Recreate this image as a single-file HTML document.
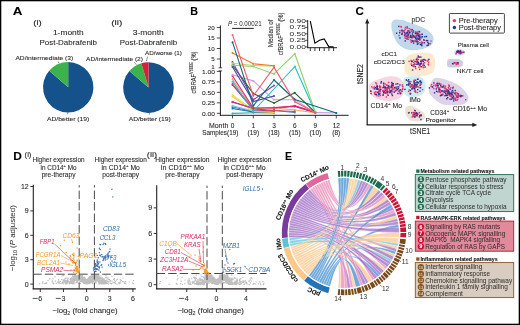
<!DOCTYPE html>
<html><head><meta charset="utf-8"><style>
html,body{margin:0;padding:0;background:#fff;}
body{width:520px;height:325px;overflow:hidden;font-family:"Liberation Sans",sans-serif;}
svg{position:absolute;left:0;top:0;will-change:transform;}
svg text{font-family:"Liberation Sans",sans-serif;}
</style></head><body>
<svg width="520" height="325" viewBox="0 0 520 325">
<rect x="0" y="0" width="520" height="325" fill="#fff"/>
<g fill="#231f20">
<text style="stroke:#000;stroke-width:0.08px" x="12.82" y="14.60" font-size="10.6" font-weight="bold" fill="#000" textLength="9.65" lengthAdjust="spacingAndGlyphs" >A</text>
<text style="stroke:#231f20;stroke-width:0.08px" x="33.26" y="25.00" font-size="7.6" textLength="8.58" lengthAdjust="spacingAndGlyphs" >(i)</text>
<text style="stroke:#231f20;stroke-width:0.08px" x="52.95" y="35.30" font-size="7.8" textLength="30.80" lengthAdjust="spacingAndGlyphs" >1-month</text>
<text style="stroke:#231f20;stroke-width:0.08px" x="39.55" y="44.60" font-size="7.8" textLength="57.50" lengthAdjust="spacingAndGlyphs" >Post-Dabrafenib</text>
<text style="stroke:#231f20;stroke-width:0.08px" x="111.16" y="25.20" font-size="7.6" textLength="11.18" lengthAdjust="spacingAndGlyphs" >(ii)</text>
<text style="stroke:#231f20;stroke-width:0.08px" x="132.75" y="35.20" font-size="7.8" textLength="31.00" lengthAdjust="spacingAndGlyphs" >3-month</text>
<text style="stroke:#231f20;stroke-width:0.08px" x="119.75" y="44.60" font-size="7.8" textLength="57.30" lengthAdjust="spacingAndGlyphs" >Post-Dabrafenib</text>
<path d="M68.2,87.3 L68.20,62.10 A25.2,25.2 0 1 1 49.16,70.80 Z" fill="#15518b" stroke="none" stroke-width="0.8" />
<path d="M68.2,87.3 L49.16,70.80 A25.2,25.2 0 0 1 68.20,62.10 Z" fill="#3bb34a" stroke="none" stroke-width="0.8" />
<path d="M148.5,87.6 L148.50,62.30 A25.3,25.3 0 1 1 129.38,71.03 Z" fill="#15518b" stroke="none" stroke-width="0.8" />
<path d="M148.5,87.6 L129.38,71.03 A25.3,25.3 0 0 1 141.37,63.32 Z" fill="#3bb34a" stroke="none" stroke-width="0.8" />
<path d="M148.5,87.6 L141.37,63.32 A25.3,25.3 0 0 1 148.50,62.30 Z" fill="#d51f3b" stroke="none" stroke-width="0.8" />
<text style="stroke:#231f20;stroke-width:0.08px" x="15.43" y="59.80" font-size="6.0" textLength="57.84" lengthAdjust="spacingAndGlyphs" >AD/intermediate (3)</text>
<text style="stroke:#231f20;stroke-width:0.08px" x="46.93" y="121.40" font-size="6.0" textLength="42.34" lengthAdjust="spacingAndGlyphs" >AD/better (19)</text>
<text style="stroke:#231f20;stroke-width:0.08px" x="86.03" y="61.00" font-size="6.0" textLength="56.94" lengthAdjust="spacingAndGlyphs" >AD/intermediate (2)</text>
<text style="stroke:#231f20;stroke-width:0.08px" x="144.93" y="55.20" font-size="6.0" textLength="37.04" lengthAdjust="spacingAndGlyphs" >AD/worse (1)</text>
<text style="stroke:#231f20;stroke-width:0.08px" x="128.73" y="121.40" font-size="6.0" textLength="42.04" lengthAdjust="spacingAndGlyphs" >AD/better (19)</text>
<line x1="58.20" y1="61.40" x2="58.90" y2="63.50" stroke="#231f20" stroke-width="0.5" />
<line x1="67.70" y1="112.40" x2="67.70" y2="114.30" stroke="#231f20" stroke-width="0.5" />
<line x1="149.40" y1="112.80" x2="149.40" y2="114.60" stroke="#231f20" stroke-width="0.5" />
<line x1="134.40" y1="62.30" x2="136.30" y2="64.70" stroke="#231f20" stroke-width="0.5" />
<line x1="147.50" y1="56.60" x2="146.50" y2="61.00" stroke="#231f20" stroke-width="0.5" />
<text style="stroke:#000;stroke-width:0.08px" x="190.32" y="14.60" font-size="10.6" font-weight="bold" fill="#000" textLength="7.75" lengthAdjust="spacingAndGlyphs" >B</text>
<line x1="220.40" y1="25.40" x2="220.40" y2="67.80" stroke="#231f20" stroke-width="1.0" />
<line x1="220.40" y1="70.90" x2="220.40" y2="115.70" stroke="#231f20" stroke-width="1.0" />
<line x1="218.70" y1="67.80" x2="222.10" y2="67.80" stroke="#231f20" stroke-width="0.8" />
<line x1="218.70" y1="70.90" x2="222.10" y2="70.90" stroke="#231f20" stroke-width="0.8" />
<line x1="216.80" y1="27.50" x2="220.40" y2="27.50" stroke="#231f20" stroke-width="0.8" />
<text style="stroke:#231f20;stroke-width:0.08px" x="214.60" y="29.70" font-size="6.2" text-anchor="end" >20</text>
<line x1="216.80" y1="38.00" x2="220.40" y2="38.00" stroke="#231f20" stroke-width="0.8" />
<text style="stroke:#231f20;stroke-width:0.08px" x="214.60" y="40.20" font-size="6.2" text-anchor="end" >15</text>
<line x1="216.80" y1="48.50" x2="220.40" y2="48.50" stroke="#231f20" stroke-width="0.8" />
<text style="stroke:#231f20;stroke-width:0.08px" x="214.60" y="50.70" font-size="6.2" text-anchor="end" >10</text>
<line x1="216.80" y1="59.00" x2="220.40" y2="59.00" stroke="#231f20" stroke-width="0.8" />
<text style="stroke:#231f20;stroke-width:0.08px" x="214.60" y="61.20" font-size="6.2" text-anchor="end" >5</text>
<text style="stroke:#231f20;stroke-width:0.08px" x="214.60" y="68.70" font-size="6.2" text-anchor="end" >1</text>
<line x1="216.80" y1="71.40" x2="220.40" y2="71.40" stroke="#231f20" stroke-width="0.8" />
<text style="stroke:#231f20;stroke-width:0.08px" x="215.00" y="73.60" font-size="6.2" text-anchor="end" textLength="12.9" lengthAdjust="spacingAndGlyphs">1.00</text>
<line x1="216.80" y1="81.88" x2="220.40" y2="81.88" stroke="#231f20" stroke-width="0.8" />
<text style="stroke:#231f20;stroke-width:0.08px" x="215.00" y="84.08" font-size="6.2" text-anchor="end" textLength="12.9" lengthAdjust="spacingAndGlyphs">0.75</text>
<line x1="216.80" y1="92.35" x2="220.40" y2="92.35" stroke="#231f20" stroke-width="0.8" />
<text style="stroke:#231f20;stroke-width:0.08px" x="215.00" y="94.55" font-size="6.2" text-anchor="end" textLength="12.9" lengthAdjust="spacingAndGlyphs">0.50</text>
<line x1="216.80" y1="102.83" x2="220.40" y2="102.83" stroke="#231f20" stroke-width="0.8" />
<text style="stroke:#231f20;stroke-width:0.08px" x="215.00" y="105.03" font-size="6.2" text-anchor="end" textLength="12.9" lengthAdjust="spacingAndGlyphs">0.25</text>
<line x1="216.80" y1="113.30" x2="220.40" y2="113.30" stroke="#231f20" stroke-width="0.8" />
<text style="stroke:#231f20;stroke-width:0.08px" x="215.00" y="115.50" font-size="6.2" text-anchor="end" textLength="12.9" lengthAdjust="spacingAndGlyphs">0.00</text>
<line x1="219.90" y1="115.30" x2="348.60" y2="115.30" stroke="#231f20" stroke-width="1.0" />
<line x1="232.50" y1="115.30" x2="232.50" y2="118.40" stroke="#231f20" stroke-width="0.8" />
<line x1="253.30" y1="115.30" x2="253.30" y2="118.40" stroke="#231f20" stroke-width="0.8" />
<line x1="274.00" y1="115.30" x2="274.00" y2="118.40" stroke="#231f20" stroke-width="0.8" />
<line x1="294.80" y1="115.30" x2="294.80" y2="118.40" stroke="#231f20" stroke-width="0.8" />
<line x1="315.40" y1="115.30" x2="315.40" y2="118.40" stroke="#231f20" stroke-width="0.8" />
<line x1="336.30" y1="115.30" x2="336.30" y2="118.40" stroke="#231f20" stroke-width="0.8" />
<text style="stroke:#231f20;stroke-width:0.08px" x="232.50" y="127.50" font-size="6.5" text-anchor="middle" >0</text>
<text style="stroke:#231f20;stroke-width:0.08px" x="253.30" y="127.50" font-size="6.5" text-anchor="middle" >1</text>
<text style="stroke:#231f20;stroke-width:0.08px" x="253.30" y="134.60" font-size="6.5" text-anchor="middle" >(19)</text>
<text style="stroke:#231f20;stroke-width:0.08px" x="274.00" y="127.50" font-size="6.5" text-anchor="middle" >3</text>
<text style="stroke:#231f20;stroke-width:0.08px" x="274.00" y="134.60" font-size="6.5" text-anchor="middle" >(18)</text>
<text style="stroke:#231f20;stroke-width:0.08px" x="294.80" y="127.50" font-size="6.5" text-anchor="middle" >6</text>
<text style="stroke:#231f20;stroke-width:0.08px" x="294.80" y="134.60" font-size="6.5" text-anchor="middle" >(15)</text>
<text style="stroke:#231f20;stroke-width:0.08px" x="315.40" y="127.50" font-size="6.5" text-anchor="middle" >9</text>
<text style="stroke:#231f20;stroke-width:0.08px" x="315.40" y="134.60" font-size="6.5" text-anchor="middle" >(10)</text>
<text style="stroke:#231f20;stroke-width:0.08px" x="336.30" y="127.50" font-size="6.5" text-anchor="middle" >12</text>
<text style="stroke:#231f20;stroke-width:0.08px" x="336.30" y="134.60" font-size="6.5" text-anchor="middle" >(8)</text>
<text style="stroke:#231f20;stroke-width:0.08px" x="208.91" y="127.50" font-size="6.5" textLength="19.39" lengthAdjust="spacingAndGlyphs" >Month</text>
<text style="stroke:#231f20;stroke-width:0.08px" x="202.21" y="134.60" font-size="6.5" textLength="36.18" lengthAdjust="spacingAndGlyphs" >Samples(19)</text>
<text style="stroke:#231f20;stroke-width:0.08px" transform="translate(195.7,93.6) rotate(-90)" font-size="6.9" textLength="42" lengthAdjust="spacingAndGlyphs">cfBRAF<tspan font-size="4.8" dy="-2.6">V600E</tspan><tspan dy="2.6"> (%)</tspan></text>
<text x="228.0" y="26.1" font-size="6.5" textLength="33.6" lengthAdjust="spacingAndGlyphs"><tspan font-style="italic">P</tspan> = 0.00021</text>
<line x1="232.10" y1="28.40" x2="253.70" y2="28.40" stroke="#231f20" stroke-width="1.0" />
<path d="M232.5,113.4 L253.3,112.8 L274.0,112.9" fill="none" stroke="#2bb0b0" stroke-width="1.1" stroke-linejoin="round"/>
<circle cx="232.50" cy="113.40" r="1.0" fill="#2bb0b0" />
<circle cx="253.30" cy="112.80" r="1.0" fill="#2bb0b0" />
<circle cx="274.00" cy="112.90" r="1.0" fill="#2bb0b0" />
<path d="M232.5,107.0 L253.3,111.5 L274.0,110.5 L294.8,112.5" fill="none" stroke="#3a8ad0" stroke-width="1.1" stroke-linejoin="round"/>
<circle cx="232.50" cy="107.00" r="1.0" fill="#3a8ad0" />
<circle cx="253.30" cy="111.50" r="1.0" fill="#3a8ad0" />
<circle cx="274.00" cy="110.50" r="1.0" fill="#3a8ad0" />
<circle cx="294.80" cy="112.50" r="1.0" fill="#3a8ad0" />
<path d="M232.5,108.5 L253.3,112.0 L274.0,112.2" fill="none" stroke="#1f5fb0" stroke-width="1.1" stroke-linejoin="round"/>
<circle cx="232.50" cy="108.50" r="1.0" fill="#1f5fb0" />
<circle cx="253.30" cy="112.00" r="1.0" fill="#1f5fb0" />
<circle cx="274.00" cy="112.20" r="1.0" fill="#1f5fb0" />
<path d="M232.5,105.8 L253.3,111.0 L274.0,111.5" fill="none" stroke="#6ac0e0" stroke-width="1.1" stroke-linejoin="round"/>
<circle cx="232.50" cy="105.80" r="1.0" fill="#6ac0e0" />
<circle cx="253.30" cy="111.00" r="1.0" fill="#6ac0e0" />
<circle cx="274.00" cy="111.50" r="1.0" fill="#6ac0e0" />
<path d="M232.5,95.0 L253.3,109.9 L274.0,111.0" fill="none" stroke="#e8e04a" stroke-width="1.1" stroke-linejoin="round"/>
<circle cx="232.50" cy="95.00" r="1.0" fill="#e8e04a" />
<circle cx="253.30" cy="109.90" r="1.0" fill="#e8e04a" />
<circle cx="274.00" cy="111.00" r="1.0" fill="#e8e04a" />
<path d="M232.5,96.5 L253.3,111.5 L274.0,112.5" fill="none" stroke="#f0d040" stroke-width="1.1" stroke-linejoin="round"/>
<circle cx="232.50" cy="96.50" r="1.0" fill="#f0d040" />
<circle cx="253.30" cy="111.50" r="1.0" fill="#f0d040" />
<circle cx="274.00" cy="112.50" r="1.0" fill="#f0d040" />
<path d="M232.5,101.7 L253.3,108.5 L274.0,107.5 L294.8,106.5 L315.4,112.6" fill="none" stroke="#d6287a" stroke-width="1.1" stroke-linejoin="round"/>
<circle cx="232.50" cy="101.70" r="1.0" fill="#d6287a" />
<circle cx="253.30" cy="108.50" r="1.0" fill="#d6287a" />
<circle cx="274.00" cy="107.50" r="1.0" fill="#d6287a" />
<circle cx="294.80" cy="106.50" r="1.0" fill="#d6287a" />
<circle cx="315.40" cy="112.60" r="1.0" fill="#d6287a" />
<path d="M232.5,102.3 L253.3,108.3 L274.0,108.8 L294.8,105.8 L315.4,112.3" fill="none" stroke="#c2388e" stroke-width="1.1" stroke-linejoin="round"/>
<circle cx="232.50" cy="102.30" r="1.0" fill="#c2388e" />
<circle cx="253.30" cy="108.30" r="1.0" fill="#c2388e" />
<circle cx="274.00" cy="108.80" r="1.0" fill="#c2388e" />
<circle cx="294.80" cy="105.80" r="1.0" fill="#c2388e" />
<circle cx="315.40" cy="112.30" r="1.0" fill="#c2388e" />
<path d="M232.5,85.0 L253.3,110.0 L274.0,111.0" fill="none" stroke="#a04090" stroke-width="1.1" stroke-linejoin="round"/>
<circle cx="232.50" cy="85.00" r="1.0" fill="#a04090" />
<circle cx="253.30" cy="110.00" r="1.0" fill="#a04090" />
<circle cx="274.00" cy="111.00" r="1.0" fill="#a04090" />
<path d="M232.5,79.0 L253.3,109.0 L274.0,108.0 L294.8,110.0 L315.4,112.8" fill="none" stroke="#f0a060" stroke-width="1.1" stroke-linejoin="round"/>
<circle cx="232.50" cy="79.00" r="1.0" fill="#f0a060" />
<circle cx="253.30" cy="109.00" r="1.0" fill="#f0a060" />
<circle cx="274.00" cy="108.00" r="1.0" fill="#f0a060" />
<circle cx="294.80" cy="110.00" r="1.0" fill="#f0a060" />
<circle cx="315.40" cy="112.80" r="1.0" fill="#f0a060" />
<path d="M232.5,76.0 L253.3,108.0 L274.0,107.8 L294.8,106.0 L315.4,112.5" fill="none" stroke="#e0237a" stroke-width="1.1" stroke-linejoin="round"/>
<circle cx="232.50" cy="76.00" r="1.0" fill="#e0237a" />
<circle cx="253.30" cy="108.00" r="1.0" fill="#e0237a" />
<circle cx="274.00" cy="107.80" r="1.0" fill="#e0237a" />
<circle cx="294.80" cy="106.00" r="1.0" fill="#e0237a" />
<circle cx="315.40" cy="112.50" r="1.0" fill="#e0237a" />
<path d="M232.5,84.0 L253.3,108.8 L274.0,110.5 L294.8,111.5" fill="none" stroke="#d04060" stroke-width="1.1" stroke-linejoin="round"/>
<circle cx="232.50" cy="84.00" r="1.0" fill="#d04060" />
<circle cx="253.30" cy="108.80" r="1.0" fill="#d04060" />
<circle cx="274.00" cy="110.50" r="1.0" fill="#d04060" />
<circle cx="294.80" cy="111.50" r="1.0" fill="#d04060" />
<path d="M232.5,74.7 L253.3,80.9 L274.0,99.8 L294.8,99.8 L315.4,112.6 L336.3,112.9" fill="none" stroke="#c9a2e0" stroke-width="1.1" stroke-linejoin="round"/>
<circle cx="232.50" cy="74.70" r="1.0" fill="#c9a2e0" />
<circle cx="253.30" cy="80.90" r="1.0" fill="#c9a2e0" />
<circle cx="274.00" cy="99.80" r="1.0" fill="#c9a2e0" />
<circle cx="294.80" cy="99.80" r="1.0" fill="#c9a2e0" />
<circle cx="315.40" cy="112.60" r="1.0" fill="#c9a2e0" />
<circle cx="336.30" cy="112.90" r="1.0" fill="#c9a2e0" />
<path d="M232.5,65.2 L253.3,93.6 L274.0,103.0 L294.8,92.8 L315.4,112.5" fill="none" stroke="#2d5e2e" stroke-width="1.1" stroke-linejoin="round"/>
<circle cx="232.50" cy="65.20" r="1.0" fill="#2d5e2e" />
<circle cx="253.30" cy="93.60" r="1.0" fill="#2d5e2e" />
<circle cx="274.00" cy="103.00" r="1.0" fill="#2d5e2e" />
<circle cx="294.80" cy="92.80" r="1.0" fill="#2d5e2e" />
<circle cx="315.40" cy="112.50" r="1.0" fill="#2d5e2e" />
<path d="M232.5,81.4 L253.3,111.2 L294.8,66.5 L315.4,112.5" fill="none" stroke="#22c2c2" stroke-width="1.1" stroke-linejoin="round"/>
<circle cx="232.50" cy="81.40" r="1.0" fill="#22c2c2" />
<circle cx="253.30" cy="111.20" r="1.0" fill="#22c2c2" />
<circle cx="294.80" cy="66.50" r="1.0" fill="#22c2c2" />
<circle cx="315.40" cy="112.50" r="1.0" fill="#22c2c2" />
<path d="M232.5,67.0 L253.3,101.5 L274.0,96.0" fill="none" stroke="#4a3fa8" stroke-width="1.1" stroke-linejoin="round"/>
<circle cx="232.50" cy="67.00" r="1.0" fill="#4a3fa8" />
<circle cx="253.30" cy="101.50" r="1.0" fill="#4a3fa8" />
<circle cx="274.00" cy="96.00" r="1.0" fill="#4a3fa8" />
<path d="M232.5,62.0 L253.3,99.8 L274.0,85.5" fill="none" stroke="#7a3fb2" stroke-width="1.1" stroke-linejoin="round"/>
<circle cx="232.50" cy="62.00" r="1.0" fill="#7a3fb2" />
<circle cx="253.30" cy="99.80" r="1.0" fill="#7a3fb2" />
<circle cx="274.00" cy="85.50" r="1.0" fill="#7a3fb2" />
<path d="M232.5,63.3 L253.3,65.5 L274.0,66.3" fill="none" stroke="#b5d96a" stroke-width="1.1" stroke-linejoin="round"/>
<circle cx="232.50" cy="63.30" r="1.0" fill="#b5d96a" />
<circle cx="253.30" cy="65.50" r="1.0" fill="#b5d96a" />
<circle cx="274.00" cy="66.30" r="1.0" fill="#b5d96a" />
<path d="M232.5,65.2 L253.3,66.5 L274.0,73.9 L294.8,53.8 L315.4,112.5" fill="none" stroke="#8fd070" stroke-width="1.1" stroke-linejoin="round"/>
<circle cx="232.50" cy="65.20" r="1.0" fill="#8fd070" />
<circle cx="253.30" cy="66.50" r="1.0" fill="#8fd070" />
<circle cx="274.00" cy="73.90" r="1.0" fill="#8fd070" />
<circle cx="294.80" cy="53.80" r="1.0" fill="#8fd070" />
<circle cx="315.40" cy="112.50" r="1.0" fill="#8fd070" />
<path d="M232.5,53.0 L253.3,63.8 L274.0,65.7" fill="none" stroke="#f07a2a" stroke-width="1.1" stroke-linejoin="round"/>
<circle cx="232.50" cy="53.00" r="1.0" fill="#f07a2a" />
<circle cx="253.30" cy="63.80" r="1.0" fill="#f07a2a" />
<circle cx="274.00" cy="65.70" r="1.0" fill="#f07a2a" />
<path d="M232.5,42.2 L253.3,105.8 L274.0,80.0 L294.8,99.5 L336.3,112.9" fill="none" stroke="#0e6878" stroke-width="1.1" stroke-linejoin="round"/>
<circle cx="232.50" cy="42.20" r="1.0" fill="#0e6878" />
<circle cx="253.30" cy="105.80" r="1.0" fill="#0e6878" />
<circle cx="274.00" cy="80.00" r="1.0" fill="#0e6878" />
<circle cx="294.80" cy="99.50" r="1.0" fill="#0e6878" />
<circle cx="336.30" cy="112.90" r="1.0" fill="#0e6878" />
<path d="M232.5,34.9 L253.3,95.8 L274.0,67.4 L294.8,101.7 L315.4,112.8" fill="none" stroke="#f25a6e" stroke-width="1.1" stroke-linejoin="round"/>
<circle cx="232.50" cy="34.90" r="1.0" fill="#f25a6e" />
<circle cx="253.30" cy="95.80" r="1.0" fill="#f25a6e" />
<circle cx="274.00" cy="67.40" r="1.0" fill="#f25a6e" />
<circle cx="294.80" cy="101.70" r="1.0" fill="#f25a6e" />
<circle cx="315.40" cy="112.80" r="1.0" fill="#f25a6e" />
<line x1="307.70" y1="20.00" x2="307.70" y2="48.20" stroke="#231f20" stroke-width="1.0" />
<line x1="307.20" y1="47.70" x2="337.00" y2="47.70" stroke="#231f20" stroke-width="1.0" />
<line x1="305.30" y1="21.10" x2="307.70" y2="21.10" stroke="#231f20" stroke-width="0.8" />
<text x="305.80" y="23.10" font-size="5.6" text-anchor="end" style="stroke:none" textLength="16.3" lengthAdjust="spacingAndGlyphs">0.90</text>
<line x1="305.30" y1="27.40" x2="307.70" y2="27.40" stroke="#231f20" stroke-width="0.8" />
<text x="305.80" y="29.40" font-size="5.6" text-anchor="end" style="stroke:none" textLength="16.3" lengthAdjust="spacingAndGlyphs">0.75</text>
<line x1="305.30" y1="33.80" x2="307.70" y2="33.80" stroke="#231f20" stroke-width="0.8" />
<text x="305.80" y="35.80" font-size="5.6" text-anchor="end" style="stroke:none" textLength="16.3" lengthAdjust="spacingAndGlyphs">0.50</text>
<line x1="305.30" y1="40.30" x2="307.70" y2="40.30" stroke="#231f20" stroke-width="0.8" />
<text x="305.80" y="42.30" font-size="5.6" text-anchor="end" style="stroke:none" textLength="16.3" lengthAdjust="spacingAndGlyphs">0.25</text>
<line x1="305.30" y1="46.90" x2="307.70" y2="46.90" stroke="#231f20" stroke-width="0.8" />
<text x="305.80" y="48.90" font-size="5.6" text-anchor="end" style="stroke:none" textLength="16.3" lengthAdjust="spacingAndGlyphs">0.00</text>
<line x1="310.30" y1="47.70" x2="310.30" y2="51.00" stroke="#231f20" stroke-width="0.9" />
<line x1="314.90" y1="47.70" x2="314.90" y2="51.00" stroke="#231f20" stroke-width="0.9" />
<line x1="319.50" y1="47.70" x2="319.50" y2="51.00" stroke="#231f20" stroke-width="0.9" />
<line x1="324.20" y1="47.70" x2="324.20" y2="51.00" stroke="#231f20" stroke-width="0.9" />
<line x1="328.90" y1="47.70" x2="328.90" y2="51.00" stroke="#231f20" stroke-width="0.9" />
<line x1="333.60" y1="47.70" x2="333.60" y2="51.00" stroke="#231f20" stroke-width="0.9" />
<path d="M310.3,21.1 L314.9,43.1 L319.5,40.3 L324.2,38.9 L328.9,46.9 L333.6,46.9" fill="none" stroke="#000" stroke-width="1.1" />
<text style="stroke:#231f20;stroke-width:0.08px" transform="translate(272.6,47.2) rotate(-90)" font-size="7.0" textLength="27.7" lengthAdjust="spacingAndGlyphs">Median of</text>
<text style="stroke:#231f20;stroke-width:0.08px" transform="translate(282.6,55.0) rotate(-90)" font-size="6.9" textLength="42.4" lengthAdjust="spacingAndGlyphs">cfBRAF<tspan font-size="4.8" dy="-2.6">V600E</tspan><tspan dy="2.6"> (%)</tspan></text>
<text style="stroke:#000;stroke-width:0.08px" x="355.52" y="14.60" font-size="10.6" font-weight="bold" fill="#000" textLength="8.35" lengthAdjust="spacingAndGlyphs" >C</text>
<path d="M393.00,20.50 C394.75,19.17 398.83,19.50 402.00,20.00 C405.17,20.50 408.17,22.08 412.00,23.50 C415.83,24.92 421.67,26.67 425.00,28.50 C428.33,30.33 430.58,32.50 432.00,34.50 C433.42,36.50 433.83,38.58 433.50,40.50 C433.17,42.42 432.25,44.50 430.00,46.00 C427.75,47.50 423.33,48.83 420.00,49.50 C416.67,50.17 413.17,50.50 410.00,50.00 C406.83,49.50 403.50,48.33 401.00,46.50 C398.50,44.67 396.58,42.08 395.00,39.00 C393.42,35.92 391.83,31.08 391.50,28.00 C391.17,24.92 391.25,21.83 393.00,20.50Z" fill="#bfd8ec" stroke="none" stroke-width="0.8" />
<path d="M404.50,68.00 C404.50,65.33 404.75,60.33 406.00,58.00 C407.25,55.67 408.83,54.92 412.00,54.00 C415.17,53.08 421.50,52.33 425.00,52.50 C428.50,52.67 431.30,53.25 433.00,55.00 C434.70,56.75 435.20,60.17 435.20,63.00 C435.20,65.83 434.70,69.92 433.00,72.00 C431.30,74.08 428.50,74.83 425.00,75.50 C421.50,76.17 415.17,76.25 412.00,76.00 C408.83,75.75 407.25,75.33 406.00,74.00 C404.75,72.67 404.50,70.67 404.50,68.00Z" fill="#fcead0" stroke="none" stroke-width="0.8" />
<path d="M368.80,88.00 C368.80,86.00 369.47,84.42 371.00,83.00 C372.53,81.58 375.17,80.58 378.00,79.50 C380.83,78.42 384.83,76.92 388.00,76.50 C391.17,76.08 394.50,76.08 397.00,77.00 C399.50,77.92 401.78,79.83 403.00,82.00 C404.22,84.17 404.63,87.50 404.30,90.00 C403.97,92.50 403.22,95.17 401.00,97.00 C398.78,98.83 394.67,100.58 391.00,101.00 C387.33,101.42 382.33,100.50 379.00,99.50 C375.67,98.50 372.70,96.92 371.00,95.00 C369.30,93.08 368.80,90.00 368.80,88.00Z" fill="#f7d5e3" stroke="none" stroke-width="0.8" />
<path d="M403.50,80.00 C404.33,77.75 405.25,77.08 408.00,76.50 C410.75,75.92 417.17,75.58 420.00,76.50 C422.83,77.42 424.25,79.42 425.00,82.00 C425.75,84.58 425.67,89.58 424.50,92.00 C423.33,94.42 420.75,95.75 418.00,96.50 C415.25,97.25 410.50,97.58 408.00,96.50 C405.50,95.42 403.75,92.75 403.00,90.00 C402.25,87.25 402.67,82.25 403.50,80.00Z" fill="#cdeef1" stroke="none" stroke-width="0.8" />
<path d="M428.90,90.60 C429.08,87.82 430.68,81.53 432.80,79.50 C434.92,77.47 437.35,77.48 441.60,78.40 C445.85,79.32 453.87,82.03 458.30,85.00 C462.73,87.97 467.10,93.13 468.20,96.20 C469.30,99.27 467.48,101.93 464.90,103.40 C462.32,104.87 456.58,104.92 452.70,105.00 C448.82,105.08 445.10,105.37 441.60,103.90 C438.10,102.43 433.82,98.42 431.70,96.20 C429.58,93.98 428.72,93.38 428.90,90.60Z" fill="#ddd2e9" stroke="none" stroke-width="0.8" />
<path d="M406.00,107.00 C407.00,106.13 409.00,105.47 411.00,105.80 C413.00,106.13 415.83,107.80 418.00,109.00 C420.17,110.20 422.83,111.50 424.00,113.00 C425.17,114.50 425.67,116.67 425.00,118.00 C424.33,119.33 422.17,120.50 420.00,121.00 C417.83,121.50 414.17,121.67 412.00,121.00 C409.83,120.33 408.17,118.67 407.00,117.00 C405.83,115.33 405.17,112.67 405.00,111.00 C404.83,109.33 405.00,107.87 406.00,107.00Z" fill="#ebe2d2" stroke="none" stroke-width="0.8" />
<path d="M449.00,59.30 C450.78,58.98 455.75,58.73 458.00,59.10 C460.25,59.47 461.70,60.52 462.50,61.50 C463.30,62.48 463.38,64.03 462.80,65.00 C462.22,65.97 461.30,66.92 459.00,67.30 C456.70,67.68 450.95,67.68 449.00,67.30 C447.05,66.92 447.58,66.05 447.30,65.00 C447.02,63.95 447.02,61.95 447.30,61.00 C447.58,60.05 447.22,59.62 449.00,59.30Z" fill="#cfcbe1" stroke="none" stroke-width="0.8" />
<ellipse cx="459.6" cy="52.4" rx="5.6" ry="3.3" fill="#d5e1f3"/>
<rect x="421.1" y="44.9" width="1.4" height="1.4" fill="#27348f"/>
<rect x="409.8" y="39.2" width="1.4" height="1.4" fill="#e8306c"/>
<rect x="404.8" y="26.7" width="1.4" height="1.4" fill="#e8306c"/>
<rect x="427.8" y="43.1" width="1.4" height="1.4" fill="#e8306c"/>
<rect x="411.9" y="35.1" width="1.4" height="1.4" fill="#e8306c"/>
<rect x="411.7" y="32.4" width="1.4" height="1.4" fill="#27348f"/>
<rect x="413.8" y="35.5" width="1.4" height="1.4" fill="#e8306c"/>
<rect x="406.6" y="35.1" width="1.4" height="1.4" fill="#e8306c"/>
<rect x="417.8" y="38.2" width="1.4" height="1.4" fill="#e8306c"/>
<rect x="405.4" y="32.8" width="1.4" height="1.4" fill="#e8306c"/>
<rect x="412.2" y="39.9" width="1.4" height="1.4" fill="#e8306c"/>
<rect x="428.1" y="42.9" width="1.4" height="1.4" fill="#27348f"/>
<rect x="409.0" y="32.1" width="1.4" height="1.4" fill="#27348f"/>
<rect x="415.2" y="35.1" width="1.4" height="1.4" fill="#e8306c"/>
<rect x="411.5" y="28.9" width="1.4" height="1.4" fill="#27348f"/>
<rect x="395.9" y="32.5" width="1.4" height="1.4" fill="#27348f"/>
<rect x="406.2" y="38.1" width="1.4" height="1.4" fill="#27348f"/>
<rect x="419.1" y="34.3" width="1.4" height="1.4" fill="#27348f"/>
<rect x="418.0" y="38.4" width="1.4" height="1.4" fill="#27348f"/>
<rect x="406.7" y="34.5" width="1.4" height="1.4" fill="#27348f"/>
<rect x="410.0" y="28.8" width="1.4" height="1.4" fill="#e8306c"/>
<rect x="401.4" y="32.9" width="1.4" height="1.4" fill="#27348f"/>
<rect x="403.3" y="31.3" width="1.4" height="1.4" fill="#e8306c"/>
<rect x="414.3" y="36.5" width="1.4" height="1.4" fill="#27348f"/>
<rect x="423.7" y="39.6" width="1.4" height="1.4" fill="#e8306c"/>
<rect x="415.3" y="40.9" width="1.4" height="1.4" fill="#27348f"/>
<rect x="414.9" y="31.6" width="1.4" height="1.4" fill="#27348f"/>
<rect x="411.3" y="39.9" width="1.4" height="1.4" fill="#27348f"/>
<rect x="403.9" y="30.0" width="1.4" height="1.4" fill="#e8306c"/>
<rect x="427.1" y="41.7" width="1.4" height="1.4" fill="#27348f"/>
<rect x="424.2" y="36.0" width="1.4" height="1.4" fill="#27348f"/>
<rect x="400.8" y="30.2" width="1.4" height="1.4" fill="#e8306c"/>
<rect x="427.5" y="44.5" width="1.4" height="1.4" fill="#27348f"/>
<rect x="413.5" y="40.5" width="1.4" height="1.4" fill="#e8306c"/>
<rect x="405.7" y="35.8" width="1.4" height="1.4" fill="#27348f"/>
<rect x="404.5" y="28.4" width="1.4" height="1.4" fill="#e8306c"/>
<rect x="417.9" y="38.3" width="1.4" height="1.4" fill="#e8306c"/>
<rect x="398.1" y="25.7" width="1.4" height="1.4" fill="#27348f"/>
<rect x="419.0" y="31.1" width="1.4" height="1.4" fill="#e8306c"/>
<rect x="420.7" y="33.8" width="1.4" height="1.4" fill="#e8306c"/>
<rect x="413.3" y="36.0" width="1.4" height="1.4" fill="#27348f"/>
<rect x="411.1" y="37.0" width="1.4" height="1.4" fill="#27348f"/>
<rect x="409.5" y="35.6" width="1.4" height="1.4" fill="#e8306c"/>
<rect x="406.7" y="32.8" width="1.4" height="1.4" fill="#e8306c"/>
<rect x="411.0" y="30.6" width="1.4" height="1.4" fill="#e8306c"/>
<rect x="409.8" y="34.7" width="1.4" height="1.4" fill="#e8306c"/>
<rect x="406.4" y="34.4" width="1.4" height="1.4" fill="#e8306c"/>
<rect x="421.3" y="36.3" width="1.4" height="1.4" fill="#e8306c"/>
<rect x="400.6" y="26.2" width="1.4" height="1.4" fill="#e8306c"/>
<rect x="416.6" y="37.5" width="1.4" height="1.4" fill="#27348f"/>
<rect x="417.3" y="42.9" width="1.4" height="1.4" fill="#27348f"/>
<rect x="406.1" y="32.2" width="1.4" height="1.4" fill="#27348f"/>
<rect x="416.6" y="32.6" width="1.4" height="1.4" fill="#e8306c"/>
<rect x="407.7" y="30.4" width="1.4" height="1.4" fill="#27348f"/>
<rect x="404.6" y="37.6" width="1.4" height="1.4" fill="#e8306c"/>
<rect x="418.0" y="35.4" width="1.4" height="1.4" fill="#27348f"/>
<rect x="412.9" y="31.6" width="1.4" height="1.4" fill="#e8306c"/>
<rect x="429.7" y="43.0" width="1.4" height="1.4" fill="#e8306c"/>
<rect x="407.3" y="32.4" width="1.4" height="1.4" fill="#27348f"/>
<rect x="425.7" y="39.9" width="1.4" height="1.4" fill="#27348f"/>
<rect x="405.0" y="35.2" width="1.4" height="1.4" fill="#e8306c"/>
<rect x="408.8" y="30.3" width="1.4" height="1.4" fill="#e8306c"/>
<rect x="420.9" y="42.6" width="1.4" height="1.4" fill="#e8306c"/>
<rect x="404.0" y="32.1" width="1.4" height="1.4" fill="#27348f"/>
<rect x="413.3" y="35.5" width="1.4" height="1.4" fill="#e8306c"/>
<rect x="414.7" y="32.9" width="1.4" height="1.4" fill="#e8306c"/>
<rect x="406.5" y="26.3" width="1.4" height="1.4" fill="#27348f"/>
<rect x="399.2" y="37.2" width="1.4" height="1.4" fill="#27348f"/>
<rect x="410.9" y="41.4" width="1.4" height="1.4" fill="#e8306c"/>
<rect x="412.9" y="42.4" width="1.4" height="1.4" fill="#27348f"/>
<rect x="417.5" y="34.3" width="1.4" height="1.4" fill="#e8306c"/>
<rect x="404.5" y="40.2" width="1.4" height="1.4" fill="#27348f"/>
<rect x="430.3" y="40.4" width="1.4" height="1.4" fill="#e8306c"/>
<rect x="408.1" y="33.2" width="1.4" height="1.4" fill="#e8306c"/>
<rect x="426.4" y="44.8" width="1.4" height="1.4" fill="#27348f"/>
<rect x="416.7" y="34.0" width="1.4" height="1.4" fill="#27348f"/>
<rect x="414.9" y="32.7" width="1.4" height="1.4" fill="#27348f"/>
<rect x="411.8" y="37.0" width="1.4" height="1.4" fill="#e8306c"/>
<rect x="421.7" y="36.0" width="1.4" height="1.4" fill="#27348f"/>
<rect x="404.7" y="33.3" width="1.4" height="1.4" fill="#27348f"/>
<rect x="412.6" y="35.1" width="1.4" height="1.4" fill="#27348f"/>
<rect x="415.1" y="37.7" width="1.4" height="1.4" fill="#27348f"/>
<rect x="417.9" y="38.5" width="1.4" height="1.4" fill="#27348f"/>
<rect x="407.6" y="34.6" width="1.4" height="1.4" fill="#e8306c"/>
<rect x="410.3" y="41.3" width="1.4" height="1.4" fill="#e8306c"/>
<rect x="419.8" y="36.4" width="1.4" height="1.4" fill="#27348f"/>
<rect x="418.6" y="36.2" width="1.4" height="1.4" fill="#e8306c"/>
<rect x="407.7" y="33.9" width="1.4" height="1.4" fill="#27348f"/>
<rect x="413.0" y="35.9" width="1.4" height="1.4" fill="#27348f"/>
<rect x="406.6" y="38.4" width="1.4" height="1.4" fill="#e8306c"/>
<rect x="410.1" y="36.0" width="1.4" height="1.4" fill="#27348f"/>
<rect x="415.9" y="38.8" width="1.4" height="1.4" fill="#27348f"/>
<rect x="423.0" y="39.2" width="1.4" height="1.4" fill="#27348f"/>
<rect x="409.1" y="31.6" width="1.4" height="1.4" fill="#27348f"/>
<rect x="408.5" y="36.8" width="1.4" height="1.4" fill="#e8306c"/>
<rect x="399.0" y="32.0" width="1.4" height="1.4" fill="#27348f"/>
<rect x="420.5" y="37.3" width="1.4" height="1.4" fill="#e8306c"/>
<rect x="407.1" y="36.5" width="1.4" height="1.4" fill="#27348f"/>
<rect x="418.4" y="35.8" width="1.4" height="1.4" fill="#e8306c"/>
<rect x="401.2" y="29.5" width="1.4" height="1.4" fill="#27348f"/>
<rect x="411.6" y="36.0" width="1.4" height="1.4" fill="#e8306c"/>
<rect x="421.0" y="41.3" width="1.4" height="1.4" fill="#e8306c"/>
<rect x="422.0" y="42.0" width="1.4" height="1.4" fill="#e8306c"/>
<rect x="416.1" y="32.5" width="1.4" height="1.4" fill="#27348f"/>
<rect x="416.3" y="41.1" width="1.4" height="1.4" fill="#27348f"/>
<rect x="416.7" y="43.5" width="1.4" height="1.4" fill="#27348f"/>
<rect x="416.3" y="33.9" width="1.4" height="1.4" fill="#e8306c"/>
<rect x="419.1" y="38.9" width="1.4" height="1.4" fill="#27348f"/>
<rect x="421.6" y="33.6" width="1.4" height="1.4" fill="#27348f"/>
<rect x="414.5" y="40.3" width="1.4" height="1.4" fill="#e8306c"/>
<rect x="411.0" y="29.1" width="1.4" height="1.4" fill="#e8306c"/>
<rect x="417.4" y="32.8" width="1.4" height="1.4" fill="#27348f"/>
<rect x="418.8" y="34.6" width="1.4" height="1.4" fill="#e8306c"/>
<rect x="407.3" y="36.1" width="1.4" height="1.4" fill="#e8306c"/>
<rect x="407.4" y="30.2" width="1.4" height="1.4" fill="#27348f"/>
<rect x="418.9" y="39.6" width="1.4" height="1.4" fill="#e8306c"/>
<rect x="415.8" y="39.2" width="1.4" height="1.4" fill="#27348f"/>
<rect x="403.8" y="34.5" width="1.4" height="1.4" fill="#27348f"/>
<rect x="411.7" y="35.8" width="1.4" height="1.4" fill="#27348f"/>
<rect x="399.1" y="30.1" width="1.4" height="1.4" fill="#e8306c"/>
<rect x="408.4" y="27.9" width="1.4" height="1.4" fill="#e8306c"/>
<rect x="401.7" y="31.4" width="1.4" height="1.4" fill="#e8306c"/>
<rect x="401.2" y="33.7" width="1.4" height="1.4" fill="#27348f"/>
<rect x="418.5" y="36.4" width="1.4" height="1.4" fill="#27348f"/>
<rect x="414.9" y="37.0" width="1.4" height="1.4" fill="#27348f"/>
<rect x="416.1" y="35.4" width="1.4" height="1.4" fill="#27348f"/>
<rect x="418.3" y="35.6" width="1.4" height="1.4" fill="#27348f"/>
<rect x="417.8" y="34.6" width="1.4" height="1.4" fill="#27348f"/>
<rect x="412.7" y="30.2" width="1.4" height="1.4" fill="#27348f"/>
<rect x="407.2" y="32.4" width="1.4" height="1.4" fill="#e8306c"/>
<rect x="412.3" y="40.7" width="1.4" height="1.4" fill="#27348f"/>
<rect x="423.7" y="42.1" width="1.4" height="1.4" fill="#27348f"/>
<rect x="404.3" y="36.2" width="1.4" height="1.4" fill="#e8306c"/>
<rect x="411.9" y="34.2" width="1.4" height="1.4" fill="#27348f"/>
<rect x="418.1" y="32.5" width="1.4" height="1.4" fill="#e8306c"/>
<rect x="419.7" y="43.9" width="1.4" height="1.4" fill="#27348f"/>
<rect x="406.3" y="27.8" width="1.4" height="1.4" fill="#e8306c"/>
<rect x="398.4" y="34.8" width="1.4" height="1.4" fill="#e8306c"/>
<rect x="414.7" y="39.6" width="1.4" height="1.4" fill="#e8306c"/>
<rect x="419.2" y="42.0" width="1.4" height="1.4" fill="#e8306c"/>
<rect x="416.4" y="39.5" width="1.4" height="1.4" fill="#e8306c"/>
<rect x="411.9" y="35.0" width="1.4" height="1.4" fill="#e8306c"/>
<rect x="410.0" y="34.9" width="1.4" height="1.4" fill="#27348f"/>
<rect x="400.3" y="25.9" width="1.4" height="1.4" fill="#e8306c"/>
<rect x="407.7" y="38.6" width="1.4" height="1.4" fill="#e8306c"/>
<rect x="406.6" y="31.6" width="1.4" height="1.4" fill="#27348f"/>
<rect x="418.4" y="30.8" width="1.4" height="1.4" fill="#27348f"/>
<rect x="402.4" y="30.2" width="1.4" height="1.4" fill="#27348f"/>
<rect x="415.0" y="31.4" width="1.4" height="1.4" fill="#e8306c"/>
<rect x="410.2" y="36.6" width="1.4" height="1.4" fill="#27348f"/>
<rect x="421.0" y="43.5" width="1.4" height="1.4" fill="#27348f"/>
<rect x="426.9" y="39.9" width="1.4" height="1.4" fill="#27348f"/>
<rect x="417.3" y="41.1" width="1.4" height="1.4" fill="#27348f"/>
<rect x="406.3" y="37.5" width="1.4" height="1.4" fill="#e8306c"/>
<rect x="411.5" y="35.1" width="1.4" height="1.4" fill="#e8306c"/>
<rect x="404.3" y="33.3" width="1.4" height="1.4" fill="#e8306c"/>
<rect x="416.6" y="31.3" width="1.4" height="1.4" fill="#e8306c"/>
<rect x="407.8" y="30.5" width="1.4" height="1.4" fill="#e8306c"/>
<rect x="418.9" y="38.2" width="1.4" height="1.4" fill="#27348f"/>
<rect x="425.8" y="35.8" width="1.4" height="1.4" fill="#27348f"/>
<rect x="420.7" y="62.4" width="1.4" height="1.4" fill="#27348f"/>
<rect x="416.6" y="57.3" width="1.4" height="1.4" fill="#e8306c"/>
<rect x="411.4" y="60.5" width="1.4" height="1.4" fill="#27348f"/>
<rect x="422.3" y="64.8" width="1.4" height="1.4" fill="#e8306c"/>
<rect x="425.1" y="59.7" width="1.4" height="1.4" fill="#e8306c"/>
<rect x="418.3" y="63.3" width="1.4" height="1.4" fill="#e8306c"/>
<rect x="413.4" y="63.9" width="1.4" height="1.4" fill="#e8306c"/>
<rect x="423.4" y="58.7" width="1.4" height="1.4" fill="#27348f"/>
<rect x="418.5" y="63.0" width="1.4" height="1.4" fill="#e8306c"/>
<rect x="423.5" y="64.6" width="1.4" height="1.4" fill="#27348f"/>
<rect x="416.2" y="60.7" width="1.4" height="1.4" fill="#27348f"/>
<rect x="420.1" y="56.4" width="1.4" height="1.4" fill="#27348f"/>
<rect x="418.1" y="56.1" width="1.4" height="1.4" fill="#e8306c"/>
<rect x="424.4" y="66.3" width="1.4" height="1.4" fill="#27348f"/>
<rect x="411.4" y="64.6" width="1.4" height="1.4" fill="#e8306c"/>
<rect x="424.2" y="59.4" width="1.4" height="1.4" fill="#27348f"/>
<rect x="411.9" y="69.3" width="1.4" height="1.4" fill="#27348f"/>
<rect x="411.1" y="64.7" width="1.4" height="1.4" fill="#27348f"/>
<rect x="416.5" y="58.6" width="1.4" height="1.4" fill="#e8306c"/>
<rect x="415.0" y="67.8" width="1.4" height="1.4" fill="#e8306c"/>
<rect x="421.9" y="60.1" width="1.4" height="1.4" fill="#27348f"/>
<rect x="415.7" y="58.7" width="1.4" height="1.4" fill="#27348f"/>
<rect x="413.1" y="59.4" width="1.4" height="1.4" fill="#e8306c"/>
<rect x="420.9" y="66.0" width="1.4" height="1.4" fill="#27348f"/>
<rect x="416.5" y="61.6" width="1.4" height="1.4" fill="#27348f"/>
<rect x="422.8" y="67.0" width="1.4" height="1.4" fill="#e8306c"/>
<rect x="415.2" y="60.5" width="1.4" height="1.4" fill="#e8306c"/>
<rect x="420.1" y="60.8" width="1.4" height="1.4" fill="#27348f"/>
<rect x="420.6" y="59.8" width="1.4" height="1.4" fill="#e8306c"/>
<rect x="422.4" y="59.0" width="1.4" height="1.4" fill="#27348f"/>
<rect x="423.9" y="62.0" width="1.4" height="1.4" fill="#e8306c"/>
<rect x="416.9" y="61.2" width="1.4" height="1.4" fill="#27348f"/>
<rect x="427.9" y="61.5" width="1.4" height="1.4" fill="#e8306c"/>
<rect x="419.0" y="68.7" width="1.4" height="1.4" fill="#e8306c"/>
<rect x="422.8" y="66.5" width="1.4" height="1.4" fill="#e8306c"/>
<rect x="419.4" y="62.9" width="1.4" height="1.4" fill="#e8306c"/>
<rect x="410.3" y="59.8" width="1.4" height="1.4" fill="#e8306c"/>
<rect x="417.7" y="63.2" width="1.4" height="1.4" fill="#e8306c"/>
<rect x="418.3" y="56.5" width="1.4" height="1.4" fill="#27348f"/>
<rect x="417.5" y="55.4" width="1.4" height="1.4" fill="#27348f"/>
<rect x="414.2" y="63.5" width="1.4" height="1.4" fill="#27348f"/>
<rect x="417.4" y="64.0" width="1.4" height="1.4" fill="#e8306c"/>
<rect x="420.3" y="60.6" width="1.4" height="1.4" fill="#27348f"/>
<rect x="413.2" y="65.9" width="1.4" height="1.4" fill="#e8306c"/>
<rect x="422.6" y="60.9" width="1.4" height="1.4" fill="#27348f"/>
<rect x="417.4" y="62.8" width="1.4" height="1.4" fill="#27348f"/>
<rect x="419.7" y="63.0" width="1.4" height="1.4" fill="#e8306c"/>
<rect x="419.9" y="63.4" width="1.4" height="1.4" fill="#27348f"/>
<rect x="419.7" y="65.9" width="1.4" height="1.4" fill="#e8306c"/>
<rect x="410.9" y="60.9" width="1.4" height="1.4" fill="#27348f"/>
<rect x="416.7" y="59.9" width="1.4" height="1.4" fill="#e8306c"/>
<rect x="417.7" y="62.3" width="1.4" height="1.4" fill="#e8306c"/>
<rect x="416.1" y="63.6" width="1.4" height="1.4" fill="#27348f"/>
<rect x="418.7" y="63.9" width="1.4" height="1.4" fill="#e8306c"/>
<rect x="419.2" y="64.6" width="1.4" height="1.4" fill="#27348f"/>
<rect x="413.5" y="63.8" width="1.4" height="1.4" fill="#27348f"/>
<rect x="427.4" y="59.4" width="1.4" height="1.4" fill="#e8306c"/>
<rect x="410.5" y="63.3" width="1.4" height="1.4" fill="#e8306c"/>
<rect x="412.4" y="65.5" width="1.4" height="1.4" fill="#e8306c"/>
<rect x="427.8" y="64.2" width="1.4" height="1.4" fill="#e8306c"/>
<rect x="414.2" y="61.1" width="1.4" height="1.4" fill="#27348f"/>
<rect x="417.6" y="62.9" width="1.4" height="1.4" fill="#27348f"/>
<rect x="422.7" y="63.3" width="1.4" height="1.4" fill="#27348f"/>
<rect x="417.7" y="61.8" width="1.4" height="1.4" fill="#e8306c"/>
<rect x="412.9" y="65.4" width="1.4" height="1.4" fill="#e8306c"/>
<rect x="416.2" y="61.9" width="1.4" height="1.4" fill="#e8306c"/>
<rect x="427.6" y="63.4" width="1.4" height="1.4" fill="#e8306c"/>
<rect x="412.7" y="61.7" width="1.4" height="1.4" fill="#e8306c"/>
<rect x="417.8" y="58.8" width="1.4" height="1.4" fill="#e8306c"/>
<rect x="420.2" y="63.0" width="1.4" height="1.4" fill="#27348f"/>
<rect x="417.7" y="61.7" width="1.4" height="1.4" fill="#27348f"/>
<rect x="419.0" y="56.6" width="1.4" height="1.4" fill="#e8306c"/>
<rect x="414.7" y="66.0" width="1.4" height="1.4" fill="#27348f"/>
<rect x="418.2" y="66.6" width="1.4" height="1.4" fill="#e8306c"/>
<rect x="428.2" y="58.7" width="1.4" height="1.4" fill="#27348f"/>
<rect x="420.4" y="59.4" width="1.4" height="1.4" fill="#e8306c"/>
<rect x="413.8" y="63.3" width="1.4" height="1.4" fill="#e8306c"/>
<rect x="408.4" y="60.7" width="1.4" height="1.4" fill="#e8306c"/>
<rect x="422.5" y="64.5" width="1.4" height="1.4" fill="#e8306c"/>
<rect x="426.8" y="60.4" width="1.4" height="1.4" fill="#e8306c"/>
<rect x="386.9" y="93.3" width="1.4" height="1.4" fill="#e8306c"/>
<rect x="376.2" y="85.4" width="1.4" height="1.4" fill="#e8306c"/>
<rect x="402.0" y="88.1" width="1.4" height="1.4" fill="#e8306c"/>
<rect x="370.0" y="90.5" width="1.4" height="1.4" fill="#e8306c"/>
<rect x="382.6" y="86.7" width="1.4" height="1.4" fill="#27348f"/>
<rect x="392.6" y="84.3" width="1.4" height="1.4" fill="#27348f"/>
<rect x="384.3" y="87.1" width="1.4" height="1.4" fill="#27348f"/>
<rect x="379.7" y="86.8" width="1.4" height="1.4" fill="#e8306c"/>
<rect x="392.0" y="84.6" width="1.4" height="1.4" fill="#27348f"/>
<rect x="395.3" y="83.4" width="1.4" height="1.4" fill="#27348f"/>
<rect x="374.0" y="93.3" width="1.4" height="1.4" fill="#e8306c"/>
<rect x="401.7" y="84.2" width="1.4" height="1.4" fill="#e8306c"/>
<rect x="389.8" y="90.2" width="1.4" height="1.4" fill="#27348f"/>
<rect x="374.9" y="91.1" width="1.4" height="1.4" fill="#e8306c"/>
<rect x="377.4" y="88.6" width="1.4" height="1.4" fill="#e8306c"/>
<rect x="376.0" y="86.1" width="1.4" height="1.4" fill="#27348f"/>
<rect x="383.3" y="86.3" width="1.4" height="1.4" fill="#27348f"/>
<rect x="373.5" y="86.3" width="1.4" height="1.4" fill="#e8306c"/>
<rect x="391.0" y="83.5" width="1.4" height="1.4" fill="#e8306c"/>
<rect x="401.3" y="90.5" width="1.4" height="1.4" fill="#27348f"/>
<rect x="398.9" y="91.4" width="1.4" height="1.4" fill="#e8306c"/>
<rect x="390.1" y="90.8" width="1.4" height="1.4" fill="#27348f"/>
<rect x="387.5" y="87.3" width="1.4" height="1.4" fill="#27348f"/>
<rect x="398.9" y="89.4" width="1.4" height="1.4" fill="#e8306c"/>
<rect x="384.6" y="89.9" width="1.4" height="1.4" fill="#27348f"/>
<rect x="391.3" y="88.5" width="1.4" height="1.4" fill="#e8306c"/>
<rect x="381.9" y="87.0" width="1.4" height="1.4" fill="#e8306c"/>
<rect x="390.6" y="85.5" width="1.4" height="1.4" fill="#27348f"/>
<rect x="392.3" y="85.6" width="1.4" height="1.4" fill="#e8306c"/>
<rect x="373.7" y="88.2" width="1.4" height="1.4" fill="#27348f"/>
<rect x="374.7" y="86.9" width="1.4" height="1.4" fill="#27348f"/>
<rect x="376.8" y="88.6" width="1.4" height="1.4" fill="#27348f"/>
<rect x="386.5" y="91.6" width="1.4" height="1.4" fill="#27348f"/>
<rect x="375.2" y="88.2" width="1.4" height="1.4" fill="#e8306c"/>
<rect x="376.3" y="91.5" width="1.4" height="1.4" fill="#e8306c"/>
<rect x="376.6" y="85.0" width="1.4" height="1.4" fill="#e8306c"/>
<rect x="379.0" y="85.4" width="1.4" height="1.4" fill="#27348f"/>
<rect x="378.1" y="93.7" width="1.4" height="1.4" fill="#27348f"/>
<rect x="388.8" y="88.3" width="1.4" height="1.4" fill="#27348f"/>
<rect x="392.0" y="87.3" width="1.4" height="1.4" fill="#e8306c"/>
<rect x="379.5" y="86.7" width="1.4" height="1.4" fill="#e8306c"/>
<rect x="382.9" y="92.0" width="1.4" height="1.4" fill="#27348f"/>
<rect x="383.4" y="92.1" width="1.4" height="1.4" fill="#27348f"/>
<rect x="396.7" y="88.6" width="1.4" height="1.4" fill="#27348f"/>
<rect x="383.7" y="91.1" width="1.4" height="1.4" fill="#27348f"/>
<rect x="386.3" y="90.8" width="1.4" height="1.4" fill="#e8306c"/>
<rect x="384.4" y="86.6" width="1.4" height="1.4" fill="#e8306c"/>
<rect x="378.1" y="95.3" width="1.4" height="1.4" fill="#e8306c"/>
<rect x="388.9" y="86.2" width="1.4" height="1.4" fill="#e8306c"/>
<rect x="375.1" y="82.1" width="1.4" height="1.4" fill="#e8306c"/>
<rect x="386.6" y="90.3" width="1.4" height="1.4" fill="#27348f"/>
<rect x="391.7" y="94.8" width="1.4" height="1.4" fill="#27348f"/>
<rect x="388.7" y="91.1" width="1.4" height="1.4" fill="#27348f"/>
<rect x="375.8" y="83.2" width="1.4" height="1.4" fill="#e8306c"/>
<rect x="390.8" y="90.5" width="1.4" height="1.4" fill="#27348f"/>
<rect x="385.0" y="92.0" width="1.4" height="1.4" fill="#e8306c"/>
<rect x="378.3" y="90.7" width="1.4" height="1.4" fill="#27348f"/>
<rect x="386.3" y="88.6" width="1.4" height="1.4" fill="#27348f"/>
<rect x="391.1" y="86.8" width="1.4" height="1.4" fill="#27348f"/>
<rect x="392.0" y="82.9" width="1.4" height="1.4" fill="#27348f"/>
<rect x="384.1" y="91.9" width="1.4" height="1.4" fill="#e8306c"/>
<rect x="396.2" y="90.0" width="1.4" height="1.4" fill="#e8306c"/>
<rect x="386.7" y="87.1" width="1.4" height="1.4" fill="#27348f"/>
<rect x="384.6" y="88.1" width="1.4" height="1.4" fill="#27348f"/>
<rect x="389.3" y="91.1" width="1.4" height="1.4" fill="#27348f"/>
<rect x="377.1" y="88.1" width="1.4" height="1.4" fill="#27348f"/>
<rect x="379.8" y="86.2" width="1.4" height="1.4" fill="#e8306c"/>
<rect x="391.9" y="84.5" width="1.4" height="1.4" fill="#27348f"/>
<rect x="382.6" y="90.6" width="1.4" height="1.4" fill="#27348f"/>
<rect x="387.8" y="86.0" width="1.4" height="1.4" fill="#27348f"/>
<rect x="399.2" y="84.2" width="1.4" height="1.4" fill="#27348f"/>
<rect x="397.7" y="87.9" width="1.4" height="1.4" fill="#27348f"/>
<rect x="392.3" y="88.9" width="1.4" height="1.4" fill="#e8306c"/>
<rect x="377.0" y="88.0" width="1.4" height="1.4" fill="#e8306c"/>
<rect x="385.9" y="88.1" width="1.4" height="1.4" fill="#e8306c"/>
<rect x="388.9" y="89.6" width="1.4" height="1.4" fill="#e8306c"/>
<rect x="402.2" y="86.2" width="1.4" height="1.4" fill="#e8306c"/>
<rect x="378.4" y="88.6" width="1.4" height="1.4" fill="#e8306c"/>
<rect x="378.8" y="93.3" width="1.4" height="1.4" fill="#27348f"/>
<rect x="382.4" y="90.5" width="1.4" height="1.4" fill="#e8306c"/>
<rect x="393.7" y="91.5" width="1.4" height="1.4" fill="#27348f"/>
<rect x="383.3" y="89.5" width="1.4" height="1.4" fill="#e8306c"/>
<rect x="377.9" y="92.6" width="1.4" height="1.4" fill="#27348f"/>
<rect x="374.9" y="93.8" width="1.4" height="1.4" fill="#27348f"/>
<rect x="378.4" y="90.3" width="1.4" height="1.4" fill="#e8306c"/>
<rect x="383.0" y="84.4" width="1.4" height="1.4" fill="#27348f"/>
<rect x="379.7" y="89.4" width="1.4" height="1.4" fill="#27348f"/>
<rect x="384.6" y="86.9" width="1.4" height="1.4" fill="#e8306c"/>
<rect x="370.4" y="92.8" width="1.4" height="1.4" fill="#27348f"/>
<rect x="387.3" y="85.2" width="1.4" height="1.4" fill="#e8306c"/>
<rect x="397.2" y="92.8" width="1.4" height="1.4" fill="#27348f"/>
<rect x="397.0" y="83.1" width="1.4" height="1.4" fill="#27348f"/>
<rect x="384.4" y="83.2" width="1.4" height="1.4" fill="#e8306c"/>
<rect x="385.1" y="88.1" width="1.4" height="1.4" fill="#e8306c"/>
<rect x="386.1" y="87.1" width="1.4" height="1.4" fill="#e8306c"/>
<rect x="400.3" y="92.4" width="1.4" height="1.4" fill="#e8306c"/>
<rect x="402.0" y="88.6" width="1.4" height="1.4" fill="#e8306c"/>
<rect x="392.6" y="83.0" width="1.4" height="1.4" fill="#27348f"/>
<rect x="396.4" y="86.2" width="1.4" height="1.4" fill="#27348f"/>
<rect x="400.0" y="89.1" width="1.4" height="1.4" fill="#27348f"/>
<rect x="384.8" y="86.5" width="1.4" height="1.4" fill="#27348f"/>
<rect x="388.5" y="87.6" width="1.4" height="1.4" fill="#e8306c"/>
<rect x="371.0" y="86.1" width="1.4" height="1.4" fill="#e8306c"/>
<rect x="388.7" y="90.9" width="1.4" height="1.4" fill="#27348f"/>
<rect x="385.8" y="84.3" width="1.4" height="1.4" fill="#e8306c"/>
<rect x="379.6" y="90.9" width="1.4" height="1.4" fill="#e8306c"/>
<rect x="394.6" y="90.2" width="1.4" height="1.4" fill="#27348f"/>
<rect x="374.0" y="92.4" width="1.4" height="1.4" fill="#e8306c"/>
<rect x="380.3" y="82.3" width="1.4" height="1.4" fill="#27348f"/>
<rect x="376.1" y="88.3" width="1.4" height="1.4" fill="#27348f"/>
<rect x="389.6" y="86.7" width="1.4" height="1.4" fill="#e8306c"/>
<rect x="376.6" y="88.3" width="1.4" height="1.4" fill="#27348f"/>
<rect x="388.6" y="91.1" width="1.4" height="1.4" fill="#e8306c"/>
<rect x="379.4" y="86.9" width="1.4" height="1.4" fill="#e8306c"/>
<rect x="382.3" y="94.5" width="1.4" height="1.4" fill="#e8306c"/>
<rect x="392.4" y="83.7" width="1.4" height="1.4" fill="#e8306c"/>
<rect x="386.2" y="89.1" width="1.4" height="1.4" fill="#e8306c"/>
<rect x="382.0" y="90.2" width="1.4" height="1.4" fill="#e8306c"/>
<rect x="379.7" y="94.8" width="1.4" height="1.4" fill="#e8306c"/>
<rect x="395.5" y="87.5" width="1.4" height="1.4" fill="#27348f"/>
<rect x="370.1" y="90.6" width="1.4" height="1.4" fill="#27348f"/>
<rect x="376.6" y="87.2" width="1.4" height="1.4" fill="#27348f"/>
<rect x="391.0" y="84.9" width="1.4" height="1.4" fill="#27348f"/>
<rect x="395.0" y="86.7" width="1.4" height="1.4" fill="#e8306c"/>
<rect x="387.4" y="94.6" width="1.4" height="1.4" fill="#27348f"/>
<rect x="401.8" y="85.4" width="1.4" height="1.4" fill="#e8306c"/>
<rect x="388.4" y="91.0" width="1.4" height="1.4" fill="#e8306c"/>
<rect x="380.7" y="81.0" width="1.4" height="1.4" fill="#27348f"/>
<rect x="385.7" y="96.3" width="1.4" height="1.4" fill="#e8306c"/>
<rect x="373.8" y="91.9" width="1.4" height="1.4" fill="#e8306c"/>
<rect x="399.5" y="91.8" width="1.4" height="1.4" fill="#e8306c"/>
<rect x="379.1" y="92.8" width="1.4" height="1.4" fill="#27348f"/>
<rect x="393.5" y="88.1" width="1.4" height="1.4" fill="#e8306c"/>
<rect x="380.0" y="88.8" width="1.4" height="1.4" fill="#27348f"/>
<rect x="393.9" y="86.8" width="1.4" height="1.4" fill="#27348f"/>
<rect x="390.9" y="90.2" width="1.4" height="1.4" fill="#27348f"/>
<rect x="399.6" y="93.0" width="1.4" height="1.4" fill="#27348f"/>
<rect x="375.8" y="93.7" width="1.4" height="1.4" fill="#27348f"/>
<rect x="382.5" y="94.2" width="1.4" height="1.4" fill="#27348f"/>
<rect x="387.9" y="85.2" width="1.4" height="1.4" fill="#27348f"/>
<rect x="398.0" y="86.2" width="1.4" height="1.4" fill="#27348f"/>
<rect x="393.5" y="91.0" width="1.4" height="1.4" fill="#e8306c"/>
<rect x="382.9" y="82.5" width="1.4" height="1.4" fill="#27348f"/>
<rect x="391.1" y="93.3" width="1.4" height="1.4" fill="#27348f"/>
<rect x="383.3" y="86.7" width="1.4" height="1.4" fill="#27348f"/>
<rect x="390.8" y="90.8" width="1.4" height="1.4" fill="#27348f"/>
<rect x="376.8" y="85.8" width="1.4" height="1.4" fill="#27348f"/>
<rect x="378.8" y="89.6" width="1.4" height="1.4" fill="#e8306c"/>
<rect x="398.2" y="90.3" width="1.4" height="1.4" fill="#27348f"/>
<rect x="372.3" y="87.2" width="1.4" height="1.4" fill="#e8306c"/>
<rect x="385.2" y="92.3" width="1.4" height="1.4" fill="#27348f"/>
<rect x="395.6" y="89.0" width="1.4" height="1.4" fill="#e8306c"/>
<rect x="386.5" y="84.5" width="1.4" height="1.4" fill="#e8306c"/>
<rect x="377.2" y="91.6" width="1.4" height="1.4" fill="#27348f"/>
<rect x="376.2" y="95.0" width="1.4" height="1.4" fill="#e8306c"/>
<rect x="385.4" y="90.1" width="1.4" height="1.4" fill="#e8306c"/>
<rect x="387.9" y="81.8" width="1.4" height="1.4" fill="#e8306c"/>
<rect x="389.3" y="92.0" width="1.4" height="1.4" fill="#27348f"/>
<rect x="391.1" y="81.9" width="1.4" height="1.4" fill="#27348f"/>
<rect x="391.2" y="91.2" width="1.4" height="1.4" fill="#e8306c"/>
<rect x="413.0" y="87.3" width="1.4" height="1.4" fill="#e8306c"/>
<rect x="413.8" y="86.6" width="1.4" height="1.4" fill="#e8306c"/>
<rect x="420.2" y="81.5" width="1.4" height="1.4" fill="#27348f"/>
<rect x="413.8" y="90.5" width="1.4" height="1.4" fill="#e8306c"/>
<rect x="413.9" y="87.1" width="1.4" height="1.4" fill="#e8306c"/>
<rect x="420.8" y="81.8" width="1.4" height="1.4" fill="#27348f"/>
<rect x="413.8" y="82.7" width="1.4" height="1.4" fill="#e8306c"/>
<rect x="407.4" y="80.4" width="1.4" height="1.4" fill="#27348f"/>
<rect x="414.3" y="84.1" width="1.4" height="1.4" fill="#27348f"/>
<rect x="410.1" y="80.9" width="1.4" height="1.4" fill="#e8306c"/>
<rect x="410.8" y="85.6" width="1.4" height="1.4" fill="#27348f"/>
<rect x="416.8" y="81.3" width="1.4" height="1.4" fill="#e8306c"/>
<rect x="418.0" y="82.3" width="1.4" height="1.4" fill="#27348f"/>
<rect x="416.1" y="81.2" width="1.4" height="1.4" fill="#e8306c"/>
<rect x="408.7" y="82.7" width="1.4" height="1.4" fill="#e8306c"/>
<rect x="409.8" y="92.6" width="1.4" height="1.4" fill="#e8306c"/>
<rect x="419.2" y="87.0" width="1.4" height="1.4" fill="#e8306c"/>
<rect x="407.6" y="84.3" width="1.4" height="1.4" fill="#e8306c"/>
<rect x="415.9" y="85.3" width="1.4" height="1.4" fill="#e8306c"/>
<rect x="414.8" y="91.1" width="1.4" height="1.4" fill="#e8306c"/>
<rect x="407.9" y="90.8" width="1.4" height="1.4" fill="#e8306c"/>
<rect x="414.2" y="86.2" width="1.4" height="1.4" fill="#e8306c"/>
<rect x="413.4" y="79.5" width="1.4" height="1.4" fill="#e8306c"/>
<rect x="411.4" y="87.6" width="1.4" height="1.4" fill="#27348f"/>
<rect x="419.9" y="87.0" width="1.4" height="1.4" fill="#27348f"/>
<rect x="420.2" y="83.4" width="1.4" height="1.4" fill="#27348f"/>
<rect x="416.7" y="85.7" width="1.4" height="1.4" fill="#27348f"/>
<rect x="413.6" y="81.0" width="1.4" height="1.4" fill="#27348f"/>
<rect x="406.4" y="79.9" width="1.4" height="1.4" fill="#e8306c"/>
<rect x="414.7" y="89.6" width="1.4" height="1.4" fill="#e8306c"/>
<rect x="412.5" y="85.8" width="1.4" height="1.4" fill="#e8306c"/>
<rect x="416.8" y="91.8" width="1.4" height="1.4" fill="#e8306c"/>
<rect x="412.3" y="87.2" width="1.4" height="1.4" fill="#27348f"/>
<rect x="409.9" y="86.6" width="1.4" height="1.4" fill="#e8306c"/>
<rect x="415.5" y="86.2" width="1.4" height="1.4" fill="#27348f"/>
<rect x="413.6" y="86.3" width="1.4" height="1.4" fill="#27348f"/>
<rect x="417.0" y="88.9" width="1.4" height="1.4" fill="#27348f"/>
<rect x="409.3" y="85.7" width="1.4" height="1.4" fill="#e8306c"/>
<rect x="417.6" y="86.3" width="1.4" height="1.4" fill="#e8306c"/>
<rect x="419.7" y="80.2" width="1.4" height="1.4" fill="#27348f"/>
<rect x="416.4" y="85.9" width="1.4" height="1.4" fill="#e8306c"/>
<rect x="413.7" y="88.3" width="1.4" height="1.4" fill="#27348f"/>
<rect x="413.8" y="86.4" width="1.4" height="1.4" fill="#27348f"/>
<rect x="408.0" y="79.1" width="1.4" height="1.4" fill="#27348f"/>
<rect x="410.7" y="85.4" width="1.4" height="1.4" fill="#e8306c"/>
<rect x="416.6" y="83.5" width="1.4" height="1.4" fill="#27348f"/>
<rect x="414.9" y="79.5" width="1.4" height="1.4" fill="#27348f"/>
<rect x="406.0" y="84.2" width="1.4" height="1.4" fill="#27348f"/>
<rect x="414.6" y="84.8" width="1.4" height="1.4" fill="#27348f"/>
<rect x="419.7" y="83.8" width="1.4" height="1.4" fill="#e8306c"/>
<rect x="414.8" y="84.0" width="1.4" height="1.4" fill="#27348f"/>
<rect x="412.0" y="84.0" width="1.4" height="1.4" fill="#e8306c"/>
<rect x="408.7" y="81.2" width="1.4" height="1.4" fill="#27348f"/>
<rect x="415.8" y="84.0" width="1.4" height="1.4" fill="#e8306c"/>
<rect x="413.5" y="85.0" width="1.4" height="1.4" fill="#27348f"/>
<rect x="419.3" y="90.5" width="1.4" height="1.4" fill="#27348f"/>
<rect x="417.1" y="81.6" width="1.4" height="1.4" fill="#27348f"/>
<rect x="414.9" y="91.4" width="1.4" height="1.4" fill="#e8306c"/>
<rect x="419.2" y="80.7" width="1.4" height="1.4" fill="#27348f"/>
<rect x="411.7" y="85.1" width="1.4" height="1.4" fill="#e8306c"/>
<rect x="408.2" y="82.5" width="1.4" height="1.4" fill="#27348f"/>
<rect x="410.8" y="83.8" width="1.4" height="1.4" fill="#e8306c"/>
<rect x="413.4" y="80.2" width="1.4" height="1.4" fill="#e8306c"/>
<rect x="417.5" y="78.5" width="1.4" height="1.4" fill="#e8306c"/>
<rect x="408.3" y="84.2" width="1.4" height="1.4" fill="#27348f"/>
<rect x="411.5" y="88.2" width="1.4" height="1.4" fill="#27348f"/>
<rect x="414.9" y="84.9" width="1.4" height="1.4" fill="#e8306c"/>
<rect x="405.6" y="79.2" width="1.4" height="1.4" fill="#27348f"/>
<rect x="404.2" y="88.7" width="1.4" height="1.4" fill="#27348f"/>
<rect x="421.8" y="88.9" width="1.4" height="1.4" fill="#e8306c"/>
<rect x="409.9" y="93.0" width="1.4" height="1.4" fill="#e8306c"/>
<rect x="413.7" y="82.8" width="1.4" height="1.4" fill="#27348f"/>
<rect x="414.0" y="87.5" width="1.4" height="1.4" fill="#27348f"/>
<rect x="409.7" y="89.8" width="1.4" height="1.4" fill="#27348f"/>
<rect x="412.7" y="84.9" width="1.4" height="1.4" fill="#e8306c"/>
<rect x="407.5" y="83.9" width="1.4" height="1.4" fill="#27348f"/>
<rect x="410.9" y="85.5" width="1.4" height="1.4" fill="#e8306c"/>
<rect x="415.4" y="82.0" width="1.4" height="1.4" fill="#27348f"/>
<rect x="419.4" y="84.8" width="1.4" height="1.4" fill="#27348f"/>
<rect x="409.6" y="83.0" width="1.4" height="1.4" fill="#27348f"/>
<rect x="409.5" y="93.3" width="1.4" height="1.4" fill="#27348f"/>
<rect x="408.9" y="82.3" width="1.4" height="1.4" fill="#e8306c"/>
<rect x="413.4" y="81.3" width="1.4" height="1.4" fill="#27348f"/>
<rect x="414.1" y="86.6" width="1.4" height="1.4" fill="#e8306c"/>
<rect x="413.9" y="82.8" width="1.4" height="1.4" fill="#27348f"/>
<rect x="408.5" y="89.3" width="1.4" height="1.4" fill="#e8306c"/>
<rect x="411.3" y="84.0" width="1.4" height="1.4" fill="#e8306c"/>
<rect x="415.6" y="84.3" width="1.4" height="1.4" fill="#27348f"/>
<rect x="410.9" y="88.5" width="1.4" height="1.4" fill="#e8306c"/>
<rect x="416.9" y="78.6" width="1.4" height="1.4" fill="#27348f"/>
<rect x="436.9" y="83.2" width="1.4" height="1.4" fill="#27348f"/>
<rect x="461.3" y="95.2" width="1.4" height="1.4" fill="#27348f"/>
<rect x="456.2" y="96.1" width="1.4" height="1.4" fill="#27348f"/>
<rect x="453.2" y="96.9" width="1.4" height="1.4" fill="#e8306c"/>
<rect x="435.1" y="85.4" width="1.4" height="1.4" fill="#e8306c"/>
<rect x="446.8" y="94.5" width="1.4" height="1.4" fill="#27348f"/>
<rect x="447.6" y="89.6" width="1.4" height="1.4" fill="#27348f"/>
<rect x="453.2" y="98.1" width="1.4" height="1.4" fill="#e8306c"/>
<rect x="465.0" y="99.0" width="1.4" height="1.4" fill="#e8306c"/>
<rect x="452.4" y="91.5" width="1.4" height="1.4" fill="#27348f"/>
<rect x="433.2" y="84.6" width="1.4" height="1.4" fill="#e8306c"/>
<rect x="460.3" y="94.8" width="1.4" height="1.4" fill="#27348f"/>
<rect x="453.1" y="92.1" width="1.4" height="1.4" fill="#e8306c"/>
<rect x="448.3" y="93.9" width="1.4" height="1.4" fill="#e8306c"/>
<rect x="440.6" y="93.9" width="1.4" height="1.4" fill="#e8306c"/>
<rect x="443.7" y="87.2" width="1.4" height="1.4" fill="#e8306c"/>
<rect x="452.1" y="89.7" width="1.4" height="1.4" fill="#e8306c"/>
<rect x="431.7" y="86.1" width="1.4" height="1.4" fill="#e8306c"/>
<rect x="448.3" y="92.0" width="1.4" height="1.4" fill="#27348f"/>
<rect x="447.5" y="91.2" width="1.4" height="1.4" fill="#27348f"/>
<rect x="436.9" y="91.2" width="1.4" height="1.4" fill="#e8306c"/>
<rect x="451.7" y="94.2" width="1.4" height="1.4" fill="#27348f"/>
<rect x="449.4" y="98.5" width="1.4" height="1.4" fill="#27348f"/>
<rect x="454.7" y="93.5" width="1.4" height="1.4" fill="#e8306c"/>
<rect x="430.8" y="84.0" width="1.4" height="1.4" fill="#e8306c"/>
<rect x="448.5" y="85.4" width="1.4" height="1.4" fill="#27348f"/>
<rect x="452.8" y="95.8" width="1.4" height="1.4" fill="#27348f"/>
<rect x="454.2" y="92.8" width="1.4" height="1.4" fill="#27348f"/>
<rect x="438.9" y="87.4" width="1.4" height="1.4" fill="#e8306c"/>
<rect x="447.5" y="93.1" width="1.4" height="1.4" fill="#e8306c"/>
<rect x="447.5" y="92.8" width="1.4" height="1.4" fill="#27348f"/>
<rect x="437.3" y="86.9" width="1.4" height="1.4" fill="#e8306c"/>
<rect x="433.3" y="82.1" width="1.4" height="1.4" fill="#e8306c"/>
<rect x="443.3" y="90.7" width="1.4" height="1.4" fill="#27348f"/>
<rect x="456.6" y="96.4" width="1.4" height="1.4" fill="#27348f"/>
<rect x="455.0" y="99.3" width="1.4" height="1.4" fill="#27348f"/>
<rect x="436.8" y="82.6" width="1.4" height="1.4" fill="#e8306c"/>
<rect x="441.2" y="90.1" width="1.4" height="1.4" fill="#27348f"/>
<rect x="442.1" y="93.6" width="1.4" height="1.4" fill="#27348f"/>
<rect x="435.6" y="88.2" width="1.4" height="1.4" fill="#27348f"/>
<rect x="438.5" y="88.6" width="1.4" height="1.4" fill="#e8306c"/>
<rect x="450.7" y="96.0" width="1.4" height="1.4" fill="#27348f"/>
<rect x="459.4" y="95.3" width="1.4" height="1.4" fill="#e8306c"/>
<rect x="443.7" y="91.6" width="1.4" height="1.4" fill="#e8306c"/>
<rect x="452.6" y="86.4" width="1.4" height="1.4" fill="#e8306c"/>
<rect x="452.1" y="87.3" width="1.4" height="1.4" fill="#27348f"/>
<rect x="440.1" y="83.3" width="1.4" height="1.4" fill="#e8306c"/>
<rect x="445.2" y="87.9" width="1.4" height="1.4" fill="#e8306c"/>
<rect x="450.1" y="87.1" width="1.4" height="1.4" fill="#e8306c"/>
<rect x="459.6" y="94.8" width="1.4" height="1.4" fill="#27348f"/>
<rect x="457.8" y="96.3" width="1.4" height="1.4" fill="#e8306c"/>
<rect x="442.7" y="86.1" width="1.4" height="1.4" fill="#27348f"/>
<rect x="438.2" y="82.6" width="1.4" height="1.4" fill="#e8306c"/>
<rect x="438.6" y="83.3" width="1.4" height="1.4" fill="#27348f"/>
<rect x="433.8" y="92.1" width="1.4" height="1.4" fill="#27348f"/>
<rect x="457.5" y="94.6" width="1.4" height="1.4" fill="#27348f"/>
<rect x="453.0" y="100.2" width="1.4" height="1.4" fill="#27348f"/>
<rect x="431.9" y="86.3" width="1.4" height="1.4" fill="#27348f"/>
<rect x="446.4" y="89.0" width="1.4" height="1.4" fill="#27348f"/>
<rect x="435.3" y="84.1" width="1.4" height="1.4" fill="#e8306c"/>
<rect x="436.5" y="82.8" width="1.4" height="1.4" fill="#27348f"/>
<rect x="446.2" y="90.4" width="1.4" height="1.4" fill="#e8306c"/>
<rect x="433.1" y="87.9" width="1.4" height="1.4" fill="#e8306c"/>
<rect x="442.9" y="85.0" width="1.4" height="1.4" fill="#e8306c"/>
<rect x="439.6" y="89.1" width="1.4" height="1.4" fill="#e8306c"/>
<rect x="450.9" y="95.6" width="1.4" height="1.4" fill="#e8306c"/>
<rect x="446.8" y="92.5" width="1.4" height="1.4" fill="#e8306c"/>
<rect x="435.8" y="90.6" width="1.4" height="1.4" fill="#27348f"/>
<rect x="455.7" y="95.1" width="1.4" height="1.4" fill="#e8306c"/>
<rect x="442.1" y="90.6" width="1.4" height="1.4" fill="#27348f"/>
<rect x="444.3" y="91.2" width="1.4" height="1.4" fill="#27348f"/>
<rect x="455.0" y="97.5" width="1.4" height="1.4" fill="#e8306c"/>
<rect x="451.6" y="89.9" width="1.4" height="1.4" fill="#27348f"/>
<rect x="441.7" y="86.6" width="1.4" height="1.4" fill="#e8306c"/>
<rect x="437.4" y="85.0" width="1.4" height="1.4" fill="#27348f"/>
<rect x="459.1" y="95.4" width="1.4" height="1.4" fill="#e8306c"/>
<rect x="446.7" y="91.3" width="1.4" height="1.4" fill="#e8306c"/>
<rect x="435.3" y="84.8" width="1.4" height="1.4" fill="#e8306c"/>
<rect x="438.3" y="90.9" width="1.4" height="1.4" fill="#e8306c"/>
<rect x="457.9" y="93.4" width="1.4" height="1.4" fill="#e8306c"/>
<rect x="457.3" y="95.2" width="1.4" height="1.4" fill="#e8306c"/>
<rect x="438.6" y="88.4" width="1.4" height="1.4" fill="#e8306c"/>
<rect x="454.4" y="98.2" width="1.4" height="1.4" fill="#e8306c"/>
<rect x="439.8" y="95.0" width="1.4" height="1.4" fill="#27348f"/>
<rect x="457.6" y="96.2" width="1.4" height="1.4" fill="#e8306c"/>
<rect x="462.1" y="95.1" width="1.4" height="1.4" fill="#e8306c"/>
<rect x="444.9" y="92.9" width="1.4" height="1.4" fill="#27348f"/>
<rect x="441.2" y="94.2" width="1.4" height="1.4" fill="#e8306c"/>
<rect x="440.0" y="84.7" width="1.4" height="1.4" fill="#27348f"/>
<rect x="456.3" y="99.7" width="1.4" height="1.4" fill="#e8306c"/>
<rect x="438.3" y="87.4" width="1.4" height="1.4" fill="#e8306c"/>
<rect x="436.4" y="86.5" width="1.4" height="1.4" fill="#e8306c"/>
<rect x="447.7" y="86.8" width="1.4" height="1.4" fill="#e8306c"/>
<rect x="444.7" y="94.8" width="1.4" height="1.4" fill="#27348f"/>
<rect x="456.2" y="92.2" width="1.4" height="1.4" fill="#e8306c"/>
<rect x="449.4" y="88.6" width="1.4" height="1.4" fill="#27348f"/>
<rect x="444.7" y="85.5" width="1.4" height="1.4" fill="#e8306c"/>
<rect x="454.8" y="92.8" width="1.4" height="1.4" fill="#e8306c"/>
<rect x="450.7" y="91.1" width="1.4" height="1.4" fill="#e8306c"/>
<rect x="448.4" y="90.9" width="1.4" height="1.4" fill="#27348f"/>
<rect x="444.2" y="86.7" width="1.4" height="1.4" fill="#e8306c"/>
<rect x="451.7" y="96.9" width="1.4" height="1.4" fill="#27348f"/>
<rect x="438.0" y="88.0" width="1.4" height="1.4" fill="#e8306c"/>
<rect x="433.0" y="82.4" width="1.4" height="1.4" fill="#e8306c"/>
<rect x="446.0" y="98.1" width="1.4" height="1.4" fill="#27348f"/>
<rect x="445.5" y="90.2" width="1.4" height="1.4" fill="#27348f"/>
<rect x="445.8" y="90.0" width="1.4" height="1.4" fill="#27348f"/>
<rect x="447.0" y="96.9" width="1.4" height="1.4" fill="#27348f"/>
<rect x="445.8" y="89.1" width="1.4" height="1.4" fill="#e8306c"/>
<rect x="451.3" y="92.2" width="1.4" height="1.4" fill="#27348f"/>
<rect x="441.2" y="90.4" width="1.4" height="1.4" fill="#27348f"/>
<rect x="450.4" y="93.4" width="1.4" height="1.4" fill="#e8306c"/>
<rect x="449.0" y="92.9" width="1.4" height="1.4" fill="#27348f"/>
<rect x="448.1" y="84.3" width="1.4" height="1.4" fill="#e8306c"/>
<rect x="438.5" y="89.5" width="1.4" height="1.4" fill="#27348f"/>
<rect x="443.8" y="91.2" width="1.4" height="1.4" fill="#27348f"/>
<rect x="452.4" y="98.1" width="1.4" height="1.4" fill="#27348f"/>
<rect x="457.2" y="93.1" width="1.4" height="1.4" fill="#27348f"/>
<rect x="443.7" y="95.0" width="1.4" height="1.4" fill="#e8306c"/>
<rect x="447.9" y="87.4" width="1.4" height="1.4" fill="#e8306c"/>
<rect x="445.9" y="94.8" width="1.4" height="1.4" fill="#27348f"/>
<rect x="450.7" y="98.5" width="1.4" height="1.4" fill="#27348f"/>
<rect x="457.1" y="98.5" width="1.4" height="1.4" fill="#e8306c"/>
<rect x="453.9" y="97.9" width="1.4" height="1.4" fill="#e8306c"/>
<rect x="454.9" y="91.8" width="1.4" height="1.4" fill="#e8306c"/>
<rect x="447.3" y="90.8" width="1.4" height="1.4" fill="#27348f"/>
<rect x="451.1" y="93.9" width="1.4" height="1.4" fill="#27348f"/>
<rect x="444.4" y="88.1" width="1.4" height="1.4" fill="#e8306c"/>
<rect x="460.1" y="95.9" width="1.4" height="1.4" fill="#27348f"/>
<rect x="453.2" y="98.1" width="1.4" height="1.4" fill="#e8306c"/>
<rect x="445.9" y="94.5" width="1.4" height="1.4" fill="#27348f"/>
<rect x="439.9" y="91.8" width="1.4" height="1.4" fill="#e8306c"/>
<rect x="454.5" y="89.8" width="1.4" height="1.4" fill="#27348f"/>
<rect x="428.7" y="87.2" width="1.4" height="1.4" fill="#27348f"/>
<rect x="437.1" y="84.9" width="1.4" height="1.4" fill="#27348f"/>
<rect x="442.6" y="90.9" width="1.4" height="1.4" fill="#e8306c"/>
<rect x="446.7" y="92.5" width="1.4" height="1.4" fill="#27348f"/>
<rect x="430.5" y="85.7" width="1.4" height="1.4" fill="#e8306c"/>
<rect x="440.1" y="86.1" width="1.4" height="1.4" fill="#e8306c"/>
<rect x="450.2" y="94.2" width="1.4" height="1.4" fill="#e8306c"/>
<rect x="438.9" y="91.0" width="1.4" height="1.4" fill="#27348f"/>
<rect x="449.6" y="95.0" width="1.4" height="1.4" fill="#e8306c"/>
<rect x="449.4" y="95.2" width="1.4" height="1.4" fill="#e8306c"/>
<rect x="443.9" y="90.4" width="1.4" height="1.4" fill="#27348f"/>
<rect x="442.8" y="84.7" width="1.4" height="1.4" fill="#e8306c"/>
<rect x="450.9" y="92.5" width="1.4" height="1.4" fill="#27348f"/>
<rect x="440.9" y="94.6" width="1.4" height="1.4" fill="#27348f"/>
<rect x="448.8" y="94.5" width="1.4" height="1.4" fill="#e8306c"/>
<rect x="446.2" y="92.8" width="1.4" height="1.4" fill="#e8306c"/>
<rect x="455.2" y="94.3" width="1.4" height="1.4" fill="#e8306c"/>
<rect x="438.7" y="88.8" width="1.4" height="1.4" fill="#27348f"/>
<rect x="446.0" y="89.0" width="1.4" height="1.4" fill="#e8306c"/>
<rect x="441.4" y="86.1" width="1.4" height="1.4" fill="#27348f"/>
<rect x="449.6" y="92.7" width="1.4" height="1.4" fill="#27348f"/>
<rect x="443.7" y="90.9" width="1.4" height="1.4" fill="#27348f"/>
<rect x="457.6" y="95.6" width="1.4" height="1.4" fill="#e8306c"/>
<rect x="449.0" y="93.2" width="1.4" height="1.4" fill="#27348f"/>
<rect x="452.5" y="94.7" width="1.4" height="1.4" fill="#e8306c"/>
<rect x="443.4" y="90.9" width="1.4" height="1.4" fill="#e8306c"/>
<rect x="439.1" y="90.1" width="1.4" height="1.4" fill="#e8306c"/>
<rect x="418.7" y="112.0" width="1.4" height="1.4" fill="#e8306c"/>
<rect x="415.3" y="114.4" width="1.4" height="1.4" fill="#27348f"/>
<rect x="408.6" y="111.9" width="1.4" height="1.4" fill="#e8306c"/>
<rect x="416.4" y="113.0" width="1.4" height="1.4" fill="#27348f"/>
<rect x="415.7" y="112.2" width="1.4" height="1.4" fill="#27348f"/>
<rect x="414.8" y="112.7" width="1.4" height="1.4" fill="#27348f"/>
<rect x="417.0" y="113.4" width="1.4" height="1.4" fill="#27348f"/>
<rect x="413.9" y="109.7" width="1.4" height="1.4" fill="#e8306c"/>
<rect x="420.2" y="118.8" width="1.4" height="1.4" fill="#27348f"/>
<rect x="413.6" y="113.8" width="1.4" height="1.4" fill="#e8306c"/>
<rect x="413.7" y="112.2" width="1.4" height="1.4" fill="#27348f"/>
<rect x="413.4" y="112.6" width="1.4" height="1.4" fill="#27348f"/>
<rect x="419.8" y="114.9" width="1.4" height="1.4" fill="#27348f"/>
<rect x="414.5" y="110.1" width="1.4" height="1.4" fill="#27348f"/>
<rect x="418.7" y="116.3" width="1.4" height="1.4" fill="#27348f"/>
<rect x="412.5" y="115.8" width="1.4" height="1.4" fill="#e8306c"/>
<rect x="419.4" y="114.4" width="1.4" height="1.4" fill="#e8306c"/>
<rect x="414.2" y="112.2" width="1.4" height="1.4" fill="#e8306c"/>
<rect x="413.2" y="113.4" width="1.4" height="1.4" fill="#e8306c"/>
<rect x="420.2" y="114.0" width="1.4" height="1.4" fill="#e8306c"/>
<rect x="415.6" y="114.0" width="1.4" height="1.4" fill="#e8306c"/>
<rect x="420.4" y="114.9" width="1.4" height="1.4" fill="#e8306c"/>
<rect x="412.0" y="114.3" width="1.4" height="1.4" fill="#e8306c"/>
<rect x="416.6" y="114.9" width="1.4" height="1.4" fill="#e8306c"/>
<rect x="416.1" y="112.4" width="1.4" height="1.4" fill="#27348f"/>
<rect x="420.6" y="114.7" width="1.4" height="1.4" fill="#27348f"/>
<rect x="407.9" y="112.2" width="1.4" height="1.4" fill="#27348f"/>
<rect x="411.1" y="112.1" width="1.4" height="1.4" fill="#27348f"/>
<rect x="413.7" y="114.1" width="1.4" height="1.4" fill="#27348f"/>
<rect x="413.9" y="116.2" width="1.4" height="1.4" fill="#27348f"/>
<rect x="415.5" y="114.8" width="1.4" height="1.4" fill="#e8306c"/>
<rect x="412.6" y="111.9" width="1.4" height="1.4" fill="#e8306c"/>
<rect x="414.3" y="116.1" width="1.4" height="1.4" fill="#27348f"/>
<rect x="413.4" y="112.3" width="1.4" height="1.4" fill="#e8306c"/>
<rect x="413.1" y="113.4" width="1.4" height="1.4" fill="#e8306c"/>
<rect x="411.5" y="116.3" width="1.4" height="1.4" fill="#e8306c"/>
<rect x="419.0" y="115.0" width="1.4" height="1.4" fill="#27348f"/>
<rect x="412.9" y="115.2" width="1.4" height="1.4" fill="#e8306c"/>
<rect x="415.1" y="114.4" width="1.4" height="1.4" fill="#e8306c"/>
<rect x="416.1" y="114.9" width="1.4" height="1.4" fill="#27348f"/>
<rect x="458.3" y="52.3" width="1.4" height="1.4" fill="#27348f"/>
<rect x="461.4" y="51.8" width="1.4" height="1.4" fill="#27348f"/>
<rect x="461.3" y="51.6" width="1.4" height="1.4" fill="#e8306c"/>
<rect x="458.1" y="51.9" width="1.4" height="1.4" fill="#e8306c"/>
<rect x="455.3" y="53.2" width="1.4" height="1.4" fill="#e8306c"/>
<rect x="459.6" y="53.0" width="1.4" height="1.4" fill="#27348f"/>
<rect x="456.7" y="51.4" width="1.4" height="1.4" fill="#27348f"/>
<rect x="463.1" y="51.5" width="1.4" height="1.4" fill="#27348f"/>
<rect x="459.6" y="51.9" width="1.4" height="1.4" fill="#27348f"/>
<rect x="459.3" y="50.9" width="1.4" height="1.4" fill="#27348f"/>
<rect x="457.3" y="51.0" width="1.4" height="1.4" fill="#27348f"/>
<rect x="459.5" y="51.6" width="1.4" height="1.4" fill="#e8306c"/>
<rect x="457.6" y="50.7" width="1.4" height="1.4" fill="#27348f"/>
<rect x="456.6" y="51.4" width="1.4" height="1.4" fill="#27348f"/>
<rect x="459.5" y="49.8" width="1.4" height="1.4" fill="#e8306c"/>
<rect x="456.3" y="51.4" width="1.4" height="1.4" fill="#27348f"/>
<rect x="458.4" y="50.8" width="1.4" height="1.4" fill="#27348f"/>
<rect x="460.6" y="52.1" width="1.4" height="1.4" fill="#27348f"/>
<rect x="460.5" y="52.4" width="1.4" height="1.4" fill="#e8306c"/>
<rect x="456.7" y="50.3" width="1.4" height="1.4" fill="#27348f"/>
<rect x="460.0" y="50.7" width="1.4" height="1.4" fill="#27348f"/>
<rect x="456.2" y="51.2" width="1.4" height="1.4" fill="#27348f"/>
<rect x="455.6" y="52.4" width="1.4" height="1.4" fill="#e8306c"/>
<rect x="457.6" y="50.3" width="1.4" height="1.4" fill="#27348f"/>
<rect x="459.5" y="50.7" width="1.4" height="1.4" fill="#27348f"/>
<rect x="457.1" y="63.4" width="1.4" height="1.4" fill="#e8306c"/>
<rect x="455.6" y="63.8" width="1.4" height="1.4" fill="#e8306c"/>
<rect x="452.6" y="63.1" width="1.4" height="1.4" fill="#e8306c"/>
<rect x="455.2" y="62.2" width="1.4" height="1.4" fill="#e8306c"/>
<rect x="456.4" y="62.6" width="1.4" height="1.4" fill="#e8306c"/>
<rect x="456.3" y="62.0" width="1.4" height="1.4" fill="#e8306c"/>
<rect x="457.4" y="62.9" width="1.4" height="1.4" fill="#e8306c"/>
<rect x="453.8" y="62.0" width="1.4" height="1.4" fill="#27348f"/>
<rect x="451.9" y="62.9" width="1.4" height="1.4" fill="#27348f"/>
<rect x="453.8" y="62.4" width="1.4" height="1.4" fill="#e8306c"/>
<rect x="456.9" y="62.1" width="1.4" height="1.4" fill="#e8306c"/>
<rect x="457.2" y="62.0" width="1.4" height="1.4" fill="#27348f"/>
<line x1="367.20" y1="124.90" x2="367.20" y2="22.50" stroke="#231f20" stroke-width="1.2" />
<path d="M367.2,18.6 L365.1,23.6 L369.3,23.6 Z" fill="#231f20" stroke="none" stroke-width="0.8" />
<line x1="366.60" y1="124.90" x2="473.50" y2="124.90" stroke="#231f20" stroke-width="1.2" />
<path d="M477.3,124.9 L472.3,122.8 L472.3,127.0 Z" fill="#231f20" stroke="none" stroke-width="0.8" />
<text style="stroke:#231f20;stroke-width:0.08px" transform="translate(362.9,84.0) rotate(-90)" font-size="8.4" textLength="19.9" lengthAdjust="spacingAndGlyphs">tSNE2</text>
<text style="stroke:#231f20;stroke-width:0.08px" x="410.01" y="134.40" font-size="8.6" textLength="20.17" lengthAdjust="spacingAndGlyphs" >tSNE1</text>
<text style="stroke:#231f20;stroke-width:0.08px" x="411.61" y="21.90" font-size="6.4" textLength="13.48" lengthAdjust="spacingAndGlyphs" >pDC</text>
<text style="stroke:#231f20;stroke-width:0.08px" x="381.52" y="56.30" font-size="6.2" textLength="15.46" lengthAdjust="spacingAndGlyphs" >cDC1</text>
<text style="stroke:#231f20;stroke-width:0.08px" x="373.82" y="63.80" font-size="6.2" textLength="31.06" lengthAdjust="spacingAndGlyphs" >cDC2/DC3</text>
<text style="stroke:#231f20;stroke-width:0.08px" x="370.5" y="107.6" font-size="6.4" textLength="31.6" lengthAdjust="spacingAndGlyphs">CD14<tspan font-size="4.4" dy="-2.6">+</tspan><tspan dy="2.6"> Mo</tspan></text>
<text style="stroke:#231f20;stroke-width:0.08px" x="409.51" y="101.80" font-size="6.4" textLength="11.28" lengthAdjust="spacingAndGlyphs" >iMo</text>
<text style="stroke:#231f20;stroke-width:0.08px" x="452.7" y="111.2" font-size="6.4" textLength="34.4" lengthAdjust="spacingAndGlyphs">CD16<tspan font-size="4.4" dy="-2.6">++</tspan><tspan dy="2.6"> Mo</tspan></text>
<text style="stroke:#231f20;stroke-width:0.08px" x="430.3" y="114.5" font-size="6.4">CD34<tspan font-size="4.4" dy="-2.6">+</tspan></text>
<text style="stroke:#231f20;stroke-width:0.08px" x="425.42" y="121.60" font-size="6.2" textLength="30.56" lengthAdjust="spacingAndGlyphs" >Progenitor</text>
<text style="stroke:#231f20;stroke-width:0.08px" x="457.82" y="47.40" font-size="6.2" textLength="31.06" lengthAdjust="spacingAndGlyphs" >Plasma cell</text>
<text style="stroke:#231f20;stroke-width:0.08px" x="456.72" y="72.90" font-size="6.2" textLength="26.86" lengthAdjust="spacingAndGlyphs" >NK/T cell</text>
<rect x="449.4" y="13.5" width="55" height="19.6" rx="0.8" fill="#fff" stroke="#333" stroke-width="0.9"/>
<circle cx="454.40" cy="20.60" r="1.7" fill="#e8306c" />
<circle cx="454.40" cy="27.50" r="1.7" fill="#27348f" />
<text style="stroke:#231f20;stroke-width:0.08px" x="458.70" y="22.90" font-size="6.7" textLength="39.10" lengthAdjust="spacingAndGlyphs" >Pre-therapy</text>
<text style="stroke:#231f20;stroke-width:0.08px" x="458.70" y="29.80" font-size="6.7" textLength="42.20" lengthAdjust="spacingAndGlyphs" >Post-therapy</text>
<text style="stroke:#000;stroke-width:0.08px" x="13.34" y="160.30" font-size="10.2" font-weight="bold" fill="#000" textLength="8.62" lengthAdjust="spacingAndGlyphs" >D</text>
<text style="stroke:#231f20;stroke-width:0.08px" x="24.58" y="157.20" font-size="7.2" textLength="6.85" lengthAdjust="spacingAndGlyphs" >(i)</text>
<text style="stroke:#231f20;stroke-width:0.08px" x="146.88" y="157.20" font-size="7.2" textLength="10.35" lengthAdjust="spacingAndGlyphs" >(ii)</text>
<text style="stroke:#231f20;stroke-width:0.08px" x="32.50" y="161.90" font-size="6.6" textLength="52.19" lengthAdjust="spacingAndGlyphs" >Higher expression</text>
<text style="stroke:#231f20;stroke-width:0.08px" x="40.60" y="169.60" font-size="6.6" textLength="35.99" lengthAdjust="spacingAndGlyphs" >in CD14<tspan font-size="4.2" dy="-2.2">+</tspan><tspan dy="2.2"> Mo</tspan></text>
<text style="stroke:#231f20;stroke-width:0.08px" x="41.70" y="177.30" font-size="6.6" textLength="33.79" lengthAdjust="spacingAndGlyphs" >pre-therapy</text>
<text style="stroke:#231f20;stroke-width:0.08px" x="94.60" y="161.90" font-size="6.6" textLength="52.19" lengthAdjust="spacingAndGlyphs" >Higher expression</text>
<text style="stroke:#231f20;stroke-width:0.08px" x="101.55" y="169.60" font-size="6.6" textLength="38.29" lengthAdjust="spacingAndGlyphs" >in CD14<tspan font-size="4.2" dy="-2.2">+</tspan><tspan dy="2.2"> Mo</tspan></text>
<text style="stroke:#231f20;stroke-width:0.08px" x="102.30" y="177.30" font-size="6.6" textLength="36.79" lengthAdjust="spacingAndGlyphs" >post-therapy</text>
<text style="stroke:#231f20;stroke-width:0.08px" x="155.35" y="161.90" font-size="6.6" textLength="54.09" lengthAdjust="spacingAndGlyphs" >Higher expression</text>
<text style="stroke:#231f20;stroke-width:0.08px" x="160.85" y="169.60" font-size="6.6" textLength="43.09" lengthAdjust="spacingAndGlyphs" >in CD16<tspan font-size="4.2" dy="-2.2">++</tspan><tspan dy="2.2"> Mo</tspan></text>
<text style="stroke:#231f20;stroke-width:0.08px" x="165.20" y="177.30" font-size="6.6" textLength="34.39" lengthAdjust="spacingAndGlyphs" >pre-therapy</text>
<text style="stroke:#231f20;stroke-width:0.08px" x="217.65" y="161.90" font-size="6.6" textLength="53.89" lengthAdjust="spacingAndGlyphs" >Higher expression</text>
<text style="stroke:#231f20;stroke-width:0.08px" x="223.45" y="169.60" font-size="6.6" textLength="42.29" lengthAdjust="spacingAndGlyphs" >in CD16<tspan font-size="4.2" dy="-2.2">++</tspan><tspan dy="2.2"> Mo</tspan></text>
<text style="stroke:#231f20;stroke-width:0.08px" x="226.20" y="177.30" font-size="6.6" textLength="36.79" lengthAdjust="spacingAndGlyphs" >post-therapy</text>
<path d="M75.1 276.4h1.2v1.2h-1.2zM84.4 279.9h1.2v1.2h-1.2zM82.5 278.6h1.2v1.2h-1.2zM85.1 281.8h1.2v1.2h-1.2zM57.9 279.5h1.2v1.2h-1.2zM92.7 281.2h1.2v1.2h-1.2zM76.7 276.2h1.2v1.2h-1.2zM79.4 276.4h1.2v1.2h-1.2zM84.0 280.7h1.2v1.2h-1.2zM99.7 281.1h1.2v1.2h-1.2zM91.0 276.1h1.2v1.2h-1.2zM92.1 278.4h1.2v1.2h-1.2zM82.9 280.2h1.2v1.2h-1.2zM54.4 276.2h1.2v1.2h-1.2zM86.2 282.5h1.2v1.2h-1.2zM102.2 280.2h1.2v1.2h-1.2zM84.5 281.1h1.2v1.2h-1.2zM92.9 278.1h1.2v1.2h-1.2zM101.7 282.4h1.2v1.2h-1.2zM90.6 277.2h1.2v1.2h-1.2zM83.4 281.5h1.2v1.2h-1.2zM85.2 279.9h1.2v1.2h-1.2zM89.5 281.2h1.2v1.2h-1.2zM74.5 279.6h1.2v1.2h-1.2zM97.0 275.9h1.2v1.2h-1.2zM91.4 278.1h1.2v1.2h-1.2zM103.5 281.4h1.2v1.2h-1.2zM91.5 276.2h1.2v1.2h-1.2zM99.8 281.5h1.2v1.2h-1.2zM75.3 279.8h1.2v1.2h-1.2zM82.7 279.0h1.2v1.2h-1.2zM87.6 281.2h1.2v1.2h-1.2zM88.0 280.4h1.2v1.2h-1.2zM74.7 280.0h1.2v1.2h-1.2zM86.4 282.7h1.2v1.2h-1.2zM85.6 282.9h1.2v1.2h-1.2zM78.3 278.5h1.2v1.2h-1.2zM81.9 278.0h1.2v1.2h-1.2zM70.9 280.5h1.2v1.2h-1.2zM93.8 275.0h1.2v1.2h-1.2zM79.8 275.2h1.2v1.2h-1.2zM92.1 275.8h1.2v1.2h-1.2zM86.0 283.1h1.2v1.2h-1.2zM79.6 277.8h1.2v1.2h-1.2zM71.0 278.7h1.2v1.2h-1.2zM93.5 279.6h1.2v1.2h-1.2zM92.1 279.4h1.2v1.2h-1.2zM71.4 281.0h1.2v1.2h-1.2zM92.4 278.1h1.2v1.2h-1.2zM80.8 276.9h1.2v1.2h-1.2zM79.2 277.8h1.2v1.2h-1.2zM82.9 282.6h1.2v1.2h-1.2zM84.1 280.6h1.2v1.2h-1.2zM103.9 280.8h1.2v1.2h-1.2zM102.5 282.6h1.2v1.2h-1.2zM87.7 281.7h1.2v1.2h-1.2zM83.6 281.3h1.2v1.2h-1.2zM96.0 279.7h1.2v1.2h-1.2zM84.9 280.8h1.2v1.2h-1.2zM89.2 279.7h1.2v1.2h-1.2zM95.3 278.9h1.2v1.2h-1.2zM83.1 277.1h1.2v1.2h-1.2zM70.7 282.2h1.2v1.2h-1.2zM100.8 280.1h1.2v1.2h-1.2zM83.9 282.9h1.2v1.2h-1.2zM87.7 280.5h1.2v1.2h-1.2zM89.2 279.2h1.2v1.2h-1.2zM93.3 274.9h1.2v1.2h-1.2zM89.6 280.1h1.2v1.2h-1.2zM82.4 277.5h1.2v1.2h-1.2zM92.3 276.9h1.2v1.2h-1.2zM96.6 279.2h1.2v1.2h-1.2zM75.8 281.8h1.2v1.2h-1.2zM76.5 280.7h1.2v1.2h-1.2zM113.8 278.0h1.2v1.2h-1.2zM92.6 277.4h1.2v1.2h-1.2zM92.1 275.9h1.2v1.2h-1.2zM82.4 280.8h1.2v1.2h-1.2zM85.5 282.3h1.2v1.2h-1.2zM89.5 278.8h1.2v1.2h-1.2zM101.7 282.2h1.2v1.2h-1.2zM98.0 275.1h1.2v1.2h-1.2zM76.2 279.1h1.2v1.2h-1.2zM69.8 282.4h1.2v1.2h-1.2zM93.1 276.0h1.2v1.2h-1.2zM88.7 279.1h1.2v1.2h-1.2zM99.8 280.0h1.2v1.2h-1.2zM87.1 281.4h1.2v1.2h-1.2zM91.9 276.0h1.2v1.2h-1.2zM90.3 278.5h1.2v1.2h-1.2zM85.3 282.9h1.2v1.2h-1.2zM87.5 281.2h1.2v1.2h-1.2zM99.5 277.5h1.2v1.2h-1.2zM82.6 280.7h1.2v1.2h-1.2zM83.0 279.4h1.2v1.2h-1.2zM88.2 278.6h1.2v1.2h-1.2zM87.1 280.1h1.2v1.2h-1.2zM90.2 280.4h1.2v1.2h-1.2zM120.8 279.9h1.2v1.2h-1.2zM81.0 276.3h1.2v1.2h-1.2zM85.0 278.4h1.2v1.2h-1.2zM89.6 277.5h1.2v1.2h-1.2zM80.8 276.7h1.2v1.2h-1.2zM85.4 282.3h1.2v1.2h-1.2zM94.3 275.7h1.2v1.2h-1.2zM88.4 277.6h1.2v1.2h-1.2zM79.8 276.9h1.2v1.2h-1.2zM98.7 283.5h1.2v1.2h-1.2zM76.4 276.5h1.2v1.2h-1.2zM87.8 282.9h1.2v1.2h-1.2zM105.3 275.0h1.2v1.2h-1.2zM84.9 279.9h1.2v1.2h-1.2zM51.9 280.3h1.2v1.2h-1.2zM101.9 281.6h1.2v1.2h-1.2zM87.0 278.5h1.2v1.2h-1.2zM93.7 275.2h1.2v1.2h-1.2zM81.1 277.2h1.2v1.2h-1.2zM83.3 280.5h1.2v1.2h-1.2zM108.9 279.0h1.2v1.2h-1.2zM71.4 279.1h1.2v1.2h-1.2zM111.3 280.5h1.2v1.2h-1.2zM103.3 280.4h1.2v1.2h-1.2zM62.4 282.3h1.2v1.2h-1.2zM65.3 282.4h1.2v1.2h-1.2zM61.8 281.7h1.2v1.2h-1.2zM82.5 280.1h1.2v1.2h-1.2zM86.8 282.6h1.2v1.2h-1.2zM73.7 278.0h1.2v1.2h-1.2zM77.9 275.6h1.2v1.2h-1.2zM107.9 283.4h1.2v1.2h-1.2zM86.3 282.3h1.2v1.2h-1.2zM80.1 276.1h1.2v1.2h-1.2zM88.5 279.1h1.2v1.2h-1.2zM81.2 278.4h1.2v1.2h-1.2zM76.7 281.0h1.2v1.2h-1.2zM81.0 277.8h1.2v1.2h-1.2zM79.9 276.7h1.2v1.2h-1.2zM75.3 277.3h1.2v1.2h-1.2zM102.2 277.9h1.2v1.2h-1.2zM64.0 278.4h1.2v1.2h-1.2zM81.6 279.5h1.2v1.2h-1.2zM88.9 280.7h1.2v1.2h-1.2zM91.7 276.6h1.2v1.2h-1.2zM94.3 278.7h1.2v1.2h-1.2zM81.3 277.9h1.2v1.2h-1.2zM91.2 278.4h1.2v1.2h-1.2zM104.3 280.8h1.2v1.2h-1.2zM88.5 280.2h1.2v1.2h-1.2zM103.3 280.7h1.2v1.2h-1.2zM80.5 278.1h1.2v1.2h-1.2zM81.6 277.6h1.2v1.2h-1.2zM69.7 281.9h1.2v1.2h-1.2zM92.7 276.7h1.2v1.2h-1.2zM96.6 276.0h1.2v1.2h-1.2zM98.6 282.5h1.2v1.2h-1.2zM96.3 280.3h1.2v1.2h-1.2zM98.6 280.9h1.2v1.2h-1.2zM103.8 283.4h1.2v1.2h-1.2zM73.2 282.5h1.2v1.2h-1.2zM100.9 283.2h1.2v1.2h-1.2zM67.0 281.3h1.2v1.2h-1.2zM69.9 281.0h1.2v1.2h-1.2zM81.8 275.0h1.2v1.2h-1.2zM89.0 280.6h1.2v1.2h-1.2zM89.0 282.3h1.2v1.2h-1.2zM51.8 280.2h1.2v1.2h-1.2zM89.8 278.0h1.2v1.2h-1.2zM89.7 278.2h1.2v1.2h-1.2zM76.1 277.3h1.2v1.2h-1.2zM99.2 277.8h1.2v1.2h-1.2zM81.1 277.6h1.2v1.2h-1.2zM73.2 275.7h1.2v1.2h-1.2zM79.5 275.9h1.2v1.2h-1.2zM92.6 276.5h1.2v1.2h-1.2zM84.2 280.4h1.2v1.2h-1.2zM62.5 283.0h1.2v1.2h-1.2zM90.1 279.0h1.2v1.2h-1.2zM90.3 277.0h1.2v1.2h-1.2zM73.4 283.0h1.2v1.2h-1.2zM116.4 283.5h1.2v1.2h-1.2zM85.5 282.6h1.2v1.2h-1.2zM82.7 278.3h1.2v1.2h-1.2zM93.8 275.4h1.2v1.2h-1.2zM80.9 280.0h1.2v1.2h-1.2zM84.7 281.7h1.2v1.2h-1.2zM84.2 281.2h1.2v1.2h-1.2zM85.2 282.4h1.2v1.2h-1.2zM86.9 281.1h1.2v1.2h-1.2zM101.9 283.2h1.2v1.2h-1.2zM80.5 277.5h1.2v1.2h-1.2zM83.6 279.5h1.2v1.2h-1.2zM85.8 282.1h1.2v1.2h-1.2zM96.7 277.5h1.2v1.2h-1.2zM76.4 279.8h1.2v1.2h-1.2zM47.5 279.9h1.2v1.2h-1.2zM82.8 281.7h1.2v1.2h-1.2zM103.8 280.5h1.2v1.2h-1.2zM81.5 278.6h1.2v1.2h-1.2zM69.6 281.9h1.2v1.2h-1.2zM54.9 280.6h1.2v1.2h-1.2zM101.6 282.8h1.2v1.2h-1.2zM84.7 282.4h1.2v1.2h-1.2zM83.5 280.7h1.2v1.2h-1.2zM90.0 278.5h1.2v1.2h-1.2zM88.0 278.3h1.2v1.2h-1.2zM81.1 277.1h1.2v1.2h-1.2zM72.0 283.0h1.2v1.2h-1.2zM93.0 276.0h1.2v1.2h-1.2zM91.8 276.7h1.2v1.2h-1.2zM132.8 280.1h1.2v1.2h-1.2zM79.7 277.3h1.2v1.2h-1.2zM105.4 281.7h1.2v1.2h-1.2zM86.7 280.8h1.2v1.2h-1.2zM83.1 277.9h1.2v1.2h-1.2zM84.3 281.0h1.2v1.2h-1.2zM73.2 278.6h1.2v1.2h-1.2zM94.7 278.4h1.2v1.2h-1.2zM107.0 281.0h1.2v1.2h-1.2zM85.1 282.6h1.2v1.2h-1.2zM84.1 280.4h1.2v1.2h-1.2zM83.0 279.2h1.2v1.2h-1.2zM88.6 278.8h1.2v1.2h-1.2zM91.1 275.0h1.2v1.2h-1.2zM84.2 281.1h1.2v1.2h-1.2zM88.7 279.9h1.2v1.2h-1.2zM74.1 277.9h1.2v1.2h-1.2zM58.4 282.2h1.2v1.2h-1.2zM83.7 281.1h1.2v1.2h-1.2zM86.5 281.7h1.2v1.2h-1.2zM103.8 280.5h1.2v1.2h-1.2zM88.6 277.4h1.2v1.2h-1.2zM111.4 275.7h1.2v1.2h-1.2zM86.8 281.5h1.2v1.2h-1.2zM103.4 280.9h1.2v1.2h-1.2zM79.3 281.1h1.2v1.2h-1.2zM104.6 282.1h1.2v1.2h-1.2zM65.3 283.4h1.2v1.2h-1.2zM80.1 275.8h1.2v1.2h-1.2zM90.7 279.5h1.2v1.2h-1.2zM80.6 276.3h1.2v1.2h-1.2zM119.4 282.7h1.2v1.2h-1.2zM82.8 278.0h1.2v1.2h-1.2zM57.5 280.9h1.2v1.2h-1.2zM66.3 281.5h1.2v1.2h-1.2zM89.0 279.9h1.2v1.2h-1.2zM91.3 277.6h1.2v1.2h-1.2zM82.6 278.5h1.2v1.2h-1.2zM79.8 279.7h1.2v1.2h-1.2zM85.0 280.3h1.2v1.2h-1.2zM89.4 281.3h1.2v1.2h-1.2zM82.4 279.5h1.2v1.2h-1.2zM93.2 275.8h1.2v1.2h-1.2zM46.0 282.2h1.2v1.2h-1.2zM70.7 278.5h1.2v1.2h-1.2zM90.8 278.0h1.2v1.2h-1.2zM124.2 281.6h1.2v1.2h-1.2zM81.9 278.2h1.2v1.2h-1.2zM70.7 281.2h1.2v1.2h-1.2zM86.4 280.8h1.2v1.2h-1.2zM88.6 280.2h1.2v1.2h-1.2zM114.7 283.1h1.2v1.2h-1.2zM103.4 280.4h1.2v1.2h-1.2zM70.9 282.0h1.2v1.2h-1.2zM102.9 281.7h1.2v1.2h-1.2zM97.4 278.3h1.2v1.2h-1.2zM84.0 282.5h1.2v1.2h-1.2zM91.2 277.2h1.2v1.2h-1.2zM82.9 280.3h1.2v1.2h-1.2zM44.3 283.1h1.2v1.2h-1.2zM90.9 278.0h1.2v1.2h-1.2zM92.4 280.6h1.2v1.2h-1.2zM80.2 280.9h1.2v1.2h-1.2zM114.9 281.2h1.2v1.2h-1.2zM85.4 281.6h1.2v1.2h-1.2zM86.5 281.1h1.2v1.2h-1.2zM73.0 275.7h1.2v1.2h-1.2zM94.7 281.2h1.2v1.2h-1.2zM74.6 276.0h1.2v1.2h-1.2zM114.5 282.9h1.2v1.2h-1.2zM77.6 277.2h1.2v1.2h-1.2zM91.6 279.2h1.2v1.2h-1.2zM98.5 281.1h1.2v1.2h-1.2zM82.7 280.4h1.2v1.2h-1.2zM87.4 280.5h1.2v1.2h-1.2zM107.9 281.4h1.2v1.2h-1.2zM80.7 277.1h1.2v1.2h-1.2zM89.0 281.5h1.2v1.2h-1.2zM83.5 281.1h1.2v1.2h-1.2zM83.9 279.2h1.2v1.2h-1.2zM87.1 281.4h1.2v1.2h-1.2zM87.9 281.6h1.2v1.2h-1.2zM91.4 277.3h1.2v1.2h-1.2zM103.2 281.7h1.2v1.2h-1.2zM83.4 281.0h1.2v1.2h-1.2zM94.1 276.2h1.2v1.2h-1.2zM85.0 281.6h1.2v1.2h-1.2zM92.6 279.1h1.2v1.2h-1.2zM107.7 279.1h1.2v1.2h-1.2zM87.3 282.7h1.2v1.2h-1.2zM87.7 280.3h1.2v1.2h-1.2zM87.5 281.1h1.2v1.2h-1.2zM101.3 283.1h1.2v1.2h-1.2zM52.5 282.6h1.2v1.2h-1.2zM87.7 279.7h1.2v1.2h-1.2zM79.8 275.3h1.2v1.2h-1.2zM122.6 281.0h1.2v1.2h-1.2zM94.0 277.0h1.2v1.2h-1.2zM91.0 278.1h1.2v1.2h-1.2zM97.1 279.2h1.2v1.2h-1.2zM73.1 283.3h1.2v1.2h-1.2zM81.9 279.4h1.2v1.2h-1.2zM83.1 277.1h1.2v1.2h-1.2zM88.4 280.5h1.2v1.2h-1.2zM79.6 278.9h1.2v1.2h-1.2zM112.7 282.4h1.2v1.2h-1.2zM82.6 279.9h1.2v1.2h-1.2zM58.0 279.1h1.2v1.2h-1.2zM85.3 280.5h1.2v1.2h-1.2zM82.3 277.7h1.2v1.2h-1.2zM91.4 275.6h1.2v1.2h-1.2zM74.0 278.2h1.2v1.2h-1.2zM76.5 278.0h1.2v1.2h-1.2zM69.5 278.9h1.2v1.2h-1.2zM97.8 281.3h1.2v1.2h-1.2zM100.0 281.4h1.2v1.2h-1.2zM58.6 282.5h1.2v1.2h-1.2zM80.7 276.1h1.2v1.2h-1.2zM84.1 279.7h1.2v1.2h-1.2zM94.8 276.2h1.2v1.2h-1.2zM72.8 277.6h1.2v1.2h-1.2zM98.9 281.9h1.2v1.2h-1.2zM86.3 282.5h1.2v1.2h-1.2zM84.0 282.0h1.2v1.2h-1.2zM96.1 278.4h1.2v1.2h-1.2zM87.0 281.8h1.2v1.2h-1.2zM88.7 278.9h1.2v1.2h-1.2zM103.0 278.4h1.2v1.2h-1.2zM94.2 279.2h1.2v1.2h-1.2zM81.9 277.7h1.2v1.2h-1.2zM79.3 276.7h1.2v1.2h-1.2zM100.8 283.2h1.2v1.2h-1.2zM88.6 280.2h1.2v1.2h-1.2zM113.6 281.5h1.2v1.2h-1.2zM41.6 282.5h1.2v1.2h-1.2zM89.8 276.3h1.2v1.2h-1.2zM93.1 278.4h1.2v1.2h-1.2zM94.6 278.5h1.2v1.2h-1.2zM87.6 282.4h1.2v1.2h-1.2zM77.6 276.9h1.2v1.2h-1.2zM73.8 278.2h1.2v1.2h-1.2zM79.9 277.4h1.2v1.2h-1.2zM100.3 281.1h1.2v1.2h-1.2zM84.9 282.5h1.2v1.2h-1.2zM81.2 279.1h1.2v1.2h-1.2zM91.7 280.4h1.2v1.2h-1.2zM95.4 279.3h1.2v1.2h-1.2zM107.1 282.8h1.2v1.2h-1.2zM99.2 282.6h1.2v1.2h-1.2zM91.1 275.3h1.2v1.2h-1.2zM96.1 275.1h1.2v1.2h-1.2zM78.4 279.3h1.2v1.2h-1.2zM90.2 277.5h1.2v1.2h-1.2zM67.3 281.0h1.2v1.2h-1.2zM76.1 278.9h1.2v1.2h-1.2zM58.6 281.5h1.2v1.2h-1.2zM80.4 276.5h1.2v1.2h-1.2zM89.1 280.1h1.2v1.2h-1.2zM87.7 277.9h1.2v1.2h-1.2zM102.5 280.9h1.2v1.2h-1.2zM85.9 280.2h1.2v1.2h-1.2zM89.9 278.7h1.2v1.2h-1.2zM96.1 275.9h1.2v1.2h-1.2zM86.8 279.4h1.2v1.2h-1.2zM67.6 281.3h1.2v1.2h-1.2zM105.2 280.6h1.2v1.2h-1.2zM87.9 280.4h1.2v1.2h-1.2zM89.8 276.1h1.2v1.2h-1.2zM102.8 283.3h1.2v1.2h-1.2zM73.5 278.7h1.2v1.2h-1.2zM90.3 280.5h1.2v1.2h-1.2zM81.9 279.7h1.2v1.2h-1.2zM63.0 280.0h1.2v1.2h-1.2zM95.8 277.3h1.2v1.2h-1.2zM100.1 282.2h1.2v1.2h-1.2zM90.6 278.5h1.2v1.2h-1.2zM77.6 276.0h1.2v1.2h-1.2zM91.3 275.2h1.2v1.2h-1.2zM97.4 275.4h1.2v1.2h-1.2zM103.6 280.5h1.2v1.2h-1.2zM95.5 275.5h1.2v1.2h-1.2zM89.6 279.1h1.2v1.2h-1.2zM83.9 281.3h1.2v1.2h-1.2zM100.9 282.0h1.2v1.2h-1.2zM69.3 282.4h1.2v1.2h-1.2zM83.7 281.4h1.2v1.2h-1.2zM73.0 277.1h1.2v1.2h-1.2zM67.4 280.8h1.2v1.2h-1.2zM79.6 275.3h1.2v1.2h-1.2zM67.4 278.2h1.2v1.2h-1.2zM94.9 275.6h1.2v1.2h-1.2zM88.1 281.2h1.2v1.2h-1.2zM85.6 281.0h1.2v1.2h-1.2zM103.8 279.4h1.2v1.2h-1.2zM43.6 282.9h1.2v1.2h-1.2zM86.3 282.8h1.2v1.2h-1.2zM84.8 281.6h1.2v1.2h-1.2zM85.1 282.0h1.2v1.2h-1.2zM85.8 281.6h1.2v1.2h-1.2zM91.6 277.1h1.2v1.2h-1.2zM91.5 276.5h1.2v1.2h-1.2zM105.5 279.8h1.2v1.2h-1.2zM102.8 278.7h1.2v1.2h-1.2zM84.8 282.3h1.2v1.2h-1.2zM91.8 276.7h1.2v1.2h-1.2zM87.6 282.6h1.2v1.2h-1.2zM85.7 282.4h1.2v1.2h-1.2zM73.1 283.2h1.2v1.2h-1.2zM80.1 279.1h1.2v1.2h-1.2zM79.7 277.6h1.2v1.2h-1.2zM90.1 280.2h1.2v1.2h-1.2zM90.0 279.6h1.2v1.2h-1.2zM86.6 281.1h1.2v1.2h-1.2zM86.5 279.7h1.2v1.2h-1.2zM73.5 281.0h1.2v1.2h-1.2zM81.1 277.4h1.2v1.2h-1.2zM81.9 279.8h1.2v1.2h-1.2zM85.8 281.8h1.2v1.2h-1.2zM70.3 280.6h1.2v1.2h-1.2zM122.3 277.4h1.2v1.2h-1.2zM84.3 281.1h1.2v1.2h-1.2zM71.8 278.3h1.2v1.2h-1.2zM63.8 280.6h1.2v1.2h-1.2zM70.5 278.5h1.2v1.2h-1.2zM80.0 283.0h1.2v1.2h-1.2zM84.2 282.1h1.2v1.2h-1.2zM77.4 276.2h1.2v1.2h-1.2zM91.3 279.5h1.2v1.2h-1.2zM97.2 275.7h1.2v1.2h-1.2zM88.9 276.0h1.2v1.2h-1.2zM105.6 280.9h1.2v1.2h-1.2zM95.3 275.1h1.2v1.2h-1.2zM95.3 276.8h1.2v1.2h-1.2zM86.7 282.3h1.2v1.2h-1.2zM80.9 280.6h1.2v1.2h-1.2zM79.0 276.4h1.2v1.2h-1.2zM70.8 280.7h1.2v1.2h-1.2zM77.2 277.3h1.2v1.2h-1.2zM83.9 280.0h1.2v1.2h-1.2zM77.2 275.9h1.2v1.2h-1.2zM86.5 282.1h1.2v1.2h-1.2zM83.5 279.8h1.2v1.2h-1.2zM87.4 282.0h1.2v1.2h-1.2zM89.4 280.1h1.2v1.2h-1.2zM87.1 279.8h1.2v1.2h-1.2zM82.9 278.5h1.2v1.2h-1.2zM81.5 277.4h1.2v1.2h-1.2zM86.0 283.1h1.2v1.2h-1.2zM104.2 280.9h1.2v1.2h-1.2zM86.7 279.5h1.2v1.2h-1.2zM116.8 278.6h1.2v1.2h-1.2zM77.4 275.1h1.2v1.2h-1.2zM75.3 275.6h1.2v1.2h-1.2zM105.7 280.9h1.2v1.2h-1.2zM87.5 281.1h1.2v1.2h-1.2zM83.2 276.7h1.2v1.2h-1.2zM82.2 281.1h1.2v1.2h-1.2zM72.8 282.3h1.2v1.2h-1.2zM83.6 281.1h1.2v1.2h-1.2zM85.5 283.0h1.2v1.2h-1.2zM100.1 280.5h1.2v1.2h-1.2zM84.6 282.3h1.2v1.2h-1.2zM77.1 279.0h1.2v1.2h-1.2zM86.9 281.6h1.2v1.2h-1.2zM53.1 283.2h1.2v1.2h-1.2zM81.2 275.2h1.2v1.2h-1.2zM95.2 281.1h1.2v1.2h-1.2zM99.7 279.3h1.2v1.2h-1.2zM88.2 281.1h1.2v1.2h-1.2zM89.3 279.2h1.2v1.2h-1.2zM90.5 278.7h1.2v1.2h-1.2zM101.2 283.0h1.2v1.2h-1.2zM79.8 280.2h1.2v1.2h-1.2zM90.0 277.9h1.2v1.2h-1.2zM82.7 280.4h1.2v1.2h-1.2zM79.3 280.1h1.2v1.2h-1.2zM86.8 281.1h1.2v1.2h-1.2zM78.8 278.6h1.2v1.2h-1.2zM86.6 281.7h1.2v1.2h-1.2zM84.5 281.5h1.2v1.2h-1.2zM78.1 277.3h1.2v1.2h-1.2zM97.6 276.9h1.2v1.2h-1.2zM84.7 278.9h1.2v1.2h-1.2zM100.0 277.1h1.2v1.2h-1.2zM105.9 281.6h1.2v1.2h-1.2zM90.5 277.4h1.2v1.2h-1.2zM87.7 280.5h1.2v1.2h-1.2zM82.8 276.9h1.2v1.2h-1.2zM91.2 281.1h1.2v1.2h-1.2zM106.9 282.8h1.2v1.2h-1.2zM55.6 282.8h1.2v1.2h-1.2zM72.3 281.2h1.2v1.2h-1.2zM89.5 282.3h1.2v1.2h-1.2zM80.5 275.9h1.2v1.2h-1.2zM90.2 279.5h1.2v1.2h-1.2zM63.2 275.1h1.2v1.2h-1.2zM88.0 281.3h1.2v1.2h-1.2zM88.8 281.1h1.2v1.2h-1.2zM92.2 278.0h1.2v1.2h-1.2zM63.4 280.7h1.2v1.2h-1.2zM83.7 279.4h1.2v1.2h-1.2zM73.8 277.6h1.2v1.2h-1.2zM94.7 274.9h1.2v1.2h-1.2zM78.3 278.9h1.2v1.2h-1.2zM102.0 281.0h1.2v1.2h-1.2zM91.5 278.2h1.2v1.2h-1.2zM97.8 277.4h1.2v1.2h-1.2zM82.9 279.2h1.2v1.2h-1.2zM95.4 282.3h1.2v1.2h-1.2zM79.0 276.4h1.2v1.2h-1.2zM82.3 280.1h1.2v1.2h-1.2zM71.2 276.8h1.2v1.2h-1.2zM82.5 281.3h1.2v1.2h-1.2zM85.6 281.6h1.2v1.2h-1.2zM72.2 279.2h1.2v1.2h-1.2zM79.3 275.1h1.2v1.2h-1.2zM94.3 277.7h1.2v1.2h-1.2zM87.7 282.2h1.2v1.2h-1.2zM89.2 277.1h1.2v1.2h-1.2zM84.0 282.3h1.2v1.2h-1.2zM103.9 282.8h1.2v1.2h-1.2zM82.7 282.1h1.2v1.2h-1.2zM66.7 280.2h1.2v1.2h-1.2zM77.3 282.4h1.2v1.2h-1.2zM88.2 279.4h1.2v1.2h-1.2zM85.2 281.5h1.2v1.2h-1.2zM87.2 280.8h1.2v1.2h-1.2zM83.6 281.3h1.2v1.2h-1.2zM71.5 282.6h1.2v1.2h-1.2zM89.7 278.8h1.2v1.2h-1.2zM88.6 280.9h1.2v1.2h-1.2zM98.0 276.8h1.2v1.2h-1.2zM86.9 281.1h1.2v1.2h-1.2zM73.7 275.2h1.2v1.2h-1.2zM72.8 277.5h1.2v1.2h-1.2zM85.9 281.2h1.2v1.2h-1.2zM125.1 281.1h1.2v1.2h-1.2zM95.1 274.9h1.2v1.2h-1.2zM78.3 275.1h1.2v1.2h-1.2zM76.6 276.5h1.2v1.2h-1.2zM89.5 281.4h1.2v1.2h-1.2zM89.0 279.8h1.2v1.2h-1.2zM112.3 282.3h1.2v1.2h-1.2zM89.4 280.6h1.2v1.2h-1.2zM103.3 278.5h1.2v1.2h-1.2zM91.5 275.8h1.2v1.2h-1.2zM85.3 279.7h1.2v1.2h-1.2zM79.7 277.9h1.2v1.2h-1.2zM76.3 276.6h1.2v1.2h-1.2zM72.5 278.6h1.2v1.2h-1.2zM88.0 279.5h1.2v1.2h-1.2zM81.9 276.6h1.2v1.2h-1.2zM81.4 279.3h1.2v1.2h-1.2zM87.4 280.3h1.2v1.2h-1.2zM85.6 282.7h1.2v1.2h-1.2zM85.3 280.5h1.2v1.2h-1.2zM91.9 282.0h1.2v1.2h-1.2zM71.7 280.5h1.2v1.2h-1.2zM85.8 280.9h1.2v1.2h-1.2zM75.7 279.6h1.2v1.2h-1.2zM87.5 280.0h1.2v1.2h-1.2zM84.2 279.7h1.2v1.2h-1.2zM92.2 274.9h1.2v1.2h-1.2zM82.1 278.7h1.2v1.2h-1.2zM66.1 280.1h1.2v1.2h-1.2zM86.2 282.6h1.2v1.2h-1.2zM79.9 276.7h1.2v1.2h-1.2zM109.8 280.1h1.2v1.2h-1.2zM67.2 277.4h1.2v1.2h-1.2zM78.4 278.0h1.2v1.2h-1.2zM94.1 276.2h1.2v1.2h-1.2zM106.5 277.6h1.2v1.2h-1.2zM89.3 278.5h1.2v1.2h-1.2zM90.5 279.7h1.2v1.2h-1.2zM70.8 281.4h1.2v1.2h-1.2zM65.8 277.4h1.2v1.2h-1.2zM119.8 280.6h1.2v1.2h-1.2zM84.2 280.2h1.2v1.2h-1.2zM68.6 282.1h1.2v1.2h-1.2zM93.3 277.0h1.2v1.2h-1.2zM73.9 277.6h1.2v1.2h-1.2zM83.0 279.4h1.2v1.2h-1.2zM77.2 278.8h1.2v1.2h-1.2zM106.5 282.7h1.2v1.2h-1.2zM123.8 282.8h1.2v1.2h-1.2zM89.2 278.9h1.2v1.2h-1.2zM81.6 277.6h1.2v1.2h-1.2zM80.8 278.9h1.2v1.2h-1.2zM85.9 283.1h1.2v1.2h-1.2zM85.5 282.2h1.2v1.2h-1.2zM76.7 275.0h1.2v1.2h-1.2zM78.5 276.3h1.2v1.2h-1.2zM86.3 283.1h1.2v1.2h-1.2zM89.5 279.4h1.2v1.2h-1.2zM85.7 281.2h1.2v1.2h-1.2zM106.0 276.7h1.2v1.2h-1.2zM87.8 280.6h1.2v1.2h-1.2zM86.4 281.3h1.2v1.2h-1.2zM93.3 277.5h1.2v1.2h-1.2zM74.1 276.2h1.2v1.2h-1.2zM90.3 279.1h1.2v1.2h-1.2zM89.6 279.8h1.2v1.2h-1.2zM84.8 282.1h1.2v1.2h-1.2zM89.4 279.0h1.2v1.2h-1.2zM73.4 281.6h1.2v1.2h-1.2zM91.6 279.5h1.2v1.2h-1.2zM95.4 278.6h1.2v1.2h-1.2zM87.0 281.6h1.2v1.2h-1.2zM92.2 278.9h1.2v1.2h-1.2zM76.8 280.3h1.2v1.2h-1.2zM82.6 281.3h1.2v1.2h-1.2zM80.5 276.2h1.2v1.2h-1.2zM93.2 275.0h1.2v1.2h-1.2zM88.3 280.5h1.2v1.2h-1.2zM79.7 276.1h1.2v1.2h-1.2zM89.7 279.7h1.2v1.2h-1.2zM86.6 282.5h1.2v1.2h-1.2zM90.4 277.1h1.2v1.2h-1.2zM84.4 280.9h1.2v1.2h-1.2zM91.6 276.6h1.2v1.2h-1.2zM100.7 283.0h1.2v1.2h-1.2zM103.3 281.3h1.2v1.2h-1.2zM88.3 280.9h1.2v1.2h-1.2zM82.6 281.1h1.2v1.2h-1.2zM90.0 278.9h1.2v1.2h-1.2zM90.7 278.7h1.2v1.2h-1.2zM95.3 277.2h1.2v1.2h-1.2zM86.4 283.2h1.2v1.2h-1.2zM87.0 280.8h1.2v1.2h-1.2zM93.0 278.7h1.2v1.2h-1.2zM84.6 282.6h1.2v1.2h-1.2zM70.5 281.6h1.2v1.2h-1.2zM83.4 280.3h1.2v1.2h-1.2zM81.7 277.6h1.2v1.2h-1.2zM75.0 278.4h1.2v1.2h-1.2zM87.7 281.2h1.2v1.2h-1.2zM84.5 281.2h1.2v1.2h-1.2zM69.4 281.4h1.2v1.2h-1.2zM85.3 281.5h1.2v1.2h-1.2zM89.4 280.2h1.2v1.2h-1.2zM86.0 282.6h1.2v1.2h-1.2zM113.0 278.8h1.2v1.2h-1.2zM91.6 278.1h1.2v1.2h-1.2zM68.8 281.0h1.2v1.2h-1.2zM89.7 281.0h1.2v1.2h-1.2zM76.1 279.3h1.2v1.2h-1.2zM63.3 282.1h1.2v1.2h-1.2zM72.5 282.4h1.2v1.2h-1.2zM84.6 279.4h1.2v1.2h-1.2zM90.0 279.0h1.2v1.2h-1.2zM89.1 283.0h1.2v1.2h-1.2zM114.0 281.9h1.2v1.2h-1.2zM94.4 276.4h1.2v1.2h-1.2zM93.2 276.1h1.2v1.2h-1.2zM84.7 282.7h1.2v1.2h-1.2zM77.5 280.4h1.2v1.2h-1.2zM87.9 280.4h1.2v1.2h-1.2zM89.0 279.3h1.2v1.2h-1.2zM93.2 275.4h1.2v1.2h-1.2zM90.1 279.4h1.2v1.2h-1.2zM76.4 277.0h1.2v1.2h-1.2zM107.4 281.0h1.2v1.2h-1.2zM89.2 279.2h1.2v1.2h-1.2zM98.2 276.2h1.2v1.2h-1.2zM83.7 281.6h1.2v1.2h-1.2zM119.8 278.9h1.2v1.2h-1.2zM89.0 279.5h1.2v1.2h-1.2zM63.8 281.3h1.2v1.2h-1.2zM104.0 280.2h1.2v1.2h-1.2zM80.2 275.3h1.2v1.2h-1.2zM86.7 282.7h1.2v1.2h-1.2zM65.2 281.2h1.2v1.2h-1.2zM86.1 281.2h1.2v1.2h-1.2zM85.4 280.0h1.2v1.2h-1.2zM81.3 279.0h1.2v1.2h-1.2zM90.5 279.0h1.2v1.2h-1.2zM80.8 279.7h1.2v1.2h-1.2zM80.6 275.8h1.2v1.2h-1.2zM69.6 281.6h1.2v1.2h-1.2zM79.1 277.5h1.2v1.2h-1.2zM73.3 280.0h1.2v1.2h-1.2zM94.4 275.8h1.2v1.2h-1.2zM95.4 277.9h1.2v1.2h-1.2zM52.3 278.3h1.2v1.2h-1.2zM91.9 279.6h1.2v1.2h-1.2zM92.0 279.3h1.2v1.2h-1.2zM83.6 279.1h1.2v1.2h-1.2zM98.4 282.6h1.2v1.2h-1.2zM100.3 278.4h1.2v1.2h-1.2zM93.4 280.4h1.2v1.2h-1.2zM89.5 281.4h1.2v1.2h-1.2zM89.9 277.5h1.2v1.2h-1.2zM77.6 280.3h1.2v1.2h-1.2zM82.4 280.8h1.2v1.2h-1.2zM118.4 283.3h1.2v1.2h-1.2zM103.7 278.6h1.2v1.2h-1.2zM79.9 275.6h1.2v1.2h-1.2zM92.0 276.4h1.2v1.2h-1.2zM82.9 277.3h1.2v1.2h-1.2zM76.3 279.5h1.2v1.2h-1.2zM105.0 280.1h1.2v1.2h-1.2zM89.7 280.9h1.2v1.2h-1.2zM93.0 278.9h1.2v1.2h-1.2zM87.4 280.0h1.2v1.2h-1.2zM80.1 279.9h1.2v1.2h-1.2zM75.5 277.3h1.2v1.2h-1.2zM132.8 283.0h1.2v1.2h-1.2zM82.2 277.8h1.2v1.2h-1.2zM98.1 276.1h1.2v1.2h-1.2zM74.6 279.7h1.2v1.2h-1.2zM91.3 277.5h1.2v1.2h-1.2zM76.6 275.7h1.2v1.2h-1.2zM109.5 282.6h1.2v1.2h-1.2zM90.9 276.4h1.2v1.2h-1.2zM76.4 276.9h1.2v1.2h-1.2zM93.7 276.0h1.2v1.2h-1.2zM100.1 281.7h1.2v1.2h-1.2zM88.9 280.1h1.2v1.2h-1.2zM78.5 275.1h1.2v1.2h-1.2zM88.8 278.1h1.2v1.2h-1.2zM110.1 282.9h1.2v1.2h-1.2zM81.7 278.6h1.2v1.2h-1.2zM81.4 278.5h1.2v1.2h-1.2zM97.2 280.6h1.2v1.2h-1.2zM86.4 280.4h1.2v1.2h-1.2zM88.6 280.9h1.2v1.2h-1.2zM76.7 281.3h1.2v1.2h-1.2zM82.3 279.4h1.2v1.2h-1.2zM85.6 282.7h1.2v1.2h-1.2zM87.6 283.0h1.2v1.2h-1.2zM92.1 276.9h1.2v1.2h-1.2zM90.1 279.6h1.2v1.2h-1.2zM77.9 276.7h1.2v1.2h-1.2zM90.4 275.4h1.2v1.2h-1.2zM81.5 277.4h1.2v1.2h-1.2zM69.8 282.5h1.2v1.2h-1.2zM100.0 281.8h1.2v1.2h-1.2zM54.7 280.4h1.2v1.2h-1.2zM87.3 282.0h1.2v1.2h-1.2zM84.1 281.7h1.2v1.2h-1.2zM78.4 282.5h1.2v1.2h-1.2zM100.3 283.1h1.2v1.2h-1.2zM75.9 278.8h1.2v1.2h-1.2zM73.9 276.5h1.2v1.2h-1.2zM89.5 277.6h1.2v1.2h-1.2zM92.8 275.2h1.2v1.2h-1.2zM91.1 277.0h1.2v1.2h-1.2zM76.8 276.6h1.2v1.2h-1.2zM89.2 279.7h1.2v1.2h-1.2zM100.3 282.3h1.2v1.2h-1.2zM39.0 283.3h1.2v1.2h-1.2zM92.6 275.3h1.2v1.2h-1.2zM90.1 277.8h1.2v1.2h-1.2zM85.6 281.9h1.2v1.2h-1.2zM102.7 283.1h1.2v1.2h-1.2zM98.9 281.1h1.2v1.2h-1.2zM87.4 281.1h1.2v1.2h-1.2zM74.3 277.5h1.2v1.2h-1.2zM83.4 280.1h1.2v1.2h-1.2zM76.6 276.2h1.2v1.2h-1.2zM110.9 283.4h1.2v1.2h-1.2zM86.2 282.1h1.2v1.2h-1.2zM79.4 278.9h1.2v1.2h-1.2zM103.8 282.9h1.2v1.2h-1.2zM83.5 279.1h1.2v1.2h-1.2zM61.1 279.0h1.2v1.2h-1.2zM87.1 280.8h1.2v1.2h-1.2zM102.8 279.5h1.2v1.2h-1.2zM95.9 277.5h1.2v1.2h-1.2zM80.4 280.8h1.2v1.2h-1.2zM109.3 280.7h1.2v1.2h-1.2zM80.6 278.6h1.2v1.2h-1.2zM85.2 281.5h1.2v1.2h-1.2zM86.7 280.9h1.2v1.2h-1.2zM86.8 281.3h1.2v1.2h-1.2zM89.3 279.3h1.2v1.2h-1.2zM72.3 279.9h1.2v1.2h-1.2zM114.0 279.6h1.2v1.2h-1.2zM100.3 275.2h1.2v1.2h-1.2zM92.3 275.4h1.2v1.2h-1.2zM101.5 277.1h1.2v1.2h-1.2zM83.1 277.7h1.2v1.2h-1.2zM82.7 280.1h1.2v1.2h-1.2zM79.9 275.0h1.2v1.2h-1.2zM104.6 283.1h1.2v1.2h-1.2zM132.0 282.4h1.2v1.2h-1.2zM85.6 283.4h1.2v1.2h-1.2zM98.4 279.6h1.2v1.2h-1.2zM84.0 283.0h1.2v1.2h-1.2zM66.0 282.3h1.2v1.2h-1.2zM96.6 276.4h1.2v1.2h-1.2zM87.6 279.8h1.2v1.2h-1.2zM84.8 281.2h1.2v1.2h-1.2zM62.6 275.1h1.2v1.2h-1.2zM86.2 282.7h1.2v1.2h-1.2zM118.4 282.1h1.2v1.2h-1.2zM70.0 277.9h1.2v1.2h-1.2zM103.4 279.8h1.2v1.2h-1.2zM87.8 280.7h1.2v1.2h-1.2zM83.7 281.1h1.2v1.2h-1.2zM87.3 279.3h1.2v1.2h-1.2zM90.3 277.5h1.2v1.2h-1.2zM73.6 278.8h1.2v1.2h-1.2zM105.3 279.9h1.2v1.2h-1.2zM49.2 278.3h1.2v1.2h-1.2zM88.9 279.8h1.2v1.2h-1.2zM91.0 281.3h1.2v1.2h-1.2zM85.4 282.5h1.2v1.2h-1.2zM102.5 279.0h1.2v1.2h-1.2zM57.1 282.2h1.2v1.2h-1.2zM81.3 276.7h1.2v1.2h-1.2zM89.2 278.6h1.2v1.2h-1.2zM97.6 280.3h1.2v1.2h-1.2zM101.1 278.3h1.2v1.2h-1.2zM92.5 279.3h1.2v1.2h-1.2zM82.8 279.1h1.2v1.2h-1.2zM88.6 280.4h1.2v1.2h-1.2zM81.7 281.6h1.2v1.2h-1.2zM88.2 281.7h1.2v1.2h-1.2zM83.9 281.3h1.2v1.2h-1.2zM89.7 277.2h1.2v1.2h-1.2zM93.7 275.3h1.2v1.2h-1.2zM100.2 281.6h1.2v1.2h-1.2zM100.6 282.4h1.2v1.2h-1.2zM92.3 281.3h1.2v1.2h-1.2zM76.3 276.3h1.2v1.2h-1.2zM83.0 282.4h1.2v1.2h-1.2zM71.8 280.5h1.2v1.2h-1.2zM91.9 280.6h1.2v1.2h-1.2zM88.8 280.1h1.2v1.2h-1.2zM88.3 282.0h1.2v1.2h-1.2zM88.2 279.8h1.2v1.2h-1.2zM58.2 282.4h1.2v1.2h-1.2zM62.4 282.3h1.2v1.2h-1.2zM91.5 282.4h1.2v1.2h-1.2zM101.9 282.4h1.2v1.2h-1.2zM86.9 282.7h1.2v1.2h-1.2zM71.3 278.8h1.2v1.2h-1.2zM83.7 278.6h1.2v1.2h-1.2zM85.1 278.8h1.2v1.2h-1.2zM73.5 276.8h1.2v1.2h-1.2zM85.4 280.7h1.2v1.2h-1.2zM97.8 280.3h1.2v1.2h-1.2zM86.8 282.0h1.2v1.2h-1.2zM72.5 277.8h1.2v1.2h-1.2zM98.6 275.6h1.2v1.2h-1.2zM97.4 277.3h1.2v1.2h-1.2zM95.3 280.2h1.2v1.2h-1.2zM79.6 276.3h1.2v1.2h-1.2zM74.0 275.2h1.2v1.2h-1.2zM75.5 279.8h1.2v1.2h-1.2zM68.8 281.0h1.2v1.2h-1.2zM82.9 278.7h1.2v1.2h-1.2zM125.2 283.1h1.2v1.2h-1.2zM93.1 278.1h1.2v1.2h-1.2zM65.1 280.1h1.2v1.2h-1.2zM78.8 277.5h1.2v1.2h-1.2zM72.8 282.4h1.2v1.2h-1.2zM84.8 279.9h1.2v1.2h-1.2zM71.5 281.8h1.2v1.2h-1.2zM79.4 275.0h1.2v1.2h-1.2zM98.4 283.4h1.2v1.2h-1.2zM87.4 281.8h1.2v1.2h-1.2zM82.4 279.4h1.2v1.2h-1.2zM64.9 279.7h1.2v1.2h-1.2zM91.3 279.3h1.2v1.2h-1.2zM90.2 280.9h1.2v1.2h-1.2zM86.9 281.5h1.2v1.2h-1.2zM69.6 280.7h1.2v1.2h-1.2zM89.0 280.4h1.2v1.2h-1.2zM71.1 281.6h1.2v1.2h-1.2zM71.4 281.2h1.2v1.2h-1.2zM77.8 279.9h1.2v1.2h-1.2zM95.5 275.7h1.2v1.2h-1.2zM79.8 277.2h1.2v1.2h-1.2zM91.9 278.3h1.2v1.2h-1.2zM79.8 278.5h1.2v1.2h-1.2zM84.4 281.4h1.2v1.2h-1.2zM82.1 280.0h1.2v1.2h-1.2zM91.3 281.7h1.2v1.2h-1.2zM95.3 282.4h1.2v1.2h-1.2zM83.0 279.7h1.2v1.2h-1.2zM101.5 278.8h1.2v1.2h-1.2zM89.2 279.6h1.2v1.2h-1.2zM82.7 281.5h1.2v1.2h-1.2zM72.5 283.3h1.2v1.2h-1.2zM81.6 275.5h1.2v1.2h-1.2zM85.1 282.2h1.2v1.2h-1.2zM70.3 282.9h1.2v1.2h-1.2zM84.7 279.9h1.2v1.2h-1.2zM72.6 282.3h1.2v1.2h-1.2zM87.5 281.7h1.2v1.2h-1.2zM107.2 281.0h1.2v1.2h-1.2zM83.3 279.6h1.2v1.2h-1.2zM66.4 283.1h1.2v1.2h-1.2zM75.7 278.4h1.2v1.2h-1.2zM69.2 281.9h1.2v1.2h-1.2zM95.9 277.7h1.2v1.2h-1.2zM85.0 280.9h1.2v1.2h-1.2zM97.5 277.6h1.2v1.2h-1.2zM93.0 279.7h1.2v1.2h-1.2zM86.3 280.2h1.2v1.2h-1.2zM77.5 278.7h1.2v1.2h-1.2zM87.4 281.4h1.2v1.2h-1.2zM85.0 282.3h1.2v1.2h-1.2zM97.9 278.7h1.2v1.2h-1.2zM71.1 277.7h1.2v1.2h-1.2zM85.2 282.5h1.2v1.2h-1.2zM53.1 282.8h1.2v1.2h-1.2zM73.8 275.1h1.2v1.2h-1.2zM71.5 280.2h1.2v1.2h-1.2zM104.9 277.0h1.2v1.2h-1.2zM87.9 279.7h1.2v1.2h-1.2zM74.4 278.4h1.2v1.2h-1.2zM81.5 277.9h1.2v1.2h-1.2zM82.2 277.9h1.2v1.2h-1.2zM86.6 279.8h1.2v1.2h-1.2zM95.5 275.3h1.2v1.2h-1.2zM83.1 277.4h1.2v1.2h-1.2zM66.7 282.6h1.2v1.2h-1.2zM83.7 279.1h1.2v1.2h-1.2zM71.3 281.8h1.2v1.2h-1.2zM65.1 280.9h1.2v1.2h-1.2zM89.0 280.9h1.2v1.2h-1.2zM85.9 282.8h1.2v1.2h-1.2zM83.9 279.4h1.2v1.2h-1.2zM65.1 282.4h1.2v1.2h-1.2zM83.5 280.6h1.2v1.2h-1.2zM100.5 281.0h1.2v1.2h-1.2zM77.1 275.4h1.2v1.2h-1.2zM87.7 282.7h1.2v1.2h-1.2zM46.1 282.7h1.2v1.2h-1.2zM70.3 279.5h1.2v1.2h-1.2zM82.0 279.5h1.2v1.2h-1.2zM89.7 278.5h1.2v1.2h-1.2zM122.1 281.1h1.2v1.2h-1.2zM91.7 278.5h1.2v1.2h-1.2zM64.4 279.6h1.2v1.2h-1.2zM103.2 281.6h1.2v1.2h-1.2zM92.0 283.1h1.2v1.2h-1.2zM82.5 279.1h1.2v1.2h-1.2zM67.0 279.3h1.2v1.2h-1.2zM85.0 281.2h1.2v1.2h-1.2zM86.5 280.7h1.2v1.2h-1.2zM93.0 276.7h1.2v1.2h-1.2zM51.5 281.6h1.2v1.2h-1.2zM87.7 282.5h1.2v1.2h-1.2zM44.9 282.7h1.2v1.2h-1.2zM88.1 282.2h1.2v1.2h-1.2zM75.2 282.2h1.2v1.2h-1.2zM89.8 280.6h1.2v1.2h-1.2zM98.7 276.7h1.2v1.2h-1.2zM82.0 278.9h1.2v1.2h-1.2zM88.3 280.0h1.2v1.2h-1.2zM88.1 279.8h1.2v1.2h-1.2zM86.1 281.7h1.2v1.2h-1.2zM78.3 276.1h1.2v1.2h-1.2zM82.2 277.6h1.2v1.2h-1.2zM93.0 275.8h1.2v1.2h-1.2zM95.9 275.3h1.2v1.2h-1.2zM88.2 276.8h1.2v1.2h-1.2zM90.2 278.3h1.2v1.2h-1.2zM62.9 279.2h1.2v1.2h-1.2zM66.7 283.0h1.2v1.2h-1.2zM72.5 281.7h1.2v1.2h-1.2zM84.4 279.6h1.2v1.2h-1.2zM80.8 277.9h1.2v1.2h-1.2zM94.2 280.0h1.2v1.2h-1.2zM73.5 279.4h1.2v1.2h-1.2zM84.3 281.6h1.2v1.2h-1.2zM98.4 282.3h1.2v1.2h-1.2zM85.8 278.9h1.2v1.2h-1.2zM64.8 282.9h1.2v1.2h-1.2zM71.4 279.5h1.2v1.2h-1.2zM93.5 280.1h1.2v1.2h-1.2zM94.9 275.4h1.2v1.2h-1.2zM86.5 282.2h1.2v1.2h-1.2zM84.2 282.2h1.2v1.2h-1.2zM89.7 281.5h1.2v1.2h-1.2zM93.7 276.4h1.2v1.2h-1.2zM101.5 280.6h1.2v1.2h-1.2zM68.7 283.2h1.2v1.2h-1.2zM73.2 283.3h1.2v1.2h-1.2zM90.2 278.1h1.2v1.2h-1.2zM83.4 280.1h1.2v1.2h-1.2zM87.8 279.5h1.2v1.2h-1.2zM83.2 279.0h1.2v1.2h-1.2zM97.5 279.2h1.2v1.2h-1.2zM94.3 276.1h1.2v1.2h-1.2zM88.7 278.9h1.2v1.2h-1.2zM80.6 278.1h1.2v1.2h-1.2zM71.1 282.5h1.2v1.2h-1.2zM59.6 280.8h1.2v1.2h-1.2zM82.7 280.4h1.2v1.2h-1.2zM102.5 280.4h1.2v1.2h-1.2zM86.9 282.2h1.2v1.2h-1.2zM82.2 278.3h1.2v1.2h-1.2zM91.4 281.1h1.2v1.2h-1.2zM89.5 278.0h1.2v1.2h-1.2zM78.4 278.0h1.2v1.2h-1.2zM100.4 281.5h1.2v1.2h-1.2zM110.8 283.0h1.2v1.2h-1.2zM87.5 281.1h1.2v1.2h-1.2zM104.5 280.9h1.2v1.2h-1.2zM98.9 280.4h1.2v1.2h-1.2zM88.6 279.9h1.2v1.2h-1.2zM88.3 281.5h1.2v1.2h-1.2zM88.7 282.3h1.2v1.2h-1.2zM102.0 279.1h1.2v1.2h-1.2zM76.3 276.8h1.2v1.2h-1.2zM87.5 281.8h1.2v1.2h-1.2zM71.8 283.0h1.2v1.2h-1.2zM86.4 282.0h1.2v1.2h-1.2zM94.1 278.1h1.2v1.2h-1.2zM82.2 281.6h1.2v1.2h-1.2zM77.2 278.6h1.2v1.2h-1.2zM91.3 281.4h1.2v1.2h-1.2zM103.1 281.7h1.2v1.2h-1.2zM96.1 279.9h1.2v1.2h-1.2zM97.9 281.1h1.2v1.2h-1.2zM69.2 282.1h1.2v1.2h-1.2zM81.2 276.9h1.2v1.2h-1.2zM77.7 279.2h1.2v1.2h-1.2zM90.8 278.5h1.2v1.2h-1.2zM94.7 278.4h1.2v1.2h-1.2zM93.6 276.1h1.2v1.2h-1.2zM86.7 279.4h1.2v1.2h-1.2zM86.0 283.2h1.2v1.2h-1.2zM77.9 277.2h1.2v1.2h-1.2zM82.3 278.9h1.2v1.2h-1.2zM90.3 276.5h1.2v1.2h-1.2zM75.2 275.0h1.2v1.2h-1.2zM78.5 275.9h1.2v1.2h-1.2zM99.0 281.3h1.2v1.2h-1.2zM86.1 282.6h1.2v1.2h-1.2zM61.3 275.4h1.2v1.2h-1.2zM71.1 281.1h1.2v1.2h-1.2zM92.3 275.3h1.2v1.2h-1.2zM76.2 279.6h1.2v1.2h-1.2zM84.4 281.3h1.2v1.2h-1.2zM85.4 280.1h1.2v1.2h-1.2zM82.1 281.6h1.2v1.2h-1.2zM92.1 279.0h1.2v1.2h-1.2zM89.0 278.4h1.2v1.2h-1.2zM93.5 275.0h1.2v1.2h-1.2zM115.8 279.5h1.2v1.2h-1.2zM85.3 281.0h1.2v1.2h-1.2zM89.4 278.9h1.2v1.2h-1.2zM89.4 278.7h1.2v1.2h-1.2zM71.8 282.1h1.2v1.2h-1.2zM97.2 279.8h1.2v1.2h-1.2zM90.2 280.3h1.2v1.2h-1.2zM89.1 276.9h1.2v1.2h-1.2zM68.4 281.4h1.2v1.2h-1.2zM90.6 281.8h1.2v1.2h-1.2zM80.1 278.9h1.2v1.2h-1.2zM88.5 281.4h1.2v1.2h-1.2zM85.6 281.2h1.2v1.2h-1.2zM75.3 278.6h1.2v1.2h-1.2zM81.8 277.5h1.2v1.2h-1.2zM98.6 278.1h1.2v1.2h-1.2zM88.1 281.8h1.2v1.2h-1.2zM82.3 281.0h1.2v1.2h-1.2zM79.7 279.8h1.2v1.2h-1.2zM85.5 281.9h1.2v1.2h-1.2zM77.4 275.0h1.2v1.2h-1.2zM85.1 282.0h1.2v1.2h-1.2zM86.2 281.7h1.2v1.2h-1.2zM97.9 277.5h1.2v1.2h-1.2zM128.7 281.4h1.2v1.2h-1.2zM88.3 279.8h1.2v1.2h-1.2zM71.9 275.2h1.2v1.2h-1.2zM82.8 279.6h1.2v1.2h-1.2zM89.4 276.2h1.2v1.2h-1.2zM85.8 282.9h1.2v1.2h-1.2zM84.4 280.6h1.2v1.2h-1.2zM72.0 275.9h1.2v1.2h-1.2zM89.0 278.1h1.2v1.2h-1.2zM83.5 279.4h1.2v1.2h-1.2zM78.3 279.0h1.2v1.2h-1.2zM84.7 281.7h1.2v1.2h-1.2zM60.3 283.0h1.2v1.2h-1.2zM101.2 280.7h1.2v1.2h-1.2zM91.2 279.9h1.2v1.2h-1.2zM93.9 276.2h1.2v1.2h-1.2zM85.6 281.5h1.2v1.2h-1.2zM106.3 277.3h1.2v1.2h-1.2zM98.6 278.6h1.2v1.2h-1.2zM80.2 275.8h1.2v1.2h-1.2zM89.1 279.9h1.2v1.2h-1.2zM86.4 282.7h1.2v1.2h-1.2zM84.2 279.8h1.2v1.2h-1.2zM97.8 275.5h1.2v1.2h-1.2zM98.0 279.0h1.2v1.2h-1.2zM79.8 275.8h1.2v1.2h-1.2zM105.5 283.1h1.2v1.2h-1.2zM100.3 282.7h1.2v1.2h-1.2zM93.6 279.9h1.2v1.2h-1.2zM93.0 280.4h1.2v1.2h-1.2zM78.2 275.4h1.2v1.2h-1.2zM92.2 275.4h1.2v1.2h-1.2zM79.3 277.8h1.2v1.2h-1.2zM84.3 281.0h1.2v1.2h-1.2zM93.3 278.8h1.2v1.2h-1.2zM82.0 277.6h1.2v1.2h-1.2zM90.7 278.5h1.2v1.2h-1.2zM86.6 282.7h1.2v1.2h-1.2zM92.0 279.6h1.2v1.2h-1.2zM88.1 280.6h1.2v1.2h-1.2zM76.3 280.5h1.2v1.2h-1.2zM91.6 275.0h1.2v1.2h-1.2zM89.1 280.5h1.2v1.2h-1.2zM94.5 278.8h1.2v1.2h-1.2zM64.9 277.5h1.2v1.2h-1.2zM105.7 281.3h1.2v1.2h-1.2zM119.5 282.3h1.2v1.2h-1.2zM76.4 277.5h1.2v1.2h-1.2zM93.3 275.0h1.2v1.2h-1.2zM88.3 279.9h1.2v1.2h-1.2zM73.1 282.4h1.2v1.2h-1.2zM79.7 281.2h1.2v1.2h-1.2zM91.9 279.2h1.2v1.2h-1.2zM90.0 277.9h1.2v1.2h-1.2zM90.1 278.0h1.2v1.2h-1.2zM91.0 276.9h1.2v1.2h-1.2zM101.3 280.7h1.2v1.2h-1.2zM83.9 276.5h1.2v1.2h-1.2zM87.2 279.4h1.2v1.2h-1.2zM67.7 280.2h1.2v1.2h-1.2zM95.5 274.9h1.2v1.2h-1.2zM65.4 282.7h1.2v1.2h-1.2zM88.2 280.6h1.2v1.2h-1.2zM94.7 282.0h1.2v1.2h-1.2zM82.8 278.8h1.2v1.2h-1.2zM89.7 279.7h1.2v1.2h-1.2zM83.9 279.5h1.2v1.2h-1.2zM104.0 283.1h1.2v1.2h-1.2zM84.9 279.1h1.2v1.2h-1.2zM48.9 278.5h1.2v1.2h-1.2zM88.6 280.5h1.2v1.2h-1.2zM106.3 279.6h1.2v1.2h-1.2zM82.2 280.8h1.2v1.2h-1.2zM75.3 276.1h1.2v1.2h-1.2zM89.4 280.8h1.2v1.2h-1.2zM84.8 282.6h1.2v1.2h-1.2zM64.6 280.7h1.2v1.2h-1.2zM101.3 280.3h1.2v1.2h-1.2zM79.7 279.9h1.2v1.2h-1.2zM68.4 281.3h1.2v1.2h-1.2zM76.5 279.1h1.2v1.2h-1.2zM76.9 276.0h1.2v1.2h-1.2zM82.7 278.0h1.2v1.2h-1.2zM71.3 282.4h1.2v1.2h-1.2zM107.6 277.4h1.2v1.2h-1.2zM70.2 279.8h1.2v1.2h-1.2zM85.9 282.4h1.2v1.2h-1.2zM96.4 275.2h1.2v1.2h-1.2zM80.0 278.0h1.2v1.2h-1.2zM83.5 279.6h1.2v1.2h-1.2zM68.8 281.3h1.2v1.2h-1.2zM64.1 281.4h1.2v1.2h-1.2zM61.6 282.3h1.2v1.2h-1.2zM88.8 280.0h1.2v1.2h-1.2zM83.7 281.8h1.2v1.2h-1.2zM85.4 280.8h1.2v1.2h-1.2zM85.3 281.6h1.2v1.2h-1.2zM84.4 277.8h1.2v1.2h-1.2zM95.8 275.9h1.2v1.2h-1.2zM78.9 275.9h1.2v1.2h-1.2zM75.9 276.7h1.2v1.2h-1.2zM42.2 281.3h1.2v1.2h-1.2zM62.4 280.4h1.2v1.2h-1.2zM88.8 279.6h1.2v1.2h-1.2zM73.5 283.4h1.2v1.2h-1.2zM84.0 281.6h1.2v1.2h-1.2zM82.8 280.8h1.2v1.2h-1.2zM83.8 279.0h1.2v1.2h-1.2zM76.9 275.0h1.2v1.2h-1.2zM82.5 278.1h1.2v1.2h-1.2zM88.4 281.8h1.2v1.2h-1.2zM94.4 278.1h1.2v1.2h-1.2zM77.4 275.3h1.2v1.2h-1.2zM90.7 280.1h1.2v1.2h-1.2zM94.5 278.3h1.2v1.2h-1.2zM93.1 277.2h1.2v1.2h-1.2zM91.0 278.3h1.2v1.2h-1.2zM103.3 280.5h1.2v1.2h-1.2zM81.2 280.0h1.2v1.2h-1.2zM84.4 281.5h1.2v1.2h-1.2zM84.5 282.0h1.2v1.2h-1.2zM84.2 280.8h1.2v1.2h-1.2zM87.8 280.5h1.2v1.2h-1.2zM84.5 281.1h1.2v1.2h-1.2zM87.1 279.8h1.2v1.2h-1.2zM79.5 279.3h1.2v1.2h-1.2zM84.4 281.2h1.2v1.2h-1.2zM89.2 279.1h1.2v1.2h-1.2zM74.0 276.1h1.2v1.2h-1.2z" fill="#bfbfbf"/>
<line x1="33.30" y1="184.70" x2="33.30" y2="289.30" stroke="#231f20" stroke-width="1.1" />
<line x1="32.75" y1="288.85" x2="135.80" y2="288.85" stroke="#231f20" stroke-width="1.1" />
<line x1="30.30" y1="284.10" x2="33.30" y2="284.10" stroke="#231f20" stroke-width="0.9" />
<text style="stroke:#231f20;stroke-width:0.08px" x="28.70" y="286.60" font-size="7.0" text-anchor="end" >0</text>
<line x1="30.30" y1="259.70" x2="33.30" y2="259.70" stroke="#231f20" stroke-width="0.9" />
<text style="stroke:#231f20;stroke-width:0.08px" x="28.70" y="262.20" font-size="7.0" text-anchor="end" >3</text>
<line x1="30.30" y1="235.30" x2="33.30" y2="235.30" stroke="#231f20" stroke-width="0.9" />
<text style="stroke:#231f20;stroke-width:0.08px" x="28.70" y="237.80" font-size="7.0" text-anchor="end" >6</text>
<line x1="30.30" y1="210.90" x2="33.30" y2="210.90" stroke="#231f20" stroke-width="0.9" />
<text style="stroke:#231f20;stroke-width:0.08px" x="28.70" y="213.40" font-size="7.0" text-anchor="end" >9</text>
<line x1="30.30" y1="186.50" x2="33.30" y2="186.50" stroke="#231f20" stroke-width="0.9" />
<text style="stroke:#231f20;stroke-width:0.08px" x="28.70" y="189.00" font-size="7.0" text-anchor="end" >12</text>
<line x1="40.28" y1="288.85" x2="40.28" y2="292.00" stroke="#231f20" stroke-width="0.9" />
<text style="stroke:#231f20;stroke-width:0.08px" x="42.23" y="300.90" font-size="7.0" text-anchor="end" >6</text>
<line x1="32.68" y1="298.40" x2="37.68" y2="298.40" stroke="#231f20" stroke-width="0.75" />
<line x1="63.44" y1="288.85" x2="63.44" y2="292.00" stroke="#231f20" stroke-width="0.9" />
<text style="stroke:#231f20;stroke-width:0.08px" x="65.39" y="300.90" font-size="7.0" text-anchor="end" >3</text>
<line x1="55.84" y1="298.40" x2="60.84" y2="298.40" stroke="#231f20" stroke-width="0.75" />
<line x1="86.60" y1="288.85" x2="86.60" y2="292.00" stroke="#231f20" stroke-width="0.9" />
<text style="stroke:#231f20;stroke-width:0.08px" x="88.55" y="300.90" font-size="7.0" text-anchor="end" >0</text>
<line x1="109.76" y1="288.85" x2="109.76" y2="292.00" stroke="#231f20" stroke-width="0.9" />
<text style="stroke:#231f20;stroke-width:0.08px" x="111.71" y="300.90" font-size="7.0" text-anchor="end" >3</text>
<line x1="132.92" y1="288.85" x2="132.92" y2="292.00" stroke="#231f20" stroke-width="0.9" />
<text style="stroke:#231f20;stroke-width:0.08px" x="134.87" y="300.90" font-size="7.0" text-anchor="end" >6</text>
<line x1="79.20" y1="185.20" x2="79.20" y2="288.80" stroke="#4a4a4a" stroke-width="1.0" stroke-dasharray="2.3 3.1 8.4 3.1 8.4 3.1 8.4 3.1 8.4 3.1 8.4 3.1 8.4 3.1 8.4 3.1 8.4 3.1 8.4 3.1 8.4 3.1"/>
<line x1="94.40" y1="185.20" x2="94.40" y2="288.80" stroke="#4a4a4a" stroke-width="1.0" stroke-dasharray="2.3 3.1 8.4 3.1 8.4 3.1 8.4 3.1 8.4 3.1 8.4 3.1 8.4 3.1 8.4 3.1 8.4 3.1 8.4 3.1 8.4 3.1"/>
<line x1="33.30" y1="274.20" x2="135.80" y2="274.20" stroke="#4a4a4a" stroke-width="1.0" stroke-dasharray="8.4 3.1"/>
<path d="M203.5 283.3h1.2v1.2h-1.2zM216.6 283.4h1.2v1.2h-1.2zM220.6 276.5h1.2v1.2h-1.2zM213.3 282.0h1.2v1.2h-1.2zM218.3 283.0h1.2v1.2h-1.2zM212.8 278.7h1.2v1.2h-1.2zM218.8 281.1h1.2v1.2h-1.2zM236.9 278.6h1.2v1.2h-1.2zM232.0 282.3h1.2v1.2h-1.2zM213.3 282.3h1.2v1.2h-1.2zM219.3 278.7h1.2v1.2h-1.2zM219.2 275.0h1.2v1.2h-1.2zM211.1 278.6h1.2v1.2h-1.2zM225.7 281.0h1.2v1.2h-1.2zM223.9 274.2h1.2v1.2h-1.2zM215.8 282.8h1.2v1.2h-1.2zM215.1 283.4h1.2v1.2h-1.2zM211.9 281.9h1.2v1.2h-1.2zM213.6 282.0h1.2v1.2h-1.2zM213.7 282.5h1.2v1.2h-1.2zM225.3 276.1h1.2v1.2h-1.2zM214.4 281.8h1.2v1.2h-1.2zM228.9 281.4h1.2v1.2h-1.2zM216.1 283.9h1.2v1.2h-1.2zM165.9 277.4h1.2v1.2h-1.2zM215.5 283.1h1.2v1.2h-1.2zM200.1 283.6h1.2v1.2h-1.2zM226.1 275.7h1.2v1.2h-1.2zM236.4 282.6h1.2v1.2h-1.2zM221.8 278.0h1.2v1.2h-1.2zM212.3 279.6h1.2v1.2h-1.2zM222.6 276.0h1.2v1.2h-1.2zM211.5 280.3h1.2v1.2h-1.2zM202.3 283.9h1.2v1.2h-1.2zM204.9 278.0h1.2v1.2h-1.2zM203.1 276.9h1.2v1.2h-1.2zM221.2 275.0h1.2v1.2h-1.2zM193.3 282.3h1.2v1.2h-1.2zM221.7 274.8h1.2v1.2h-1.2zM179.8 283.0h1.2v1.2h-1.2zM210.8 279.5h1.2v1.2h-1.2zM203.8 282.1h1.2v1.2h-1.2zM227.9 279.8h1.2v1.2h-1.2zM199.0 280.2h1.2v1.2h-1.2zM217.6 282.3h1.2v1.2h-1.2zM209.0 278.9h1.2v1.2h-1.2zM215.4 283.3h1.2v1.2h-1.2zM184.2 283.1h1.2v1.2h-1.2zM219.4 278.2h1.2v1.2h-1.2zM218.8 279.2h1.2v1.2h-1.2zM203.7 282.4h1.2v1.2h-1.2zM215.0 281.8h1.2v1.2h-1.2zM214.2 281.5h1.2v1.2h-1.2zM215.8 283.5h1.2v1.2h-1.2zM203.2 279.9h1.2v1.2h-1.2zM203.1 283.3h1.2v1.2h-1.2zM207.2 277.8h1.2v1.2h-1.2zM220.4 279.9h1.2v1.2h-1.2zM210.9 278.8h1.2v1.2h-1.2zM240.4 278.1h1.2v1.2h-1.2zM219.3 280.0h1.2v1.2h-1.2zM226.9 277.0h1.2v1.2h-1.2zM217.2 283.7h1.2v1.2h-1.2zM218.2 281.4h1.2v1.2h-1.2zM217.8 280.4h1.2v1.2h-1.2zM212.7 280.5h1.2v1.2h-1.2zM203.7 283.9h1.2v1.2h-1.2zM210.2 277.3h1.2v1.2h-1.2zM214.3 281.2h1.2v1.2h-1.2zM208.0 274.2h1.2v1.2h-1.2zM205.2 280.7h1.2v1.2h-1.2zM215.8 283.1h1.2v1.2h-1.2zM199.3 278.2h1.2v1.2h-1.2zM235.1 282.6h1.2v1.2h-1.2zM229.6 281.2h1.2v1.2h-1.2zM213.8 279.8h1.2v1.2h-1.2zM202.7 283.3h1.2v1.2h-1.2zM196.1 281.8h1.2v1.2h-1.2zM234.2 283.8h1.2v1.2h-1.2zM214.6 282.6h1.2v1.2h-1.2zM200.0 282.3h1.2v1.2h-1.2zM216.3 282.7h1.2v1.2h-1.2zM220.5 277.4h1.2v1.2h-1.2zM223.4 275.1h1.2v1.2h-1.2zM213.1 280.1h1.2v1.2h-1.2zM204.8 277.4h1.2v1.2h-1.2zM212.9 280.3h1.2v1.2h-1.2zM215.4 283.3h1.2v1.2h-1.2zM223.0 277.1h1.2v1.2h-1.2zM213.1 279.2h1.2v1.2h-1.2zM222.0 281.8h1.2v1.2h-1.2zM212.3 276.9h1.2v1.2h-1.2zM197.9 283.0h1.2v1.2h-1.2zM201.3 281.0h1.2v1.2h-1.2zM206.5 275.2h1.2v1.2h-1.2zM213.4 280.4h1.2v1.2h-1.2zM217.5 281.8h1.2v1.2h-1.2zM226.2 275.7h1.2v1.2h-1.2zM205.7 278.2h1.2v1.2h-1.2zM217.6 278.1h1.2v1.2h-1.2zM230.0 280.3h1.2v1.2h-1.2zM229.0 283.1h1.2v1.2h-1.2zM221.9 281.7h1.2v1.2h-1.2zM217.1 280.9h1.2v1.2h-1.2zM225.3 279.2h1.2v1.2h-1.2zM228.1 281.0h1.2v1.2h-1.2zM217.5 280.4h1.2v1.2h-1.2zM236.5 280.7h1.2v1.2h-1.2zM201.9 283.4h1.2v1.2h-1.2zM216.5 282.9h1.2v1.2h-1.2zM217.8 278.8h1.2v1.2h-1.2zM209.6 274.4h1.2v1.2h-1.2zM211.3 274.7h1.2v1.2h-1.2zM218.1 280.3h1.2v1.2h-1.2zM215.4 283.6h1.2v1.2h-1.2zM206.8 278.2h1.2v1.2h-1.2zM228.7 283.8h1.2v1.2h-1.2zM212.1 279.9h1.2v1.2h-1.2zM217.2 281.2h1.2v1.2h-1.2zM203.8 281.9h1.2v1.2h-1.2zM221.6 277.2h1.2v1.2h-1.2zM218.7 280.5h1.2v1.2h-1.2zM214.3 280.4h1.2v1.2h-1.2zM193.0 276.9h1.2v1.2h-1.2zM208.8 278.7h1.2v1.2h-1.2zM213.6 281.0h1.2v1.2h-1.2zM223.0 278.6h1.2v1.2h-1.2zM211.4 279.6h1.2v1.2h-1.2zM238.3 281.9h1.2v1.2h-1.2zM231.5 279.3h1.2v1.2h-1.2zM211.4 277.1h1.2v1.2h-1.2zM232.2 283.5h1.2v1.2h-1.2zM211.4 279.6h1.2v1.2h-1.2zM219.0 281.4h1.2v1.2h-1.2zM210.4 276.7h1.2v1.2h-1.2zM206.8 279.8h1.2v1.2h-1.2zM234.1 282.4h1.2v1.2h-1.2zM213.0 281.9h1.2v1.2h-1.2zM244.0 283.5h1.2v1.2h-1.2zM229.5 282.6h1.2v1.2h-1.2zM245.9 282.3h1.2v1.2h-1.2zM187.5 280.1h1.2v1.2h-1.2zM214.4 283.1h1.2v1.2h-1.2zM226.4 274.3h1.2v1.2h-1.2zM193.9 283.2h1.2v1.2h-1.2zM211.9 280.0h1.2v1.2h-1.2zM218.4 280.9h1.2v1.2h-1.2zM220.4 278.9h1.2v1.2h-1.2zM230.2 281.0h1.2v1.2h-1.2zM220.3 277.8h1.2v1.2h-1.2zM217.5 281.5h1.2v1.2h-1.2zM217.8 280.8h1.2v1.2h-1.2zM253.6 283.0h1.2v1.2h-1.2zM211.5 277.4h1.2v1.2h-1.2zM209.5 274.9h1.2v1.2h-1.2zM209.9 281.5h1.2v1.2h-1.2zM228.8 283.9h1.2v1.2h-1.2zM230.4 282.7h1.2v1.2h-1.2zM228.2 278.3h1.2v1.2h-1.2zM211.7 280.1h1.2v1.2h-1.2zM219.6 279.0h1.2v1.2h-1.2zM215.3 280.2h1.2v1.2h-1.2zM215.4 283.3h1.2v1.2h-1.2zM210.0 280.2h1.2v1.2h-1.2zM222.4 276.7h1.2v1.2h-1.2zM215.7 283.4h1.2v1.2h-1.2zM199.2 282.9h1.2v1.2h-1.2zM220.1 278.7h1.2v1.2h-1.2zM231.3 283.4h1.2v1.2h-1.2zM216.4 282.5h1.2v1.2h-1.2zM215.0 282.3h1.2v1.2h-1.2zM220.8 278.0h1.2v1.2h-1.2zM218.7 281.4h1.2v1.2h-1.2zM217.6 281.3h1.2v1.2h-1.2zM204.9 281.8h1.2v1.2h-1.2zM213.1 280.6h1.2v1.2h-1.2zM159.8 281.0h1.2v1.2h-1.2zM220.1 277.5h1.2v1.2h-1.2zM202.2 279.8h1.2v1.2h-1.2zM209.9 274.2h1.2v1.2h-1.2zM210.7 274.8h1.2v1.2h-1.2zM205.3 278.4h1.2v1.2h-1.2zM209.7 278.0h1.2v1.2h-1.2zM229.3 279.8h1.2v1.2h-1.2zM221.0 277.5h1.2v1.2h-1.2zM217.7 279.9h1.2v1.2h-1.2zM202.9 284.0h1.2v1.2h-1.2zM217.6 283.4h1.2v1.2h-1.2zM230.1 282.2h1.2v1.2h-1.2zM213.4 279.2h1.2v1.2h-1.2zM203.8 282.8h1.2v1.2h-1.2zM228.0 283.9h1.2v1.2h-1.2zM222.9 279.2h1.2v1.2h-1.2zM263.3 282.7h1.2v1.2h-1.2zM213.2 279.3h1.2v1.2h-1.2zM217.5 282.4h1.2v1.2h-1.2zM218.5 281.8h1.2v1.2h-1.2zM205.2 276.1h1.2v1.2h-1.2zM210.4 276.2h1.2v1.2h-1.2zM204.5 274.7h1.2v1.2h-1.2zM221.9 276.0h1.2v1.2h-1.2zM218.9 277.4h1.2v1.2h-1.2zM219.1 279.5h1.2v1.2h-1.2zM230.9 278.5h1.2v1.2h-1.2zM222.1 277.3h1.2v1.2h-1.2zM217.2 281.5h1.2v1.2h-1.2zM203.6 283.7h1.2v1.2h-1.2zM216.5 282.9h1.2v1.2h-1.2zM204.9 274.7h1.2v1.2h-1.2zM239.0 280.1h1.2v1.2h-1.2zM209.4 275.7h1.2v1.2h-1.2zM229.9 278.4h1.2v1.2h-1.2zM209.9 280.3h1.2v1.2h-1.2zM217.9 279.6h1.2v1.2h-1.2zM207.7 274.6h1.2v1.2h-1.2zM212.0 281.5h1.2v1.2h-1.2zM208.4 274.3h1.2v1.2h-1.2zM215.4 283.1h1.2v1.2h-1.2zM202.2 282.6h1.2v1.2h-1.2zM213.6 279.1h1.2v1.2h-1.2zM205.4 276.0h1.2v1.2h-1.2zM204.8 275.4h1.2v1.2h-1.2zM196.0 278.1h1.2v1.2h-1.2zM201.3 279.8h1.2v1.2h-1.2zM211.6 278.7h1.2v1.2h-1.2zM226.3 276.9h1.2v1.2h-1.2zM215.5 282.8h1.2v1.2h-1.2zM203.2 281.5h1.2v1.2h-1.2zM212.8 279.7h1.2v1.2h-1.2zM215.3 281.9h1.2v1.2h-1.2zM203.6 281.7h1.2v1.2h-1.2zM209.1 278.6h1.2v1.2h-1.2zM225.1 275.3h1.2v1.2h-1.2zM210.7 279.3h1.2v1.2h-1.2zM239.4 280.5h1.2v1.2h-1.2zM203.8 279.4h1.2v1.2h-1.2zM234.8 283.5h1.2v1.2h-1.2zM219.2 279.8h1.2v1.2h-1.2zM207.7 276.7h1.2v1.2h-1.2zM218.9 275.6h1.2v1.2h-1.2zM225.5 280.4h1.2v1.2h-1.2zM208.8 276.9h1.2v1.2h-1.2zM187.4 281.2h1.2v1.2h-1.2zM211.1 279.6h1.2v1.2h-1.2zM202.9 280.5h1.2v1.2h-1.2zM216.0 283.9h1.2v1.2h-1.2zM221.9 276.4h1.2v1.2h-1.2zM208.2 276.8h1.2v1.2h-1.2zM225.8 277.6h1.2v1.2h-1.2zM217.6 282.3h1.2v1.2h-1.2zM216.0 281.6h1.2v1.2h-1.2zM259.3 281.2h1.2v1.2h-1.2zM216.0 283.7h1.2v1.2h-1.2zM205.9 277.4h1.2v1.2h-1.2zM208.4 282.7h1.2v1.2h-1.2zM208.9 280.9h1.2v1.2h-1.2zM196.9 282.1h1.2v1.2h-1.2zM214.8 281.3h1.2v1.2h-1.2zM220.2 278.0h1.2v1.2h-1.2zM238.6 279.7h1.2v1.2h-1.2zM221.0 281.3h1.2v1.2h-1.2zM213.0 282.2h1.2v1.2h-1.2zM211.9 278.6h1.2v1.2h-1.2zM211.8 283.0h1.2v1.2h-1.2zM204.3 274.3h1.2v1.2h-1.2zM218.9 281.6h1.2v1.2h-1.2zM206.9 280.4h1.2v1.2h-1.2zM206.9 275.7h1.2v1.2h-1.2zM226.7 278.2h1.2v1.2h-1.2zM222.5 276.7h1.2v1.2h-1.2zM210.0 278.0h1.2v1.2h-1.2zM229.6 280.7h1.2v1.2h-1.2zM212.1 279.4h1.2v1.2h-1.2zM218.1 280.5h1.2v1.2h-1.2zM216.6 282.2h1.2v1.2h-1.2zM223.2 278.4h1.2v1.2h-1.2zM235.8 280.4h1.2v1.2h-1.2zM215.3 281.2h1.2v1.2h-1.2zM230.1 283.8h1.2v1.2h-1.2zM208.7 276.8h1.2v1.2h-1.2zM218.2 282.3h1.2v1.2h-1.2zM209.4 278.4h1.2v1.2h-1.2zM213.6 281.0h1.2v1.2h-1.2zM213.8 280.8h1.2v1.2h-1.2zM233.8 277.1h1.2v1.2h-1.2zM233.2 282.7h1.2v1.2h-1.2zM223.4 276.4h1.2v1.2h-1.2zM209.3 277.9h1.2v1.2h-1.2zM217.2 280.8h1.2v1.2h-1.2zM215.4 282.7h1.2v1.2h-1.2zM218.1 280.2h1.2v1.2h-1.2zM217.6 278.4h1.2v1.2h-1.2zM216.2 283.1h1.2v1.2h-1.2zM218.7 279.8h1.2v1.2h-1.2zM226.1 274.4h1.2v1.2h-1.2zM249.2 280.2h1.2v1.2h-1.2zM212.6 279.1h1.2v1.2h-1.2zM221.1 275.8h1.2v1.2h-1.2zM227.4 276.2h1.2v1.2h-1.2zM224.3 277.7h1.2v1.2h-1.2zM208.0 279.4h1.2v1.2h-1.2zM211.5 279.8h1.2v1.2h-1.2zM204.1 278.7h1.2v1.2h-1.2zM210.3 275.6h1.2v1.2h-1.2zM215.3 281.6h1.2v1.2h-1.2zM207.2 281.4h1.2v1.2h-1.2zM231.2 274.6h1.2v1.2h-1.2zM211.6 278.6h1.2v1.2h-1.2zM233.3 282.7h1.2v1.2h-1.2zM225.4 282.4h1.2v1.2h-1.2zM219.4 277.6h1.2v1.2h-1.2zM203.5 280.2h1.2v1.2h-1.2zM211.8 278.1h1.2v1.2h-1.2zM213.2 280.7h1.2v1.2h-1.2zM213.2 282.1h1.2v1.2h-1.2zM217.7 281.2h1.2v1.2h-1.2zM220.2 277.8h1.2v1.2h-1.2zM227.5 276.3h1.2v1.2h-1.2zM238.2 283.1h1.2v1.2h-1.2zM210.3 276.5h1.2v1.2h-1.2zM210.3 274.6h1.2v1.2h-1.2zM219.9 276.1h1.2v1.2h-1.2zM209.5 275.9h1.2v1.2h-1.2zM207.8 279.3h1.2v1.2h-1.2zM221.4 279.3h1.2v1.2h-1.2zM221.2 277.2h1.2v1.2h-1.2zM215.7 282.9h1.2v1.2h-1.2zM202.0 283.2h1.2v1.2h-1.2zM213.9 281.2h1.2v1.2h-1.2zM214.5 281.3h1.2v1.2h-1.2zM214.2 281.2h1.2v1.2h-1.2zM211.1 281.6h1.2v1.2h-1.2zM234.3 282.2h1.2v1.2h-1.2zM216.3 282.4h1.2v1.2h-1.2zM218.9 277.7h1.2v1.2h-1.2zM211.0 279.0h1.2v1.2h-1.2zM220.4 277.5h1.2v1.2h-1.2zM255.5 281.4h1.2v1.2h-1.2zM218.4 280.1h1.2v1.2h-1.2zM214.2 280.5h1.2v1.2h-1.2zM216.2 282.8h1.2v1.2h-1.2zM220.5 277.7h1.2v1.2h-1.2zM213.3 280.9h1.2v1.2h-1.2zM221.0 279.2h1.2v1.2h-1.2zM210.2 275.9h1.2v1.2h-1.2zM212.3 281.5h1.2v1.2h-1.2zM220.9 277.1h1.2v1.2h-1.2zM204.5 278.0h1.2v1.2h-1.2zM214.0 280.0h1.2v1.2h-1.2zM189.8 282.4h1.2v1.2h-1.2zM201.9 281.1h1.2v1.2h-1.2zM234.1 281.9h1.2v1.2h-1.2zM213.9 281.1h1.2v1.2h-1.2zM213.3 281.4h1.2v1.2h-1.2zM227.9 281.6h1.2v1.2h-1.2zM217.2 279.0h1.2v1.2h-1.2zM221.2 280.1h1.2v1.2h-1.2zM246.3 282.4h1.2v1.2h-1.2zM231.1 282.6h1.2v1.2h-1.2zM217.1 281.1h1.2v1.2h-1.2zM197.5 282.9h1.2v1.2h-1.2zM258.8 281.3h1.2v1.2h-1.2zM221.2 275.6h1.2v1.2h-1.2zM216.9 282.0h1.2v1.2h-1.2zM212.4 278.3h1.2v1.2h-1.2zM229.6 282.6h1.2v1.2h-1.2zM250.5 276.9h1.2v1.2h-1.2zM205.4 274.3h1.2v1.2h-1.2zM223.3 274.5h1.2v1.2h-1.2zM226.4 275.5h1.2v1.2h-1.2zM219.7 279.9h1.2v1.2h-1.2zM218.2 282.3h1.2v1.2h-1.2zM220.1 281.5h1.2v1.2h-1.2zM201.7 283.1h1.2v1.2h-1.2zM204.3 276.2h1.2v1.2h-1.2zM214.3 280.9h1.2v1.2h-1.2zM196.5 283.5h1.2v1.2h-1.2zM218.7 277.7h1.2v1.2h-1.2zM222.6 276.1h1.2v1.2h-1.2zM218.2 278.9h1.2v1.2h-1.2zM224.7 279.9h1.2v1.2h-1.2zM199.6 283.1h1.2v1.2h-1.2zM209.4 275.0h1.2v1.2h-1.2zM220.5 277.1h1.2v1.2h-1.2zM212.4 281.5h1.2v1.2h-1.2zM197.8 284.0h1.2v1.2h-1.2zM222.3 278.8h1.2v1.2h-1.2zM209.8 280.5h1.2v1.2h-1.2zM222.3 275.2h1.2v1.2h-1.2zM227.6 277.2h1.2v1.2h-1.2zM217.9 279.6h1.2v1.2h-1.2zM215.6 282.7h1.2v1.2h-1.2zM228.8 279.5h1.2v1.2h-1.2zM198.5 278.5h1.2v1.2h-1.2zM212.9 281.7h1.2v1.2h-1.2zM213.2 279.0h1.2v1.2h-1.2zM210.7 274.5h1.2v1.2h-1.2zM214.7 283.3h1.2v1.2h-1.2zM206.4 278.7h1.2v1.2h-1.2zM208.1 277.4h1.2v1.2h-1.2zM220.4 275.3h1.2v1.2h-1.2zM214.4 279.7h1.2v1.2h-1.2zM251.0 280.4h1.2v1.2h-1.2zM202.5 276.0h1.2v1.2h-1.2zM205.4 280.2h1.2v1.2h-1.2zM224.8 275.3h1.2v1.2h-1.2zM217.7 282.6h1.2v1.2h-1.2zM219.4 277.6h1.2v1.2h-1.2zM199.4 282.3h1.2v1.2h-1.2zM225.8 282.5h1.2v1.2h-1.2zM244.5 280.1h1.2v1.2h-1.2zM199.5 279.5h1.2v1.2h-1.2zM218.6 282.1h1.2v1.2h-1.2zM208.0 279.2h1.2v1.2h-1.2zM188.8 283.5h1.2v1.2h-1.2zM224.0 277.7h1.2v1.2h-1.2zM209.8 277.2h1.2v1.2h-1.2zM218.4 281.8h1.2v1.2h-1.2zM217.2 279.7h1.2v1.2h-1.2zM209.2 276.1h1.2v1.2h-1.2zM251.3 278.1h1.2v1.2h-1.2zM213.6 282.2h1.2v1.2h-1.2zM240.6 280.9h1.2v1.2h-1.2zM216.7 280.4h1.2v1.2h-1.2zM224.9 276.5h1.2v1.2h-1.2zM217.3 281.8h1.2v1.2h-1.2zM215.5 283.2h1.2v1.2h-1.2zM226.6 278.5h1.2v1.2h-1.2zM262.7 284.0h1.2v1.2h-1.2zM218.9 278.1h1.2v1.2h-1.2zM213.1 280.6h1.2v1.2h-1.2zM202.4 281.5h1.2v1.2h-1.2zM218.9 280.0h1.2v1.2h-1.2zM213.2 280.2h1.2v1.2h-1.2zM217.9 281.0h1.2v1.2h-1.2zM200.0 279.5h1.2v1.2h-1.2zM206.2 282.1h1.2v1.2h-1.2zM222.7 282.6h1.2v1.2h-1.2zM202.3 282.2h1.2v1.2h-1.2zM212.7 278.8h1.2v1.2h-1.2zM240.3 282.6h1.2v1.2h-1.2zM219.5 279.0h1.2v1.2h-1.2zM208.5 275.3h1.2v1.2h-1.2zM222.1 277.0h1.2v1.2h-1.2zM189.2 281.6h1.2v1.2h-1.2zM205.6 275.7h1.2v1.2h-1.2zM220.3 282.3h1.2v1.2h-1.2zM218.1 279.6h1.2v1.2h-1.2zM187.6 281.7h1.2v1.2h-1.2zM210.9 275.1h1.2v1.2h-1.2zM204.7 274.8h1.2v1.2h-1.2zM205.5 279.8h1.2v1.2h-1.2zM219.2 277.8h1.2v1.2h-1.2zM212.9 279.6h1.2v1.2h-1.2zM207.5 275.4h1.2v1.2h-1.2zM233.8 282.2h1.2v1.2h-1.2zM176.5 283.7h1.2v1.2h-1.2zM210.2 280.0h1.2v1.2h-1.2zM219.8 277.4h1.2v1.2h-1.2zM208.1 275.8h1.2v1.2h-1.2zM199.0 283.0h1.2v1.2h-1.2zM215.7 281.8h1.2v1.2h-1.2zM197.6 281.6h1.2v1.2h-1.2zM215.2 282.5h1.2v1.2h-1.2zM215.6 281.1h1.2v1.2h-1.2zM225.3 278.3h1.2v1.2h-1.2zM221.5 280.3h1.2v1.2h-1.2zM218.5 282.1h1.2v1.2h-1.2zM231.6 281.2h1.2v1.2h-1.2zM208.3 278.2h1.2v1.2h-1.2zM218.6 282.2h1.2v1.2h-1.2zM206.5 277.9h1.2v1.2h-1.2zM201.1 276.1h1.2v1.2h-1.2zM208.2 278.5h1.2v1.2h-1.2zM220.7 276.5h1.2v1.2h-1.2zM234.3 277.9h1.2v1.2h-1.2zM218.7 281.0h1.2v1.2h-1.2zM229.5 281.8h1.2v1.2h-1.2zM203.1 283.5h1.2v1.2h-1.2zM211.9 278.8h1.2v1.2h-1.2zM209.7 274.8h1.2v1.2h-1.2zM224.6 279.2h1.2v1.2h-1.2zM197.3 283.8h1.2v1.2h-1.2zM221.6 277.7h1.2v1.2h-1.2zM220.7 279.5h1.2v1.2h-1.2zM219.3 281.9h1.2v1.2h-1.2zM212.8 281.3h1.2v1.2h-1.2zM211.9 280.8h1.2v1.2h-1.2zM225.4 274.6h1.2v1.2h-1.2zM229.0 278.7h1.2v1.2h-1.2zM235.9 281.4h1.2v1.2h-1.2zM208.5 275.7h1.2v1.2h-1.2zM220.2 278.4h1.2v1.2h-1.2zM208.6 275.1h1.2v1.2h-1.2zM216.7 281.0h1.2v1.2h-1.2zM248.5 284.0h1.2v1.2h-1.2zM218.0 281.1h1.2v1.2h-1.2zM219.4 279.7h1.2v1.2h-1.2zM216.9 278.8h1.2v1.2h-1.2zM207.0 277.5h1.2v1.2h-1.2zM231.1 278.6h1.2v1.2h-1.2zM209.7 278.1h1.2v1.2h-1.2zM213.5 280.6h1.2v1.2h-1.2zM228.0 283.7h1.2v1.2h-1.2zM217.4 281.7h1.2v1.2h-1.2zM206.0 274.9h1.2v1.2h-1.2zM224.7 279.0h1.2v1.2h-1.2zM220.7 274.4h1.2v1.2h-1.2zM203.9 281.2h1.2v1.2h-1.2zM212.6 280.3h1.2v1.2h-1.2zM211.9 281.5h1.2v1.2h-1.2zM196.2 281.7h1.2v1.2h-1.2zM201.0 282.2h1.2v1.2h-1.2zM242.0 282.0h1.2v1.2h-1.2zM222.7 277.3h1.2v1.2h-1.2zM216.2 282.4h1.2v1.2h-1.2zM240.7 282.7h1.2v1.2h-1.2zM211.2 281.5h1.2v1.2h-1.2zM210.2 274.3h1.2v1.2h-1.2zM221.5 276.6h1.2v1.2h-1.2zM191.7 282.4h1.2v1.2h-1.2zM236.8 280.0h1.2v1.2h-1.2zM211.1 280.1h1.2v1.2h-1.2zM218.7 281.5h1.2v1.2h-1.2zM223.6 279.8h1.2v1.2h-1.2zM194.6 277.7h1.2v1.2h-1.2zM200.3 274.4h1.2v1.2h-1.2zM214.0 278.5h1.2v1.2h-1.2zM198.4 283.7h1.2v1.2h-1.2zM225.5 281.2h1.2v1.2h-1.2zM213.9 280.4h1.2v1.2h-1.2zM197.8 282.3h1.2v1.2h-1.2zM213.8 279.3h1.2v1.2h-1.2zM216.1 279.1h1.2v1.2h-1.2zM202.0 282.6h1.2v1.2h-1.2zM217.0 283.6h1.2v1.2h-1.2zM219.7 277.9h1.2v1.2h-1.2zM199.5 280.4h1.2v1.2h-1.2zM216.0 282.9h1.2v1.2h-1.2zM215.1 281.3h1.2v1.2h-1.2zM188.7 279.6h1.2v1.2h-1.2zM222.5 277.1h1.2v1.2h-1.2zM223.9 276.1h1.2v1.2h-1.2zM213.8 280.8h1.2v1.2h-1.2zM180.1 282.9h1.2v1.2h-1.2zM213.6 277.1h1.2v1.2h-1.2zM211.8 277.4h1.2v1.2h-1.2zM262.4 281.1h1.2v1.2h-1.2zM210.3 277.4h1.2v1.2h-1.2zM221.0 275.9h1.2v1.2h-1.2zM219.3 278.1h1.2v1.2h-1.2zM223.5 278.8h1.2v1.2h-1.2zM205.8 275.5h1.2v1.2h-1.2zM213.6 281.3h1.2v1.2h-1.2zM211.6 277.7h1.2v1.2h-1.2zM219.0 280.6h1.2v1.2h-1.2zM217.9 280.5h1.2v1.2h-1.2zM177.0 275.3h1.2v1.2h-1.2zM215.8 281.0h1.2v1.2h-1.2zM214.6 281.9h1.2v1.2h-1.2zM229.3 283.2h1.2v1.2h-1.2zM214.9 282.3h1.2v1.2h-1.2zM218.7 280.9h1.2v1.2h-1.2zM213.6 282.1h1.2v1.2h-1.2zM208.9 280.1h1.2v1.2h-1.2zM209.3 278.0h1.2v1.2h-1.2zM214.9 281.7h1.2v1.2h-1.2zM227.6 282.4h1.2v1.2h-1.2zM194.7 278.5h1.2v1.2h-1.2zM216.4 282.4h1.2v1.2h-1.2zM217.0 281.4h1.2v1.2h-1.2zM208.0 274.8h1.2v1.2h-1.2zM196.2 280.8h1.2v1.2h-1.2zM223.9 277.8h1.2v1.2h-1.2zM216.1 282.7h1.2v1.2h-1.2zM217.1 282.8h1.2v1.2h-1.2zM200.3 278.8h1.2v1.2h-1.2zM217.3 279.5h1.2v1.2h-1.2zM215.5 281.8h1.2v1.2h-1.2zM216.0 280.3h1.2v1.2h-1.2zM191.9 282.2h1.2v1.2h-1.2zM223.4 279.5h1.2v1.2h-1.2zM207.3 281.7h1.2v1.2h-1.2zM219.2 280.9h1.2v1.2h-1.2zM245.3 281.2h1.2v1.2h-1.2zM221.7 280.1h1.2v1.2h-1.2zM203.8 282.9h1.2v1.2h-1.2zM223.1 278.9h1.2v1.2h-1.2zM218.5 279.7h1.2v1.2h-1.2zM221.2 274.7h1.2v1.2h-1.2zM245.7 282.1h1.2v1.2h-1.2zM217.0 282.8h1.2v1.2h-1.2zM203.2 283.8h1.2v1.2h-1.2zM230.2 282.7h1.2v1.2h-1.2zM199.1 282.1h1.2v1.2h-1.2zM227.9 281.7h1.2v1.2h-1.2zM208.2 280.4h1.2v1.2h-1.2zM201.7 279.8h1.2v1.2h-1.2zM230.6 281.3h1.2v1.2h-1.2zM201.8 281.5h1.2v1.2h-1.2zM206.9 279.2h1.2v1.2h-1.2zM239.1 279.1h1.2v1.2h-1.2zM215.7 282.6h1.2v1.2h-1.2zM227.8 279.6h1.2v1.2h-1.2zM211.9 277.7h1.2v1.2h-1.2zM216.9 282.2h1.2v1.2h-1.2zM218.2 278.4h1.2v1.2h-1.2zM188.4 283.2h1.2v1.2h-1.2zM234.6 283.6h1.2v1.2h-1.2zM220.9 275.7h1.2v1.2h-1.2zM221.9 275.9h1.2v1.2h-1.2zM202.2 283.8h1.2v1.2h-1.2zM220.1 277.0h1.2v1.2h-1.2zM211.8 279.3h1.2v1.2h-1.2zM224.9 278.8h1.2v1.2h-1.2zM208.0 277.8h1.2v1.2h-1.2zM212.1 276.8h1.2v1.2h-1.2zM223.5 274.4h1.2v1.2h-1.2zM236.5 283.2h1.2v1.2h-1.2zM204.1 279.4h1.2v1.2h-1.2zM225.5 276.9h1.2v1.2h-1.2zM205.4 274.9h1.2v1.2h-1.2zM217.9 280.9h1.2v1.2h-1.2zM212.7 280.9h1.2v1.2h-1.2zM199.5 277.6h1.2v1.2h-1.2zM214.9 280.7h1.2v1.2h-1.2zM213.1 282.9h1.2v1.2h-1.2zM208.8 277.6h1.2v1.2h-1.2zM215.1 283.1h1.2v1.2h-1.2zM218.6 281.1h1.2v1.2h-1.2zM217.2 282.3h1.2v1.2h-1.2zM212.8 279.3h1.2v1.2h-1.2zM221.1 277.4h1.2v1.2h-1.2zM213.6 280.7h1.2v1.2h-1.2zM217.2 281.0h1.2v1.2h-1.2zM222.4 275.0h1.2v1.2h-1.2zM210.5 275.0h1.2v1.2h-1.2zM218.4 283.0h1.2v1.2h-1.2zM215.1 282.9h1.2v1.2h-1.2zM219.0 280.5h1.2v1.2h-1.2zM220.3 280.8h1.2v1.2h-1.2zM209.8 279.1h1.2v1.2h-1.2zM218.7 278.8h1.2v1.2h-1.2zM259.7 283.1h1.2v1.2h-1.2zM210.7 280.2h1.2v1.2h-1.2zM214.0 279.8h1.2v1.2h-1.2zM159.2 282.9h1.2v1.2h-1.2zM213.6 280.6h1.2v1.2h-1.2zM217.8 281.0h1.2v1.2h-1.2zM209.6 277.0h1.2v1.2h-1.2zM229.2 282.2h1.2v1.2h-1.2zM226.4 275.2h1.2v1.2h-1.2zM220.2 278.3h1.2v1.2h-1.2zM235.4 281.3h1.2v1.2h-1.2zM212.6 280.3h1.2v1.2h-1.2zM221.2 277.5h1.2v1.2h-1.2zM221.3 278.4h1.2v1.2h-1.2zM229.9 282.3h1.2v1.2h-1.2zM196.1 281.4h1.2v1.2h-1.2zM210.3 277.8h1.2v1.2h-1.2zM212.1 278.5h1.2v1.2h-1.2zM212.0 280.2h1.2v1.2h-1.2zM210.4 277.2h1.2v1.2h-1.2zM211.5 278.3h1.2v1.2h-1.2zM219.9 277.0h1.2v1.2h-1.2zM197.6 281.0h1.2v1.2h-1.2zM218.1 278.5h1.2v1.2h-1.2zM216.2 281.9h1.2v1.2h-1.2zM205.1 275.0h1.2v1.2h-1.2zM219.1 279.7h1.2v1.2h-1.2zM222.6 279.0h1.2v1.2h-1.2zM216.9 280.4h1.2v1.2h-1.2zM214.3 282.7h1.2v1.2h-1.2zM203.3 283.6h1.2v1.2h-1.2zM214.6 281.7h1.2v1.2h-1.2zM213.1 279.2h1.2v1.2h-1.2zM215.3 279.9h1.2v1.2h-1.2zM222.7 274.5h1.2v1.2h-1.2zM242.4 277.1h1.2v1.2h-1.2zM223.7 275.0h1.2v1.2h-1.2zM220.0 280.8h1.2v1.2h-1.2zM232.3 282.8h1.2v1.2h-1.2zM187.8 283.2h1.2v1.2h-1.2zM218.6 280.8h1.2v1.2h-1.2zM210.9 282.5h1.2v1.2h-1.2zM202.0 282.2h1.2v1.2h-1.2zM210.1 279.0h1.2v1.2h-1.2zM206.4 275.5h1.2v1.2h-1.2zM224.0 279.4h1.2v1.2h-1.2zM213.6 281.0h1.2v1.2h-1.2zM210.4 275.3h1.2v1.2h-1.2zM210.1 279.0h1.2v1.2h-1.2zM252.4 283.9h1.2v1.2h-1.2zM219.1 280.5h1.2v1.2h-1.2zM199.8 281.8h1.2v1.2h-1.2zM192.6 280.8h1.2v1.2h-1.2zM233.1 283.3h1.2v1.2h-1.2zM230.5 282.6h1.2v1.2h-1.2zM180.6 280.5h1.2v1.2h-1.2zM208.0 274.8h1.2v1.2h-1.2zM252.8 282.8h1.2v1.2h-1.2zM220.1 283.2h1.2v1.2h-1.2zM224.0 276.0h1.2v1.2h-1.2zM215.6 283.7h1.2v1.2h-1.2zM202.8 281.0h1.2v1.2h-1.2zM206.8 274.9h1.2v1.2h-1.2zM208.6 274.7h1.2v1.2h-1.2zM208.6 274.6h1.2v1.2h-1.2zM236.6 282.8h1.2v1.2h-1.2zM217.1 281.0h1.2v1.2h-1.2zM210.5 276.8h1.2v1.2h-1.2zM215.8 282.8h1.2v1.2h-1.2zM212.4 279.7h1.2v1.2h-1.2zM212.4 279.2h1.2v1.2h-1.2zM208.1 277.5h1.2v1.2h-1.2zM197.6 281.2h1.2v1.2h-1.2zM220.6 278.5h1.2v1.2h-1.2zM210.5 278.3h1.2v1.2h-1.2zM226.9 276.4h1.2v1.2h-1.2zM168.5 283.8h1.2v1.2h-1.2zM216.1 283.4h1.2v1.2h-1.2zM228.6 282.0h1.2v1.2h-1.2zM222.0 274.3h1.2v1.2h-1.2zM205.7 277.1h1.2v1.2h-1.2zM216.1 282.6h1.2v1.2h-1.2zM243.3 283.8h1.2v1.2h-1.2zM201.9 283.1h1.2v1.2h-1.2zM228.7 282.1h1.2v1.2h-1.2zM232.9 283.1h1.2v1.2h-1.2zM221.6 275.5h1.2v1.2h-1.2zM216.4 281.5h1.2v1.2h-1.2zM203.1 281.5h1.2v1.2h-1.2zM214.0 282.7h1.2v1.2h-1.2zM213.4 279.8h1.2v1.2h-1.2zM208.2 281.2h1.2v1.2h-1.2zM208.5 277.6h1.2v1.2h-1.2zM204.7 276.2h1.2v1.2h-1.2zM213.8 281.3h1.2v1.2h-1.2zM216.9 282.5h1.2v1.2h-1.2zM208.2 278.3h1.2v1.2h-1.2zM211.7 275.8h1.2v1.2h-1.2zM216.9 281.2h1.2v1.2h-1.2zM214.2 281.5h1.2v1.2h-1.2zM217.6 282.8h1.2v1.2h-1.2zM209.7 274.9h1.2v1.2h-1.2zM213.6 282.5h1.2v1.2h-1.2zM222.0 275.7h1.2v1.2h-1.2zM199.3 283.8h1.2v1.2h-1.2zM239.3 280.7h1.2v1.2h-1.2zM224.2 276.9h1.2v1.2h-1.2zM212.0 280.7h1.2v1.2h-1.2zM206.0 275.4h1.2v1.2h-1.2zM205.2 274.3h1.2v1.2h-1.2zM205.1 277.6h1.2v1.2h-1.2zM216.2 282.8h1.2v1.2h-1.2zM240.5 282.0h1.2v1.2h-1.2zM242.2 280.6h1.2v1.2h-1.2zM187.9 283.0h1.2v1.2h-1.2zM210.3 275.6h1.2v1.2h-1.2zM222.3 277.2h1.2v1.2h-1.2zM222.5 277.1h1.2v1.2h-1.2zM211.5 277.2h1.2v1.2h-1.2zM213.9 281.4h1.2v1.2h-1.2zM240.4 283.2h1.2v1.2h-1.2zM213.0 279.9h1.2v1.2h-1.2zM200.3 279.1h1.2v1.2h-1.2zM207.8 274.5h1.2v1.2h-1.2zM219.4 278.6h1.2v1.2h-1.2zM214.7 281.9h1.2v1.2h-1.2zM200.3 284.0h1.2v1.2h-1.2zM195.7 282.5h1.2v1.2h-1.2zM224.8 281.4h1.2v1.2h-1.2zM215.0 278.4h1.2v1.2h-1.2zM206.3 279.5h1.2v1.2h-1.2zM214.8 281.3h1.2v1.2h-1.2zM233.3 282.2h1.2v1.2h-1.2zM228.0 281.3h1.2v1.2h-1.2zM230.9 280.2h1.2v1.2h-1.2zM209.6 278.9h1.2v1.2h-1.2zM217.7 281.1h1.2v1.2h-1.2zM202.0 279.6h1.2v1.2h-1.2zM193.9 277.9h1.2v1.2h-1.2zM211.8 277.2h1.2v1.2h-1.2zM212.9 278.1h1.2v1.2h-1.2zM217.6 283.9h1.2v1.2h-1.2zM201.6 282.4h1.2v1.2h-1.2zM219.0 279.0h1.2v1.2h-1.2zM225.3 274.4h1.2v1.2h-1.2zM219.1 278.8h1.2v1.2h-1.2zM203.7 283.8h1.2v1.2h-1.2zM221.7 277.0h1.2v1.2h-1.2zM257.7 283.3h1.2v1.2h-1.2zM248.2 280.6h1.2v1.2h-1.2zM225.3 277.7h1.2v1.2h-1.2zM224.2 277.5h1.2v1.2h-1.2zM214.2 279.1h1.2v1.2h-1.2zM228.9 279.5h1.2v1.2h-1.2zM232.8 282.9h1.2v1.2h-1.2zM197.0 284.1h1.2v1.2h-1.2zM209.5 275.3h1.2v1.2h-1.2zM206.1 276.1h1.2v1.2h-1.2zM209.2 276.9h1.2v1.2h-1.2zM218.6 277.8h1.2v1.2h-1.2zM203.9 281.7h1.2v1.2h-1.2zM210.9 274.4h1.2v1.2h-1.2zM222.7 275.6h1.2v1.2h-1.2zM226.6 281.3h1.2v1.2h-1.2zM203.7 281.4h1.2v1.2h-1.2zM176.5 279.3h1.2v1.2h-1.2zM202.6 281.2h1.2v1.2h-1.2zM207.0 276.7h1.2v1.2h-1.2zM211.6 277.3h1.2v1.2h-1.2zM262.8 283.6h1.2v1.2h-1.2zM211.6 276.6h1.2v1.2h-1.2zM188.9 283.4h1.2v1.2h-1.2zM224.9 277.0h1.2v1.2h-1.2zM216.9 279.5h1.2v1.2h-1.2zM221.8 278.7h1.2v1.2h-1.2zM208.2 278.7h1.2v1.2h-1.2zM212.5 278.2h1.2v1.2h-1.2zM208.2 275.4h1.2v1.2h-1.2zM192.4 282.0h1.2v1.2h-1.2zM202.9 280.5h1.2v1.2h-1.2zM216.9 281.7h1.2v1.2h-1.2zM217.8 279.4h1.2v1.2h-1.2zM214.3 281.5h1.2v1.2h-1.2zM223.1 277.8h1.2v1.2h-1.2zM217.4 282.1h1.2v1.2h-1.2zM212.1 280.9h1.2v1.2h-1.2zM223.5 278.1h1.2v1.2h-1.2zM227.2 277.2h1.2v1.2h-1.2zM229.0 283.9h1.2v1.2h-1.2zM211.4 277.8h1.2v1.2h-1.2zM221.7 278.8h1.2v1.2h-1.2zM214.5 281.1h1.2v1.2h-1.2zM220.7 277.1h1.2v1.2h-1.2zM215.9 283.4h1.2v1.2h-1.2zM220.8 278.4h1.2v1.2h-1.2zM207.3 280.8h1.2v1.2h-1.2zM226.5 279.0h1.2v1.2h-1.2zM212.4 280.6h1.2v1.2h-1.2zM216.2 283.2h1.2v1.2h-1.2zM210.9 278.3h1.2v1.2h-1.2zM214.6 283.5h1.2v1.2h-1.2zM218.1 280.6h1.2v1.2h-1.2zM249.6 278.5h1.2v1.2h-1.2zM212.4 279.3h1.2v1.2h-1.2zM218.9 278.4h1.2v1.2h-1.2zM219.4 274.6h1.2v1.2h-1.2zM211.8 278.1h1.2v1.2h-1.2zM196.3 280.2h1.2v1.2h-1.2zM216.0 283.1h1.2v1.2h-1.2zM220.3 278.8h1.2v1.2h-1.2zM215.6 283.2h1.2v1.2h-1.2zM225.3 277.8h1.2v1.2h-1.2zM219.6 277.8h1.2v1.2h-1.2zM217.3 280.8h1.2v1.2h-1.2zM220.3 275.7h1.2v1.2h-1.2zM193.9 277.1h1.2v1.2h-1.2zM198.3 283.8h1.2v1.2h-1.2zM215.5 283.5h1.2v1.2h-1.2zM216.5 281.8h1.2v1.2h-1.2zM235.2 277.8h1.2v1.2h-1.2zM216.7 283.2h1.2v1.2h-1.2zM217.6 282.2h1.2v1.2h-1.2zM213.7 280.3h1.2v1.2h-1.2zM211.1 279.1h1.2v1.2h-1.2zM222.4 276.6h1.2v1.2h-1.2zM212.6 279.9h1.2v1.2h-1.2zM206.3 277.3h1.2v1.2h-1.2zM222.0 275.5h1.2v1.2h-1.2zM207.0 275.0h1.2v1.2h-1.2zM216.2 283.5h1.2v1.2h-1.2zM200.4 279.0h1.2v1.2h-1.2zM214.7 282.5h1.2v1.2h-1.2zM215.3 283.3h1.2v1.2h-1.2zM218.5 279.4h1.2v1.2h-1.2zM206.5 277.9h1.2v1.2h-1.2zM214.8 281.7h1.2v1.2h-1.2zM196.3 282.4h1.2v1.2h-1.2zM220.9 277.0h1.2v1.2h-1.2zM209.9 274.6h1.2v1.2h-1.2zM209.4 280.5h1.2v1.2h-1.2zM214.0 280.6h1.2v1.2h-1.2zM230.7 282.4h1.2v1.2h-1.2zM222.9 278.9h1.2v1.2h-1.2zM210.4 276.1h1.2v1.2h-1.2zM215.1 282.8h1.2v1.2h-1.2zM209.2 279.4h1.2v1.2h-1.2zM191.7 281.2h1.2v1.2h-1.2zM214.5 282.2h1.2v1.2h-1.2zM232.0 282.2h1.2v1.2h-1.2zM206.8 279.8h1.2v1.2h-1.2zM230.0 283.9h1.2v1.2h-1.2zM201.0 282.7h1.2v1.2h-1.2zM223.8 282.0h1.2v1.2h-1.2zM202.7 281.4h1.2v1.2h-1.2zM222.7 276.7h1.2v1.2h-1.2zM216.3 282.1h1.2v1.2h-1.2zM212.3 280.4h1.2v1.2h-1.2zM214.0 279.6h1.2v1.2h-1.2zM215.4 283.2h1.2v1.2h-1.2zM233.3 282.8h1.2v1.2h-1.2zM221.7 275.7h1.2v1.2h-1.2zM222.7 278.8h1.2v1.2h-1.2zM188.5 278.2h1.2v1.2h-1.2zM216.5 283.1h1.2v1.2h-1.2zM219.0 279.3h1.2v1.2h-1.2zM208.2 276.6h1.2v1.2h-1.2zM226.8 275.6h1.2v1.2h-1.2zM218.4 278.1h1.2v1.2h-1.2zM221.4 280.3h1.2v1.2h-1.2zM225.3 278.4h1.2v1.2h-1.2zM213.5 280.7h1.2v1.2h-1.2zM216.4 283.2h1.2v1.2h-1.2zM229.1 282.9h1.2v1.2h-1.2zM219.6 276.1h1.2v1.2h-1.2zM232.5 279.0h1.2v1.2h-1.2zM210.0 278.7h1.2v1.2h-1.2zM242.6 280.2h1.2v1.2h-1.2zM220.9 279.0h1.2v1.2h-1.2zM213.9 281.3h1.2v1.2h-1.2zM225.9 276.6h1.2v1.2h-1.2zM217.8 281.9h1.2v1.2h-1.2zM208.4 278.5h1.2v1.2h-1.2zM228.9 278.6h1.2v1.2h-1.2zM231.1 283.6h1.2v1.2h-1.2zM218.7 278.6h1.2v1.2h-1.2zM194.2 280.5h1.2v1.2h-1.2zM211.2 277.6h1.2v1.2h-1.2zM225.0 276.9h1.2v1.2h-1.2zM226.0 276.5h1.2v1.2h-1.2zM235.9 284.0h1.2v1.2h-1.2zM240.0 283.8h1.2v1.2h-1.2zM246.4 283.5h1.2v1.2h-1.2zM199.1 283.4h1.2v1.2h-1.2zM222.0 277.0h1.2v1.2h-1.2zM210.7 281.7h1.2v1.2h-1.2zM207.3 274.7h1.2v1.2h-1.2zM223.5 276.5h1.2v1.2h-1.2zM228.6 282.7h1.2v1.2h-1.2zM220.4 279.4h1.2v1.2h-1.2zM209.5 277.7h1.2v1.2h-1.2zM240.0 281.6h1.2v1.2h-1.2zM215.3 279.2h1.2v1.2h-1.2zM213.3 280.6h1.2v1.2h-1.2zM212.1 279.4h1.2v1.2h-1.2zM224.0 274.6h1.2v1.2h-1.2zM228.7 280.8h1.2v1.2h-1.2zM219.8 280.1h1.2v1.2h-1.2zM234.3 280.4h1.2v1.2h-1.2zM220.7 278.5h1.2v1.2h-1.2zM224.6 275.5h1.2v1.2h-1.2zM218.8 279.7h1.2v1.2h-1.2zM228.0 282.8h1.2v1.2h-1.2zM227.0 275.0h1.2v1.2h-1.2zM211.3 278.0h1.2v1.2h-1.2zM211.8 281.0h1.2v1.2h-1.2zM227.1 280.3h1.2v1.2h-1.2zM219.9 275.5h1.2v1.2h-1.2zM217.4 281.0h1.2v1.2h-1.2zM226.6 282.5h1.2v1.2h-1.2zM216.7 281.7h1.2v1.2h-1.2zM177.3 277.8h1.2v1.2h-1.2zM211.3 277.4h1.2v1.2h-1.2zM196.3 281.7h1.2v1.2h-1.2zM219.3 277.9h1.2v1.2h-1.2zM221.9 278.2h1.2v1.2h-1.2zM238.8 283.8h1.2v1.2h-1.2zM220.8 275.9h1.2v1.2h-1.2zM209.2 274.3h1.2v1.2h-1.2zM228.6 279.4h1.2v1.2h-1.2zM231.5 283.7h1.2v1.2h-1.2zM225.0 278.1h1.2v1.2h-1.2zM206.3 274.4h1.2v1.2h-1.2zM215.6 283.7h1.2v1.2h-1.2zM220.8 281.2h1.2v1.2h-1.2zM218.5 282.8h1.2v1.2h-1.2zM198.3 282.2h1.2v1.2h-1.2zM201.6 282.9h1.2v1.2h-1.2zM222.9 282.0h1.2v1.2h-1.2zM213.4 281.6h1.2v1.2h-1.2zM212.3 278.3h1.2v1.2h-1.2zM217.8 281.5h1.2v1.2h-1.2zM229.8 281.9h1.2v1.2h-1.2zM199.7 284.0h1.2v1.2h-1.2zM208.8 279.4h1.2v1.2h-1.2zM219.1 278.0h1.2v1.2h-1.2zM232.3 278.2h1.2v1.2h-1.2zM220.6 274.4h1.2v1.2h-1.2zM239.6 278.4h1.2v1.2h-1.2zM219.4 278.2h1.2v1.2h-1.2zM227.3 274.2h1.2v1.2h-1.2zM210.3 278.8h1.2v1.2h-1.2zM231.0 281.3h1.2v1.2h-1.2zM209.6 279.2h1.2v1.2h-1.2zM218.0 278.9h1.2v1.2h-1.2zM224.9 280.7h1.2v1.2h-1.2zM210.7 280.4h1.2v1.2h-1.2zM211.5 278.2h1.2v1.2h-1.2zM218.6 276.3h1.2v1.2h-1.2zM210.0 277.3h1.2v1.2h-1.2zM214.2 282.0h1.2v1.2h-1.2zM221.9 276.5h1.2v1.2h-1.2zM213.2 278.3h1.2v1.2h-1.2zM225.1 278.4h1.2v1.2h-1.2zM210.1 281.0h1.2v1.2h-1.2zM216.9 281.9h1.2v1.2h-1.2zM212.4 276.8h1.2v1.2h-1.2zM212.6 278.2h1.2v1.2h-1.2zM181.8 283.8h1.2v1.2h-1.2zM214.8 281.8h1.2v1.2h-1.2zM221.5 278.7h1.2v1.2h-1.2zM175.8 282.7h1.2v1.2h-1.2zM208.1 279.0h1.2v1.2h-1.2zM213.0 279.5h1.2v1.2h-1.2zM231.2 277.8h1.2v1.2h-1.2zM200.4 283.3h1.2v1.2h-1.2zM207.4 275.5h1.2v1.2h-1.2zM210.2 277.9h1.2v1.2h-1.2zM223.9 275.3h1.2v1.2h-1.2zM255.1 283.5h1.2v1.2h-1.2zM225.2 275.1h1.2v1.2h-1.2zM222.2 275.0h1.2v1.2h-1.2zM198.4 283.0h1.2v1.2h-1.2zM223.3 275.3h1.2v1.2h-1.2zM227.8 283.0h1.2v1.2h-1.2zM232.7 282.7h1.2v1.2h-1.2zM223.4 276.5h1.2v1.2h-1.2zM243.3 281.9h1.2v1.2h-1.2zM222.4 274.5h1.2v1.2h-1.2zM214.9 281.2h1.2v1.2h-1.2zM208.7 278.0h1.2v1.2h-1.2zM217.6 282.5h1.2v1.2h-1.2zM195.6 283.8h1.2v1.2h-1.2zM220.5 278.7h1.2v1.2h-1.2zM207.3 274.5h1.2v1.2h-1.2zM206.2 276.3h1.2v1.2h-1.2zM213.6 281.9h1.2v1.2h-1.2zM208.9 274.5h1.2v1.2h-1.2zM205.6 278.8h1.2v1.2h-1.2zM214.3 280.5h1.2v1.2h-1.2zM217.9 280.0h1.2v1.2h-1.2zM210.4 276.8h1.2v1.2h-1.2zM227.6 279.6h1.2v1.2h-1.2zM215.2 280.2h1.2v1.2h-1.2zM225.3 276.0h1.2v1.2h-1.2zM216.4 283.1h1.2v1.2h-1.2zM214.7 282.4h1.2v1.2h-1.2zM212.8 279.1h1.2v1.2h-1.2zM229.2 277.3h1.2v1.2h-1.2zM193.3 282.3h1.2v1.2h-1.2zM208.2 276.5h1.2v1.2h-1.2zM213.7 279.8h1.2v1.2h-1.2zM211.9 277.6h1.2v1.2h-1.2zM217.9 281.3h1.2v1.2h-1.2zM218.3 281.0h1.2v1.2h-1.2zM208.5 275.9h1.2v1.2h-1.2zM208.0 277.1h1.2v1.2h-1.2zM228.7 283.8h1.2v1.2h-1.2zM190.5 283.9h1.2v1.2h-1.2zM217.4 278.1h1.2v1.2h-1.2zM215.0 283.0h1.2v1.2h-1.2zM214.7 282.8h1.2v1.2h-1.2zM216.5 281.4h1.2v1.2h-1.2zM229.0 283.3h1.2v1.2h-1.2zM203.2 281.6h1.2v1.2h-1.2zM208.3 276.8h1.2v1.2h-1.2zM228.1 282.0h1.2v1.2h-1.2zM197.1 279.3h1.2v1.2h-1.2zM181.5 276.7h1.2v1.2h-1.2zM191.1 278.0h1.2v1.2h-1.2zM203.4 279.8h1.2v1.2h-1.2zM213.4 277.7h1.2v1.2h-1.2zM205.4 280.1h1.2v1.2h-1.2zM236.0 281.5h1.2v1.2h-1.2zM204.5 277.8h1.2v1.2h-1.2zM229.6 283.7h1.2v1.2h-1.2zM224.6 276.1h1.2v1.2h-1.2zM225.6 280.4h1.2v1.2h-1.2zM222.6 279.8h1.2v1.2h-1.2zM205.5 277.2h1.2v1.2h-1.2zM221.6 275.3h1.2v1.2h-1.2zM199.6 283.5h1.2v1.2h-1.2zM207.1 276.2h1.2v1.2h-1.2zM213.8 279.7h1.2v1.2h-1.2zM245.9 282.5h1.2v1.2h-1.2zM234.7 281.5h1.2v1.2h-1.2zM213.7 279.6h1.2v1.2h-1.2zM197.8 282.2h1.2v1.2h-1.2zM201.3 280.8h1.2v1.2h-1.2zM223.0 280.0h1.2v1.2h-1.2zM211.4 280.6h1.2v1.2h-1.2zM213.8 278.1h1.2v1.2h-1.2zM184.4 279.4h1.2v1.2h-1.2zM224.6 277.8h1.2v1.2h-1.2zM243.4 280.9h1.2v1.2h-1.2zM204.8 275.8h1.2v1.2h-1.2zM201.6 278.7h1.2v1.2h-1.2zM217.7 281.1h1.2v1.2h-1.2zM204.9 275.7h1.2v1.2h-1.2zM260.1 284.1h1.2v1.2h-1.2zM211.3 279.5h1.2v1.2h-1.2zM215.1 281.8h1.2v1.2h-1.2zM213.3 281.2h1.2v1.2h-1.2zM215.5 283.1h1.2v1.2h-1.2zM189.8 283.7h1.2v1.2h-1.2zM203.9 278.4h1.2v1.2h-1.2zM213.6 278.8h1.2v1.2h-1.2zM210.5 275.4h1.2v1.2h-1.2zM212.9 278.9h1.2v1.2h-1.2zM218.2 278.2h1.2v1.2h-1.2zM242.6 281.6h1.2v1.2h-1.2zM230.8 278.8h1.2v1.2h-1.2zM209.7 276.4h1.2v1.2h-1.2zM194.3 281.1h1.2v1.2h-1.2zM228.9 281.3h1.2v1.2h-1.2zM203.6 277.3h1.2v1.2h-1.2zM210.6 275.2h1.2v1.2h-1.2zM212.1 277.4h1.2v1.2h-1.2zM207.6 277.1h1.2v1.2h-1.2zM221.1 275.7h1.2v1.2h-1.2zM210.0 281.4h1.2v1.2h-1.2zM226.9 275.0h1.2v1.2h-1.2zM212.3 281.7h1.2v1.2h-1.2zM195.0 283.0h1.2v1.2h-1.2zM215.9 283.1h1.2v1.2h-1.2zM218.9 279.2h1.2v1.2h-1.2zM214.0 281.1h1.2v1.2h-1.2zM235.5 282.3h1.2v1.2h-1.2zM218.6 280.1h1.2v1.2h-1.2zM216.3 282.1h1.2v1.2h-1.2zM189.3 280.6h1.2v1.2h-1.2zM228.6 283.8h1.2v1.2h-1.2zM220.0 278.6h1.2v1.2h-1.2zM215.2 283.2h1.2v1.2h-1.2zM200.3 282.0h1.2v1.2h-1.2zM210.9 276.9h1.2v1.2h-1.2zM232.1 283.2h1.2v1.2h-1.2zM212.2 278.0h1.2v1.2h-1.2zM224.1 276.6h1.2v1.2h-1.2zM217.1 281.0h1.2v1.2h-1.2zM211.1 278.6h1.2v1.2h-1.2zM203.2 281.8h1.2v1.2h-1.2zM176.2 283.3h1.2v1.2h-1.2zM221.7 278.2h1.2v1.2h-1.2zM224.0 278.2h1.2v1.2h-1.2zM209.4 277.9h1.2v1.2h-1.2zM206.7 281.1h1.2v1.2h-1.2zM226.7 280.8h1.2v1.2h-1.2zM217.0 281.4h1.2v1.2h-1.2zM193.4 276.6h1.2v1.2h-1.2zM202.9 281.8h1.2v1.2h-1.2zM219.4 280.1h1.2v1.2h-1.2zM224.0 274.8h1.2v1.2h-1.2zM238.6 281.8h1.2v1.2h-1.2zM208.0 277.2h1.2v1.2h-1.2zM198.4 280.2h1.2v1.2h-1.2zM203.4 280.9h1.2v1.2h-1.2zM215.4 283.5h1.2v1.2h-1.2zM219.4 280.5h1.2v1.2h-1.2zM205.0 281.3h1.2v1.2h-1.2zM218.0 282.1h1.2v1.2h-1.2zM228.8 281.9h1.2v1.2h-1.2zM202.7 283.5h1.2v1.2h-1.2zM218.1 282.7h1.2v1.2h-1.2zM212.4 278.0h1.2v1.2h-1.2zM202.6 280.5h1.2v1.2h-1.2zM214.0 280.7h1.2v1.2h-1.2zM224.9 277.8h1.2v1.2h-1.2zM203.6 280.5h1.2v1.2h-1.2zM203.7 284.0h1.2v1.2h-1.2zM209.0 276.3h1.2v1.2h-1.2zM201.2 281.6h1.2v1.2h-1.2zM236.6 282.1h1.2v1.2h-1.2zM217.3 283.0h1.2v1.2h-1.2zM210.3 280.6h1.2v1.2h-1.2zM201.9 279.2h1.2v1.2h-1.2zM206.4 280.8h1.2v1.2h-1.2zM234.6 281.5h1.2v1.2h-1.2zM200.7 282.9h1.2v1.2h-1.2zM218.3 280.8h1.2v1.2h-1.2zM218.2 280.2h1.2v1.2h-1.2zM222.4 275.4h1.2v1.2h-1.2zM220.3 279.4h1.2v1.2h-1.2zM222.7 277.4h1.2v1.2h-1.2zM216.2 282.4h1.2v1.2h-1.2zM219.3 276.6h1.2v1.2h-1.2zM245.2 282.3h1.2v1.2h-1.2zM215.0 282.1h1.2v1.2h-1.2zM222.2 275.9h1.2v1.2h-1.2zM214.1 281.6h1.2v1.2h-1.2zM211.9 276.5h1.2v1.2h-1.2zM235.4 284.1h1.2v1.2h-1.2zM216.4 282.9h1.2v1.2h-1.2zM207.5 276.1h1.2v1.2h-1.2zM220.6 280.5h1.2v1.2h-1.2zM218.1 280.1h1.2v1.2h-1.2zM215.8 282.5h1.2v1.2h-1.2zM212.5 278.4h1.2v1.2h-1.2zM213.8 280.0h1.2v1.2h-1.2zM226.5 279.9h1.2v1.2h-1.2zM219.2 279.4h1.2v1.2h-1.2zM212.1 279.2h1.2v1.2h-1.2zM209.0 281.0h1.2v1.2h-1.2zM219.7 278.9h1.2v1.2h-1.2zM207.3 276.0h1.2v1.2h-1.2zM214.0 280.4h1.2v1.2h-1.2zM222.3 274.7h1.2v1.2h-1.2zM214.3 281.7h1.2v1.2h-1.2zM236.2 279.2h1.2v1.2h-1.2zM218.1 280.9h1.2v1.2h-1.2zM217.8 279.1h1.2v1.2h-1.2zM215.7 283.9h1.2v1.2h-1.2zM195.7 274.5h1.2v1.2h-1.2zM219.2 281.0h1.2v1.2h-1.2zM216.9 282.4h1.2v1.2h-1.2zM249.8 282.2h1.2v1.2h-1.2zM216.9 282.1h1.2v1.2h-1.2zM214.3 280.3h1.2v1.2h-1.2zM218.6 280.7h1.2v1.2h-1.2zM202.2 279.9h1.2v1.2h-1.2zM220.1 277.7h1.2v1.2h-1.2zM214.2 280.5h1.2v1.2h-1.2zM207.1 275.7h1.2v1.2h-1.2zM211.3 279.4h1.2v1.2h-1.2zM220.7 278.9h1.2v1.2h-1.2zM227.3 278.6h1.2v1.2h-1.2zM220.2 280.1h1.2v1.2h-1.2zM214.7 283.1h1.2v1.2h-1.2zM227.4 279.5h1.2v1.2h-1.2zM219.8 278.8h1.2v1.2h-1.2zM212.6 279.9h1.2v1.2h-1.2zM205.8 279.0h1.2v1.2h-1.2zM213.5 281.5h1.2v1.2h-1.2zM213.1 278.8h1.2v1.2h-1.2zM213.5 278.0h1.2v1.2h-1.2zM224.7 277.3h1.2v1.2h-1.2zM194.6 279.8h1.2v1.2h-1.2zM226.3 276.5h1.2v1.2h-1.2zM210.2 280.1h1.2v1.2h-1.2zM207.8 280.7h1.2v1.2h-1.2zM212.8 281.7h1.2v1.2h-1.2zM217.2 280.7h1.2v1.2h-1.2zM205.6 275.5h1.2v1.2h-1.2zM219.7 279.5h1.2v1.2h-1.2zM213.7 281.6h1.2v1.2h-1.2zM227.7 282.3h1.2v1.2h-1.2zM216.9 282.8h1.2v1.2h-1.2zM218.1 280.2h1.2v1.2h-1.2zM216.7 282.1h1.2v1.2h-1.2zM212.1 275.8h1.2v1.2h-1.2zM220.2 281.8h1.2v1.2h-1.2zM187.7 282.9h1.2v1.2h-1.2zM213.2 282.0h1.2v1.2h-1.2zM214.6 281.0h1.2v1.2h-1.2zM207.3 278.8h1.2v1.2h-1.2zM206.1 279.6h1.2v1.2h-1.2zM223.3 278.7h1.2v1.2h-1.2zM203.0 283.8h1.2v1.2h-1.2zM227.7 281.8h1.2v1.2h-1.2zM225.6 276.0h1.2v1.2h-1.2zM214.3 282.5h1.2v1.2h-1.2zM212.2 279.2h1.2v1.2h-1.2zM225.4 276.5h1.2v1.2h-1.2zM230.2 281.7h1.2v1.2h-1.2zM216.1 282.2h1.2v1.2h-1.2zM215.0 279.4h1.2v1.2h-1.2zM223.8 274.2h1.2v1.2h-1.2zM234.6 281.5h1.2v1.2h-1.2zM231.6 282.5h1.2v1.2h-1.2zM216.5 279.4h1.2v1.2h-1.2zM211.7 281.9h1.2v1.2h-1.2zM192.0 282.8h1.2v1.2h-1.2zM195.1 276.7h1.2v1.2h-1.2zM218.4 277.8h1.2v1.2h-1.2zM203.4 282.1h1.2v1.2h-1.2zM214.7 283.0h1.2v1.2h-1.2z" fill="#bfbfbf"/>
<line x1="156.70" y1="185.20" x2="156.70" y2="289.30" stroke="#231f20" stroke-width="1.1" />
<line x1="156.15" y1="288.85" x2="266.50" y2="288.85" stroke="#231f20" stroke-width="1.1" />
<line x1="153.70" y1="284.70" x2="156.70" y2="284.70" stroke="#231f20" stroke-width="0.9" />
<text style="stroke:#231f20;stroke-width:0.08px" x="152.10" y="287.20" font-size="7.0" text-anchor="end" >0</text>
<line x1="153.70" y1="259.08" x2="156.70" y2="259.08" stroke="#231f20" stroke-width="0.9" />
<text style="stroke:#231f20;stroke-width:0.08px" x="152.10" y="261.58" font-size="7.0" text-anchor="end" >3</text>
<line x1="153.70" y1="233.46" x2="156.70" y2="233.46" stroke="#231f20" stroke-width="0.9" />
<text style="stroke:#231f20;stroke-width:0.08px" x="152.10" y="235.96" font-size="7.0" text-anchor="end" >6</text>
<line x1="153.70" y1="207.84" x2="156.70" y2="207.84" stroke="#231f20" stroke-width="0.9" />
<text style="stroke:#231f20;stroke-width:0.08px" x="152.10" y="210.34" font-size="7.0" text-anchor="end" >9</text>
<line x1="186.76" y1="288.85" x2="186.76" y2="292.00" stroke="#231f20" stroke-width="0.9" />
<text style="stroke:#231f20;stroke-width:0.08px" x="188.71" y="300.90" font-size="7.0" text-anchor="end" >4</text>
<line x1="179.16" y1="298.40" x2="184.16" y2="298.40" stroke="#231f20" stroke-width="0.75" />
<line x1="216.40" y1="288.85" x2="216.40" y2="292.00" stroke="#231f20" stroke-width="0.9" />
<text style="stroke:#231f20;stroke-width:0.08px" x="218.35" y="300.90" font-size="7.0" text-anchor="end" >0</text>
<line x1="246.04" y1="288.85" x2="246.04" y2="292.00" stroke="#231f20" stroke-width="0.9" />
<text style="stroke:#231f20;stroke-width:0.08px" x="247.99" y="300.90" font-size="7.0" text-anchor="end" >4</text>
<line x1="207.00" y1="185.70" x2="207.00" y2="288.80" stroke="#4a4a4a" stroke-width="1.0" stroke-dasharray="2.3 3.1 8.4 3.1 8.4 3.1 8.4 3.1 8.4 3.1 8.4 3.1 8.4 3.1 8.4 3.1 8.4 3.1 8.4 3.1 8.4 3.1"/>
<line x1="222.30" y1="185.70" x2="222.30" y2="288.80" stroke="#4a4a4a" stroke-width="1.0" stroke-dasharray="2.3 3.1 8.4 3.1 8.4 3.1 8.4 3.1 8.4 3.1 8.4 3.1 8.4 3.1 8.4 3.1 8.4 3.1 8.4 3.1 8.4 3.1"/>
<line x1="156.70" y1="273.50" x2="266.50" y2="273.50" stroke="#4a4a4a" stroke-width="1.0" stroke-dasharray="8.4 3.1"/>
<text style="stroke:#231f20;stroke-width:0.08px" x="52.50" y="313.4" font-size="7.6" textLength="65.00" lengthAdjust="spacingAndGlyphs">−log<tspan font-size="5.2" dy="1.6">2</tspan><tspan dy="-1.6"> (fold change)</tspan></text>
<text style="stroke:#231f20;stroke-width:0.08px" x="177.40" y="313.4" font-size="7.6" textLength="66.60" lengthAdjust="spacingAndGlyphs">−log<tspan font-size="5.2" dy="1.6">2</tspan><tspan dy="-1.6"> (fold change)</tspan></text>
<text transform="translate(15.4,271.2) rotate(-90)" font-size="7.8" textLength="66" lengthAdjust="spacingAndGlyphs">−log<tspan font-size="5.2" dy="1.6">10</tspan><tspan dy="-1.6"> (</tspan><tspan font-style="italic">P</tspan> adjusted)</text>
<circle cx="75.11" cy="263.27" r="0.72" fill="#f29b2c" />
<circle cx="72.38" cy="254.19" r="0.72" fill="#f29b2c" />
<circle cx="73.78" cy="272.60" r="0.72" fill="#f29b2c" />
<circle cx="75.67" cy="264.50" r="0.72" fill="#f29b2c" />
<circle cx="76.17" cy="269.76" r="0.72" fill="#f29b2c" />
<circle cx="76.60" cy="266.47" r="0.72" fill="#f29b2c" />
<circle cx="79.10" cy="269.65" r="0.72" fill="#f29b2c" />
<circle cx="77.40" cy="270.94" r="0.72" fill="#f29b2c" />
<circle cx="75.34" cy="265.57" r="0.72" fill="#f29b2c" />
<circle cx="73.54" cy="259.90" r="0.72" fill="#f29b2c" />
<circle cx="73.05" cy="254.88" r="0.72" fill="#f29b2c" />
<circle cx="70.21" cy="255.84" r="0.72" fill="#f29b2c" />
<circle cx="79.22" cy="270.62" r="0.72" fill="#f29b2c" />
<circle cx="73.34" cy="255.49" r="0.72" fill="#f29b2c" />
<circle cx="77.03" cy="270.36" r="0.72" fill="#f29b2c" />
<circle cx="76.63" cy="273.48" r="0.72" fill="#f29b2c" />
<circle cx="76.70" cy="271.02" r="0.72" fill="#f29b2c" />
<circle cx="77.51" cy="269.12" r="0.72" fill="#f29b2c" />
<circle cx="74.45" cy="270.53" r="0.72" fill="#f29b2c" />
<circle cx="77.60" cy="271.90" r="0.72" fill="#f29b2c" />
<circle cx="74.48" cy="262.25" r="0.72" fill="#f29b2c" />
<circle cx="72.70" cy="262.63" r="0.72" fill="#f29b2c" />
<circle cx="78.21" cy="272.22" r="0.72" fill="#f29b2c" />
<circle cx="73.29" cy="258.39" r="0.72" fill="#f29b2c" />
<circle cx="74.01" cy="256.91" r="0.72" fill="#f29b2c" />
<circle cx="74.07" cy="269.54" r="0.72" fill="#f29b2c" />
<circle cx="77.21" cy="269.66" r="0.72" fill="#f29b2c" />
<circle cx="76.91" cy="260.10" r="0.72" fill="#f29b2c" />
<circle cx="76.14" cy="273.25" r="0.72" fill="#f29b2c" />
<circle cx="71.01" cy="259.97" r="0.72" fill="#f29b2c" />
<circle cx="75.22" cy="267.92" r="0.72" fill="#f29b2c" />
<circle cx="77.88" cy="271.79" r="0.72" fill="#f29b2c" />
<circle cx="75.67" cy="263.91" r="0.72" fill="#f29b2c" />
<circle cx="79.13" cy="271.84" r="0.72" fill="#f29b2c" />
<circle cx="76.59" cy="270.81" r="0.72" fill="#f29b2c" />
<circle cx="72.17" cy="260.74" r="0.72" fill="#f29b2c" />
<circle cx="77.62" cy="271.79" r="0.72" fill="#f29b2c" />
<circle cx="76.43" cy="267.32" r="0.72" fill="#f29b2c" />
<circle cx="76.47" cy="262.37" r="0.72" fill="#f29b2c" />
<circle cx="75.26" cy="262.24" r="0.72" fill="#f29b2c" />
<circle cx="77.88" cy="270.79" r="0.72" fill="#f29b2c" />
<circle cx="79.15" cy="268.50" r="0.72" fill="#f29b2c" />
<circle cx="70.59" cy="256.21" r="0.72" fill="#f29b2c" />
<circle cx="73.25" cy="263.08" r="0.72" fill="#f29b2c" />
<circle cx="77.32" cy="270.16" r="0.72" fill="#f29b2c" />
<circle cx="74.16" cy="254.97" r="0.72" fill="#f29b2c" />
<circle cx="75.64" cy="268.20" r="0.72" fill="#f29b2c" />
<circle cx="77.51" cy="268.38" r="0.72" fill="#f29b2c" />
<circle cx="77.19" cy="267.76" r="0.72" fill="#f29b2c" />
<circle cx="73.44" cy="262.06" r="0.72" fill="#f29b2c" />
<circle cx="76.26" cy="268.82" r="0.72" fill="#f29b2c" />
<circle cx="76.33" cy="266.17" r="0.72" fill="#f29b2c" />
<circle cx="78.89" cy="269.95" r="0.72" fill="#f29b2c" />
<circle cx="77.40" cy="266.38" r="0.72" fill="#f29b2c" />
<circle cx="76.18" cy="269.75" r="0.72" fill="#f29b2c" />
<circle cx="64.30" cy="240.30" r="0.7" fill="#f29b2c" />
<circle cx="72.50" cy="242.40" r="0.7" fill="#f29b2c" />
<circle cx="60.40" cy="245.80" r="0.7" fill="#f29b2c" />
<circle cx="66.20" cy="252.50" r="0.7" fill="#f29b2c" />
<circle cx="73.90" cy="253.20" r="0.7" fill="#f29b2c" />
<circle cx="78.20" cy="256.40" r="0.7" fill="#f29b2c" />
<circle cx="70.00" cy="258.00" r="0.7" fill="#f29b2c" />
<circle cx="74.00" cy="260.00" r="0.7" fill="#f29b2c" />
<circle cx="77.00" cy="248.00" r="0.7" fill="#f29b2c" />
<circle cx="69.00" cy="264.00" r="0.7" fill="#f29b2c" />
<circle cx="66.00" cy="262.00" r="0.7" fill="#f29b2c" />
<circle cx="63.00" cy="268.00" r="0.7" fill="#f29b2c" />
<circle cx="71.00" cy="270.00" r="0.7" fill="#f29b2c" />
<circle cx="99.39" cy="248.31" r="0.72" fill="#2f6aab" />
<circle cx="95.52" cy="263.99" r="0.72" fill="#2f6aab" />
<circle cx="99.39" cy="252.63" r="0.72" fill="#2f6aab" />
<circle cx="100.02" cy="244.42" r="0.72" fill="#2f6aab" />
<circle cx="100.58" cy="244.65" r="0.72" fill="#2f6aab" />
<circle cx="98.95" cy="266.81" r="0.72" fill="#2f6aab" />
<circle cx="97.33" cy="260.06" r="0.72" fill="#2f6aab" />
<circle cx="102.32" cy="256.36" r="0.72" fill="#2f6aab" />
<circle cx="98.26" cy="257.72" r="0.72" fill="#2f6aab" />
<circle cx="100.13" cy="255.46" r="0.72" fill="#2f6aab" />
<circle cx="101.75" cy="254.43" r="0.72" fill="#2f6aab" />
<circle cx="97.37" cy="262.59" r="0.72" fill="#2f6aab" />
<circle cx="99.86" cy="255.18" r="0.72" fill="#2f6aab" />
<circle cx="98.53" cy="263.14" r="0.72" fill="#2f6aab" />
<circle cx="95.85" cy="271.51" r="0.72" fill="#2f6aab" />
<circle cx="98.82" cy="269.93" r="0.72" fill="#2f6aab" />
<circle cx="95.72" cy="263.82" r="0.72" fill="#2f6aab" />
<circle cx="96.93" cy="268.60" r="0.72" fill="#2f6aab" />
<circle cx="97.57" cy="266.13" r="0.72" fill="#2f6aab" />
<circle cx="97.24" cy="269.52" r="0.72" fill="#2f6aab" />
<circle cx="95.38" cy="271.33" r="0.72" fill="#2f6aab" />
<circle cx="97.61" cy="262.11" r="0.72" fill="#2f6aab" />
<circle cx="103.91" cy="243.28" r="0.72" fill="#2f6aab" />
<circle cx="100.29" cy="249.54" r="0.72" fill="#2f6aab" />
<circle cx="94.28" cy="269.28" r="0.72" fill="#2f6aab" />
<circle cx="105.71" cy="244.40" r="0.72" fill="#2f6aab" />
<circle cx="97.63" cy="265.92" r="0.72" fill="#2f6aab" />
<circle cx="93.73" cy="270.08" r="0.72" fill="#2f6aab" />
<circle cx="93.50" cy="268.02" r="0.72" fill="#2f6aab" />
<circle cx="96.43" cy="265.79" r="0.72" fill="#2f6aab" />
<circle cx="99.11" cy="267.17" r="0.72" fill="#2f6aab" />
<circle cx="105.37" cy="243.56" r="0.72" fill="#2f6aab" />
<circle cx="99.32" cy="267.94" r="0.72" fill="#2f6aab" />
<circle cx="95.58" cy="268.42" r="0.72" fill="#2f6aab" />
<circle cx="98.07" cy="263.77" r="0.72" fill="#2f6aab" />
<circle cx="94.76" cy="269.57" r="0.72" fill="#2f6aab" />
<circle cx="97.93" cy="264.46" r="0.72" fill="#2f6aab" />
<circle cx="94.44" cy="271.70" r="0.72" fill="#2f6aab" />
<circle cx="103.08" cy="244.59" r="0.72" fill="#2f6aab" />
<circle cx="100.42" cy="271.95" r="0.72" fill="#2f6aab" />
<circle cx="95.42" cy="266.26" r="0.72" fill="#2f6aab" />
<circle cx="97.26" cy="255.38" r="0.72" fill="#2f6aab" />
<circle cx="96.42" cy="269.47" r="0.72" fill="#2f6aab" />
<circle cx="98.06" cy="261.85" r="0.72" fill="#2f6aab" />
<circle cx="97.05" cy="261.15" r="0.72" fill="#2f6aab" />
<circle cx="105.63" cy="257.10" r="0.72" fill="#2f6aab" />
<circle cx="94.78" cy="267.63" r="0.72" fill="#2f6aab" />
<circle cx="107.91" cy="254.31" r="0.72" fill="#2f6aab" />
<circle cx="104.04" cy="257.68" r="0.72" fill="#2f6aab" />
<circle cx="103.89" cy="256.61" r="0.72" fill="#2f6aab" />
<circle cx="106.99" cy="255.05" r="0.72" fill="#2f6aab" />
<circle cx="108.33" cy="256.54" r="0.72" fill="#2f6aab" />
<circle cx="111.23" cy="256.96" r="0.72" fill="#2f6aab" />
<circle cx="103.75" cy="258.97" r="0.72" fill="#2f6aab" />
<circle cx="107.69" cy="256.11" r="0.72" fill="#2f6aab" />
<circle cx="99.91" cy="261.94" r="0.72" fill="#2f6aab" />
<circle cx="102.11" cy="267.15" r="0.72" fill="#2f6aab" />
<circle cx="108.57" cy="256.51" r="0.72" fill="#2f6aab" />
<circle cx="108.08" cy="253.31" r="0.72" fill="#2f6aab" />
<circle cx="96.11" cy="264.97" r="0.72" fill="#2f6aab" />
<circle cx="109.76" cy="251.50" r="0.72" fill="#2f6aab" />
<circle cx="108.19" cy="257.84" r="0.72" fill="#2f6aab" />
<circle cx="108.98" cy="252.11" r="0.72" fill="#2f6aab" />
<circle cx="101.06" cy="265.39" r="0.72" fill="#2f6aab" />
<circle cx="103.07" cy="260.58" r="0.72" fill="#2f6aab" />
<circle cx="105.37" cy="260.04" r="0.72" fill="#2f6aab" />
<circle cx="101.74" cy="264.64" r="0.72" fill="#2f6aab" />
<circle cx="111.90" cy="189.30" r="0.7" fill="#2f6aab" />
<circle cx="112.80" cy="196.90" r="0.7" fill="#2f6aab" />
<circle cx="110.00" cy="249.00" r="0.7" fill="#2f6aab" />
<circle cx="108.50" cy="265.00" r="0.7" fill="#2f6aab" />
<circle cx="106.00" cy="257.00" r="0.7" fill="#2f6aab" />
<circle cx="112.00" cy="261.00" r="0.7" fill="#2f6aab" />
<circle cx="104.00" cy="236.00" r="0.7" fill="#2f6aab" />
<circle cx="204.08" cy="265.91" r="0.72" fill="#f29b2c" />
<circle cx="204.82" cy="272.73" r="0.72" fill="#f29b2c" />
<circle cx="200.75" cy="267.96" r="0.72" fill="#f29b2c" />
<circle cx="207.34" cy="271.43" r="0.72" fill="#f29b2c" />
<circle cx="204.78" cy="271.30" r="0.72" fill="#f29b2c" />
<circle cx="199.28" cy="260.18" r="0.72" fill="#f29b2c" />
<circle cx="204.67" cy="271.46" r="0.72" fill="#f29b2c" />
<circle cx="202.06" cy="264.72" r="0.72" fill="#f29b2c" />
<circle cx="204.17" cy="273.23" r="0.72" fill="#f29b2c" />
<circle cx="205.40" cy="270.58" r="0.72" fill="#f29b2c" />
<circle cx="205.67" cy="272.01" r="0.72" fill="#f29b2c" />
<circle cx="205.08" cy="271.89" r="0.72" fill="#f29b2c" />
<circle cx="200.28" cy="261.76" r="0.72" fill="#f29b2c" />
<circle cx="204.57" cy="264.04" r="0.72" fill="#f29b2c" />
<circle cx="208.00" cy="274.72" r="0.72" fill="#f29b2c" />
<circle cx="203.54" cy="266.82" r="0.72" fill="#f29b2c" />
<circle cx="199.03" cy="257.07" r="0.72" fill="#f29b2c" />
<circle cx="204.99" cy="271.57" r="0.72" fill="#f29b2c" />
<circle cx="204.79" cy="273.24" r="0.72" fill="#f29b2c" />
<circle cx="204.84" cy="271.47" r="0.72" fill="#f29b2c" />
<circle cx="200.49" cy="261.23" r="0.72" fill="#f29b2c" />
<circle cx="206.05" cy="269.11" r="0.72" fill="#f29b2c" />
<circle cx="202.04" cy="267.10" r="0.72" fill="#f29b2c" />
<circle cx="205.52" cy="270.78" r="0.72" fill="#f29b2c" />
<circle cx="208.67" cy="272.64" r="0.72" fill="#f29b2c" />
<circle cx="204.80" cy="269.57" r="0.72" fill="#f29b2c" />
<circle cx="206.36" cy="268.75" r="0.72" fill="#f29b2c" />
<circle cx="204.44" cy="270.36" r="0.72" fill="#f29b2c" />
<circle cx="206.63" cy="273.17" r="0.72" fill="#f29b2c" />
<circle cx="205.85" cy="270.28" r="0.72" fill="#f29b2c" />
<circle cx="205.56" cy="272.44" r="0.72" fill="#f29b2c" />
<circle cx="205.76" cy="272.85" r="0.72" fill="#f29b2c" />
<circle cx="207.19" cy="272.00" r="0.72" fill="#f29b2c" />
<circle cx="199.99" cy="258.36" r="0.72" fill="#f29b2c" />
<circle cx="205.51" cy="269.53" r="0.72" fill="#f29b2c" />
<circle cx="202.99" cy="268.14" r="0.72" fill="#f29b2c" />
<circle cx="203.49" cy="265.90" r="0.72" fill="#f29b2c" />
<circle cx="206.07" cy="272.94" r="0.72" fill="#f29b2c" />
<circle cx="206.51" cy="270.38" r="0.72" fill="#f29b2c" />
<circle cx="204.42" cy="271.57" r="0.72" fill="#f29b2c" />
<circle cx="202.81" cy="264.54" r="0.72" fill="#f29b2c" />
<circle cx="204.18" cy="269.52" r="0.72" fill="#f29b2c" />
<circle cx="200.25" cy="268.24" r="0.72" fill="#f29b2c" />
<circle cx="208.26" cy="273.23" r="0.72" fill="#f29b2c" />
<circle cx="206.85" cy="270.85" r="0.72" fill="#f29b2c" />
<circle cx="203.50" cy="247.00" r="0.7" fill="#f29b2c" />
<circle cx="195.00" cy="255.00" r="0.7" fill="#f29b2c" />
<circle cx="199.00" cy="259.00" r="0.7" fill="#f29b2c" />
<circle cx="203.00" cy="252.00" r="0.7" fill="#f29b2c" />
<circle cx="190.00" cy="257.00" r="0.7" fill="#f29b2c" />
<circle cx="196.00" cy="266.00" r="0.7" fill="#f29b2c" />
<circle cx="193.00" cy="270.00" r="0.7" fill="#f29b2c" />
<circle cx="229.80" cy="249.60" r="0.7" fill="#2f6aab" />
<circle cx="225.70" cy="256.00" r="0.7" fill="#2f6aab" />
<circle cx="228.00" cy="263.00" r="0.7" fill="#2f6aab" />
<circle cx="233.60" cy="264.00" r="0.7" fill="#2f6aab" />
<circle cx="234.50" cy="263.50" r="0.7" fill="#2f6aab" />
<circle cx="224.00" cy="268.00" r="0.7" fill="#2f6aab" />
<circle cx="226.00" cy="271.00" r="0.7" fill="#2f6aab" />
<circle cx="230.00" cy="270.00" r="0.7" fill="#2f6aab" />
<circle cx="262.50" cy="189.00" r="0.7" fill="#2f6aab" />
<circle cx="245.00" cy="266.50" r="0.7" fill="#2f6aab" />
<circle cx="223.50" cy="272.00" r="0.7" fill="#2f6aab" />
<circle cx="225.00" cy="265.00" r="0.7" fill="#2f6aab" />
<circle cx="227.00" cy="259.00" r="0.7" fill="#2f6aab" />
<circle cx="223.00" cy="270.00" r="0.7" fill="#2f6aab" />
<text x="62.51" y="237.80" font-size="6.4" fill="#f29b2c" font-style="italic" textLength="16.78" lengthAdjust="spacingAndGlyphs" >CD63</text>
<text x="39.71" y="244.20" font-size="6.4" fill="#d42a5c" font-style="italic" textLength="14.78" lengthAdjust="spacingAndGlyphs" >FBP1</text>
<text x="35.71" y="257.20" font-size="6.4" fill="#f29b2c" font-style="italic" textLength="24.78" lengthAdjust="spacingAndGlyphs" >FCGR1A</text>
<text x="79.51" y="258.10" font-size="6.4" fill="#f29b2c" font-style="italic" textLength="18.08" lengthAdjust="spacingAndGlyphs" >PAG1</text>
<text x="37.11" y="264.90" font-size="6.4" fill="#f29b2c" font-style="italic" textLength="22.78" lengthAdjust="spacingAndGlyphs" >BCL2A1</text>
<text x="41.11" y="272.30" font-size="6.4" fill="#d42a5c" font-style="italic" textLength="22.08" lengthAdjust="spacingAndGlyphs" >PSMA2</text>
<text x="102.91" y="231.40" font-size="6.4" fill="#2f6aab" font-style="italic" textLength="16.68" lengthAdjust="spacingAndGlyphs" >CD83</text>
<text x="99.71" y="240.00" font-size="6.4" fill="#2f6aab" font-style="italic" textLength="15.58" lengthAdjust="spacingAndGlyphs" >CCL3</text>
<text x="102.91" y="259.80" font-size="6.4" fill="#2f6aab" font-style="italic" textLength="13.38" lengthAdjust="spacingAndGlyphs" >ATF3</text>
<text x="109.41" y="266.50" font-size="6.4" fill="#2f6aab" font-style="italic" textLength="16.68" lengthAdjust="spacingAndGlyphs" >IGLL5</text>
<text x="180.51" y="239.30" font-size="6.4" fill="#d42a5c" font-style="italic" textLength="24.78" lengthAdjust="spacingAndGlyphs" >PRKAA1</text>
<text x="159.31" y="245.50" font-size="6.4" fill="#f29b2c" font-style="italic" textLength="17.48" lengthAdjust="spacingAndGlyphs" >C1QB</text>
<text x="183.91" y="247.30" font-size="6.4" fill="#d42a5c" font-style="italic" textLength="16.78" lengthAdjust="spacingAndGlyphs" >KRAS</text>
<text x="164.71" y="254.30" font-size="6.4" fill="#d42a5c" font-style="italic" textLength="15.98" lengthAdjust="spacingAndGlyphs" >CD81</text>
<text x="160.11" y="262.40" font-size="6.4" fill="#d42a5c" font-style="italic" textLength="28.18" lengthAdjust="spacingAndGlyphs" >ZC3H12A</text>
<text x="162.11" y="271.30" font-size="6.4" fill="#d42a5c" font-style="italic" textLength="20.88" lengthAdjust="spacingAndGlyphs" >RASA2</text>
<text x="222.71" y="247.60" font-size="6.4" fill="#2f6aab" font-style="italic" textLength="17.18" lengthAdjust="spacingAndGlyphs" >MZB1</text>
<text x="226.21" y="271.70" font-size="6.4" fill="#2f6aab" font-style="italic" textLength="15.98" lengthAdjust="spacingAndGlyphs" >SGK1</text>
<text x="248.21" y="271.70" font-size="6.4" fill="#2f6aab" font-style="italic" textLength="22.18" lengthAdjust="spacingAndGlyphs" >CD79A</text>
<text x="242.81" y="191.10" font-size="6.4" fill="#2f6aab" font-style="italic" textLength="17.28" lengthAdjust="spacingAndGlyphs" >IGLL5</text>
<line x1="71.50" y1="239.00" x2="72.50" y2="242.00" stroke="#f29b2c" stroke-width="0.6" />
<line x1="54.50" y1="244.00" x2="76.00" y2="264.00" stroke="#d42a5c" stroke-width="0.6" />
<line x1="61.00" y1="255.50" x2="75.00" y2="263.00" stroke="#f29b2c" stroke-width="0.6" />
<line x1="60.50" y1="263.00" x2="73.00" y2="265.50" stroke="#f29b2c" stroke-width="0.6" />
<line x1="63.50" y1="270.30" x2="76.00" y2="271.00" stroke="#d42a5c" stroke-width="0.6" />
<line x1="79.50" y1="257.50" x2="76.50" y2="262.00" stroke="#f29b2c" stroke-width="0.6" />
<line x1="203.00" y1="241.00" x2="203.50" y2="263.00" stroke="#d42a5c" stroke-width="0.6" />
<line x1="199.00" y1="249.00" x2="201.00" y2="262.00" stroke="#d42a5c" stroke-width="0.6" />
<line x1="177.00" y1="243.70" x2="192.00" y2="256.00" stroke="#f29b2c" stroke-width="0.6" />
<line x1="181.00" y1="252.50" x2="205.00" y2="266.00" stroke="#d42a5c" stroke-width="0.6" />
<line x1="188.50" y1="261.00" x2="203.00" y2="267.00" stroke="#d42a5c" stroke-width="0.6" />
<line x1="183.00" y1="269.30" x2="200.00" y2="269.50" stroke="#d42a5c" stroke-width="0.6" />
<line x1="225.00" y1="249.00" x2="227.00" y2="262.00" stroke="#2f6aab" stroke-width="0.6" />
<line x1="226.00" y1="269.50" x2="224.00" y2="269.50" stroke="#2f6aab" stroke-width="0.6" />
<line x1="248.00" y1="269.50" x2="245.50" y2="267.50" stroke="#2f6aab" stroke-width="0.6" />
<line x1="117.00" y1="263.50" x2="114.00" y2="261.00" stroke="#2f6aab" stroke-width="0.6" />
<line x1="103.00" y1="258.00" x2="100.00" y2="256.00" stroke="#2f6aab" stroke-width="0.6" />
<text style="stroke:#000;stroke-width:0.08px" x="285.04" y="160.00" font-size="10.2" font-weight="bold" fill="#000" textLength="7.02" lengthAdjust="spacingAndGlyphs" >E</text>
<path d="M308.30,275.10 A55.2,55.2 0 0 1 306.48,273.49 Q344.0,233.0 340.70,288.10 A55.2,55.2 0 0 1 338.04,287.88 Q344.0,233.0 308.30,275.10Z" fill="#fcc78a" stroke="#ffffff" stroke-width="0.3" fill-opacity="0.74" stroke-opacity="0.8"/>
<path d="M307.95,191.19 A55.2,55.2 0 0 1 309.86,189.62 Q344.0,233.0 360.69,180.38 A55.2,55.2 0 0 1 363.40,181.32 Q344.0,233.0 307.95,191.19Z" fill="#9c68c2" stroke="#ffffff" stroke-width="0.3" fill-opacity="0.74" stroke-opacity="0.8"/>
<path d="M306.48,273.49 A55.2,55.2 0 0 1 304.73,271.80 Q344.0,233.0 355.86,286.91 A55.2,55.2 0 0 1 353.23,287.42 Q344.0,233.0 306.48,273.49Z" fill="#fcc78a" stroke="#ffffff" stroke-width="0.3" fill-opacity="0.74" stroke-opacity="0.8"/>
<path d="M316.60,280.92 A55.2,55.2 0 0 1 314.53,279.67 Q344.0,233.0 346.63,177.86 A55.2,55.2 0 0 1 349.48,178.07 Q344.0,233.0 316.60,280.92Z" fill="#3a8bd0" stroke="#ffffff" stroke-width="0.3" fill-opacity="0.74" stroke-opacity="0.8"/>
<path d="M310.24,189.32 A55.2,55.2 0 0 1 312.16,187.91 Q344.0,233.0 344.71,288.20 A55.2,55.2 0 0 1 340.70,288.10 Q344.0,233.0 310.24,189.32Z" fill="#ea86b3" stroke="#ffffff" stroke-width="0.3" fill-opacity="0.74" stroke-opacity="0.8"/>
<path d="M301.08,198.29 A55.2,55.2 0 0 1 302.68,196.40 Q344.0,233.0 381.36,192.37 A55.2,55.2 0 0 1 383.58,194.52 Q344.0,233.0 301.08,198.29Z" fill="#9c68c2" stroke="#ffffff" stroke-width="0.3" fill-opacity="0.74" stroke-opacity="0.8"/>
<path d="M318.26,184.17 A55.2,55.2 0 0 1 320.40,183.10 Q344.0,233.0 374.70,278.88 A55.2,55.2 0 0 1 372.44,280.31 Q344.0,233.0 318.26,184.17Z" fill="#ea86b3" stroke="#ffffff" stroke-width="0.3" fill-opacity="0.74" stroke-opacity="0.8"/>
<path d="M323.12,284.10 A55.2,55.2 0 0 1 320.90,283.13 Q344.0,233.0 398.54,224.48 A55.2,55.2 0 0 1 398.93,227.54 Q344.0,233.0 323.12,284.10Z" fill="#3a8bd0" stroke="#ffffff" stroke-width="0.3" fill-opacity="0.74" stroke-opacity="0.8"/>
<path d="M314.53,279.67 A55.2,55.2 0 0 1 312.51,278.34 Q344.0,233.0 343.76,177.80 A55.2,55.2 0 0 1 346.63,177.86 Q344.0,233.0 314.53,279.67Z" fill="#3a8bd0" stroke="#ffffff" stroke-width="0.3" fill-opacity="0.74" stroke-opacity="0.8"/>
<path d="M297.21,262.29 A55.2,55.2 0 0 1 295.97,260.21 Q344.0,233.0 399.20,232.48 A55.2,55.2 0 0 1 399.02,237.43 Q344.0,233.0 297.21,262.29Z" fill="#fcc78a" stroke="#ffffff" stroke-width="0.3" fill-opacity="0.74" stroke-opacity="0.8"/>
<path d="M291.95,251.37 A55.2,55.2 0 0 1 291.19,249.07 Q344.0,233.0 352.33,178.43 A55.2,55.2 0 0 1 355.15,178.94 Q344.0,233.0 291.95,251.37Z" fill="#fcc78a" stroke="#ffffff" stroke-width="0.3" fill-opacity="0.74" stroke-opacity="0.8"/>
<path d="M289.35,240.78 A55.2,55.2 0 0 1 289.03,238.00 Q344.0,233.0 357.94,179.59 A55.2,55.2 0 0 1 360.69,180.38 Q344.0,233.0 289.35,240.78Z" fill="#62c4d6" stroke="#ffffff" stroke-width="0.3" fill-opacity="0.74" stroke-opacity="0.8"/>
<path d="M288.99,237.52 A55.2,55.2 0 0 1 288.84,235.05 Q344.0,233.0 350.58,287.81 A55.2,55.2 0 0 1 347.39,288.10 Q344.0,233.0 288.99,237.52Z" fill="#9c68c2" stroke="#ffffff" stroke-width="0.3" fill-opacity="0.74" stroke-opacity="0.8"/>
<path d="M288.84,235.05 A55.2,55.2 0 0 1 288.80,232.58 Q344.0,233.0 366.27,283.51 A55.2,55.2 0 0 1 363.04,284.81 Q344.0,233.0 288.84,235.05Z" fill="#9c68c2" stroke="#ffffff" stroke-width="0.3" fill-opacity="0.74" stroke-opacity="0.8"/>
<path d="M293.76,255.88 A55.2,55.2 0 0 1 292.81,253.65 Q344.0,233.0 373.64,186.43 A55.2,55.2 0 0 1 378.76,190.12 Q344.0,233.0 293.76,255.88Z" fill="#fcc78a" stroke="#ffffff" stroke-width="0.3" fill-opacity="0.74" stroke-opacity="0.8"/>
<path d="M294.44,208.70 A55.2,55.2 0 0 1 295.58,206.50 Q344.0,233.0 397.24,218.43 A55.2,55.2 0 0 1 397.98,221.44 Q344.0,233.0 294.44,208.70Z" fill="#9c68c2" stroke="#ffffff" stroke-width="0.3" fill-opacity="0.74" stroke-opacity="0.8"/>
<path d="M291.63,215.56 A55.2,55.2 0 0 1 292.46,213.23 Q344.0,233.0 396.92,248.68 A55.2,55.2 0 0 1 395.92,251.73 Q344.0,233.0 291.63,215.56Z" fill="#9c68c2" stroke="#ffffff" stroke-width="0.3" fill-opacity="0.74" stroke-opacity="0.8"/>
<path d="M303.07,270.03 A55.2,55.2 0 0 1 301.48,268.20 Q344.0,233.0 385.87,268.97 A55.2,55.2 0 0 1 384.08,270.96 Q344.0,233.0 303.07,270.03Z" fill="#fcc78a" stroke="#ffffff" stroke-width="0.3" fill-opacity="0.74" stroke-opacity="0.8"/>
<path d="M296.81,204.36 A55.2,55.2 0 0 1 298.14,202.27 Q344.0,233.0 392.67,206.97 A55.2,55.2 0 0 1 394.06,209.73 Q344.0,233.0 296.81,204.36Z" fill="#9c68c2" stroke="#ffffff" stroke-width="0.3" fill-opacity="0.74" stroke-opacity="0.8"/>
<path d="M294.82,258.07 A55.2,55.2 0 0 1 293.76,255.88 Q344.0,233.0 385.67,196.80 A55.2,55.2 0 0 1 387.63,199.19 Q344.0,233.0 294.82,258.07Z" fill="#fcc78a" stroke="#ffffff" stroke-width="0.3" fill-opacity="0.74" stroke-opacity="0.8"/>
<path d="M327.05,180.47 A55.2,55.2 0 0 1 329.34,179.78 Q344.0,233.0 368.65,183.61 A55.2,55.2 0 0 1 371.18,184.96 Q344.0,233.0 327.05,180.47Z" fill="#ea86b3" stroke="#ffffff" stroke-width="0.3" fill-opacity="0.74" stroke-opacity="0.8"/>
<path d="M320.40,183.10 A55.2,55.2 0 0 1 322.58,182.13 Q344.0,233.0 387.56,266.90 A55.2,55.2 0 0 1 385.87,268.97 Q344.0,233.0 320.40,183.10Z" fill="#ea86b3" stroke="#ffffff" stroke-width="0.3" fill-opacity="0.74" stroke-opacity="0.8"/>
<path d="M289.06,227.64 A55.2,55.2 0 0 1 289.36,225.18 Q344.0,233.0 381.41,273.59 A55.2,55.2 0 0 1 379.40,275.35 Q344.0,233.0 289.06,227.64Z" fill="#9c68c2" stroke="#ffffff" stroke-width="0.3" fill-opacity="0.74" stroke-opacity="0.8"/>
<path d="M289.76,222.74 A55.2,55.2 0 0 1 290.28,220.32 Q344.0,233.0 389.46,264.31 A55.2,55.2 0 0 1 387.56,266.90 Q344.0,233.0 289.76,222.74Z" fill="#9c68c2" stroke="#ffffff" stroke-width="0.3" fill-opacity="0.74" stroke-opacity="0.8"/>
<path d="M327.67,285.73 A55.2,55.2 0 0 1 325.37,284.96 Q344.0,233.0 379.40,275.35 A55.2,55.2 0 0 1 377.31,277.02 Q344.0,233.0 327.67,285.73Z" fill="#3a8bd0" stroke="#ffffff" stroke-width="0.3" fill-opacity="0.74" stroke-opacity="0.8"/>
<path d="M295.97,260.21 A55.2,55.2 0 0 1 294.82,258.07 Q344.0,233.0 396.34,215.47 A55.2,55.2 0 0 1 397.24,218.43 Q344.0,233.0 295.97,260.21Z" fill="#fcc78a" stroke="#ffffff" stroke-width="0.3" fill-opacity="0.74" stroke-opacity="0.8"/>
<path d="M288.80,232.58 A55.2,55.2 0 0 1 288.88,230.11 Q344.0,233.0 368.69,282.37 A55.2,55.2 0 0 1 366.27,283.51 Q344.0,233.0 288.80,232.58Z" fill="#9c68c2" stroke="#ffffff" stroke-width="0.3" fill-opacity="0.74" stroke-opacity="0.8"/>
<path d="M318.73,282.07 A55.2,55.2 0 0 1 316.60,280.92 Q344.0,233.0 371.18,184.96 A55.2,55.2 0 0 1 373.64,186.43 Q344.0,233.0 318.73,282.07Z" fill="#3a8bd0" stroke="#ffffff" stroke-width="0.3" fill-opacity="0.74" stroke-opacity="0.8"/>
<path d="M325.37,284.96 A55.2,55.2 0 0 1 323.12,284.10 Q344.0,233.0 395.92,251.73 A55.2,55.2 0 0 1 394.96,254.23 Q344.0,233.0 325.37,284.96Z" fill="#3a8bd0" stroke="#ffffff" stroke-width="0.3" fill-opacity="0.74" stroke-opacity="0.8"/>
<path d="M289.36,225.18 A55.2,55.2 0 0 1 289.76,222.74 Q344.0,233.0 384.08,270.96 A55.2,55.2 0 0 1 381.41,273.59 Q344.0,233.0 289.36,225.18Z" fill="#9c68c2" stroke="#ffffff" stroke-width="0.3" fill-opacity="0.74" stroke-opacity="0.8"/>
<path d="M292.81,253.65 A55.2,55.2 0 0 1 291.95,251.37 Q344.0,233.0 355.15,178.94 A55.2,55.2 0 0 1 357.94,179.59 Q344.0,233.0 292.81,253.65Z" fill="#fcc78a" stroke="#ffffff" stroke-width="0.3" fill-opacity="0.74" stroke-opacity="0.8"/>
<path d="M304.36,194.59 A55.2,55.2 0 0 1 306.12,192.85 Q344.0,233.0 366.06,182.40 A55.2,55.2 0 0 1 368.65,183.61 Q344.0,233.0 304.36,194.59Z" fill="#9c68c2" stroke="#ffffff" stroke-width="0.3" fill-opacity="0.74" stroke-opacity="0.8"/>
<path d="M290.42,246.26 A55.2,55.2 0 0 1 289.81,243.53 Q344.0,233.0 392.28,259.76 A55.2,55.2 0 0 1 390.92,262.07 Q344.0,233.0 290.42,246.26Z" fill="#62c4d6" stroke="#ffffff" stroke-width="0.3" fill-opacity="0.74" stroke-opacity="0.8"/>
<path d="M306.12,192.85 A55.2,55.2 0 0 1 307.95,191.19 Q344.0,233.0 363.40,181.32 A55.2,55.2 0 0 1 366.06,182.40 Q344.0,233.0 306.12,192.85Z" fill="#9c68c2" stroke="#ffffff" stroke-width="0.3" fill-opacity="0.74" stroke-opacity="0.8"/>
<path d="M298.14,202.27 A55.2,55.2 0 0 1 299.56,200.25 Q344.0,233.0 389.46,201.69 A55.2,55.2 0 0 1 391.14,204.28 Q344.0,233.0 298.14,202.27Z" fill="#9c68c2" stroke="#ffffff" stroke-width="0.3" fill-opacity="0.74" stroke-opacity="0.8"/>
<path d="M310.56,276.92 A55.2,55.2 0 0 1 308.67,275.41 Q344.0,233.0 338.04,178.12 A55.2,55.2 0 0 1 340.89,177.89 Q344.0,233.0 310.56,276.92Z" fill="#3a8bd0" stroke="#ffffff" stroke-width="0.3" fill-opacity="0.74" stroke-opacity="0.8"/>
<path d="M289.81,243.53 A55.2,55.2 0 0 1 289.35,240.78 Q344.0,233.0 398.19,243.49 A55.2,55.2 0 0 1 397.62,246.10 Q344.0,233.0 289.81,243.53Z" fill="#62c4d6" stroke="#ffffff" stroke-width="0.3" fill-opacity="0.74" stroke-opacity="0.8"/>
<path d="M312.16,187.91 A55.2,55.2 0 0 1 314.14,186.57 Q344.0,233.0 347.39,288.10 A55.2,55.2 0 0 1 344.71,288.20 Q344.0,233.0 312.16,187.91Z" fill="#ea86b3" stroke="#ffffff" stroke-width="0.3" fill-opacity="0.74" stroke-opacity="0.8"/>
<path d="M299.56,200.25 A55.2,55.2 0 0 1 301.08,198.29 Q344.0,233.0 387.63,199.19 A55.2,55.2 0 0 1 389.46,201.69 Q344.0,233.0 299.56,200.25Z" fill="#9c68c2" stroke="#ffffff" stroke-width="0.3" fill-opacity="0.74" stroke-opacity="0.8"/>
<path d="M322.58,182.13 A55.2,55.2 0 0 1 324.80,181.25 Q344.0,233.0 394.06,209.73 A55.2,55.2 0 0 1 395.28,212.57 Q344.0,233.0 322.58,182.13Z" fill="#ea86b3" stroke="#ffffff" stroke-width="0.3" fill-opacity="0.74" stroke-opacity="0.8"/>
<path d="M302.68,196.40 A55.2,55.2 0 0 1 304.36,194.59 Q344.0,233.0 378.76,190.12 A55.2,55.2 0 0 1 380.94,191.98 Q344.0,233.0 302.68,196.40Z" fill="#9c68c2" stroke="#ffffff" stroke-width="0.3" fill-opacity="0.74" stroke-opacity="0.8"/>
<path d="M304.73,271.80 A55.2,55.2 0 0 1 303.07,270.03 Q344.0,233.0 372.44,280.31 A55.2,55.2 0 0 1 368.69,282.37 Q344.0,233.0 304.73,271.80Z" fill="#fcc78a" stroke="#ffffff" stroke-width="0.3" fill-opacity="0.74" stroke-opacity="0.8"/>
<path d="M301.48,268.20 A55.2,55.2 0 0 1 299.97,266.29 Q344.0,233.0 394.96,254.23 A55.2,55.2 0 0 1 393.87,256.67 Q344.0,233.0 301.48,268.20Z" fill="#fcc78a" stroke="#ffffff" stroke-width="0.3" fill-opacity="0.74" stroke-opacity="0.8"/>
<path d="M290.90,217.93 A55.2,55.2 0 0 1 291.63,215.56 Q344.0,233.0 393.87,256.67 A55.2,55.2 0 0 1 392.28,259.76 Q344.0,233.0 290.90,217.93Z" fill="#9c68c2" stroke="#ffffff" stroke-width="0.3" fill-opacity="0.74" stroke-opacity="0.8"/>
<path d="M298.55,264.32 A55.2,55.2 0 0 1 297.21,262.29 Q344.0,233.0 398.96,238.19 A55.2,55.2 0 0 1 398.19,243.49 Q344.0,233.0 298.55,264.32Z" fill="#fcc78a" stroke="#ffffff" stroke-width="0.3" fill-opacity="0.74" stroke-opacity="0.8"/>
<path d="M314.14,186.57 A55.2,55.2 0 0 1 316.18,185.32 Q344.0,233.0 353.23,287.42 A55.2,55.2 0 0 1 350.58,287.81 Q344.0,233.0 314.14,186.57Z" fill="#ea86b3" stroke="#ffffff" stroke-width="0.3" fill-opacity="0.74" stroke-opacity="0.8"/>
<path d="M329.99,286.39 A55.2,55.2 0 0 1 327.67,285.73 Q344.0,233.0 360.51,285.67 A55.2,55.2 0 0 1 355.86,286.91 Q344.0,233.0 329.99,286.39Z" fill="#3a8bd0" stroke="#ffffff" stroke-width="0.3" fill-opacity="0.74" stroke-opacity="0.8"/>
<path d="M316.18,185.32 A55.2,55.2 0 0 1 318.26,184.17 Q344.0,233.0 363.04,284.81 A55.2,55.2 0 0 1 360.51,285.67 Q344.0,233.0 316.18,185.32Z" fill="#ea86b3" stroke="#ffffff" stroke-width="0.3" fill-opacity="0.74" stroke-opacity="0.8"/>
<path d="M320.90,283.13 A55.2,55.2 0 0 1 318.73,282.07 Q344.0,233.0 391.14,204.28 A55.2,55.2 0 0 1 392.67,206.97 Q344.0,233.0 320.90,283.13Z" fill="#3a8bd0" stroke="#ffffff" stroke-width="0.3" fill-opacity="0.74" stroke-opacity="0.8"/>
<path d="M324.80,181.25 A55.2,55.2 0 0 1 327.05,180.47 Q344.0,233.0 383.58,194.52 A55.2,55.2 0 0 1 385.67,196.80 Q344.0,233.0 324.80,181.25Z" fill="#ea86b3" stroke="#ffffff" stroke-width="0.3" fill-opacity="0.74" stroke-opacity="0.8"/>
<path d="M295.58,206.50 A55.2,55.2 0 0 1 296.81,204.36 Q344.0,233.0 395.28,212.57 A55.2,55.2 0 0 1 396.34,215.47 Q344.0,233.0 295.58,206.50Z" fill="#9c68c2" stroke="#ffffff" stroke-width="0.3" fill-opacity="0.74" stroke-opacity="0.8"/>
<path d="M288.88,230.11 A55.2,55.2 0 0 1 289.06,227.64 Q344.0,233.0 377.31,277.02 A55.2,55.2 0 0 1 374.70,278.88 Q344.0,233.0 288.88,230.11Z" fill="#9c68c2" stroke="#ffffff" stroke-width="0.3" fill-opacity="0.74" stroke-opacity="0.8"/>
<path d="M293.40,210.94 A55.2,55.2 0 0 1 294.44,208.70 Q344.0,233.0 397.98,221.44 A55.2,55.2 0 0 1 398.54,224.48 Q344.0,233.0 293.40,210.94Z" fill="#9c68c2" stroke="#ffffff" stroke-width="0.3" fill-opacity="0.74" stroke-opacity="0.8"/>
<path d="M291.19,249.07 A55.2,55.2 0 0 1 290.53,246.73 Q344.0,233.0 349.48,178.07 A55.2,55.2 0 0 1 352.33,178.43 Q344.0,233.0 291.19,249.07Z" fill="#fcc78a" stroke="#ffffff" stroke-width="0.3" fill-opacity="0.74" stroke-opacity="0.8"/>
<path d="M312.51,278.34 A55.2,55.2 0 0 1 310.56,276.92 Q344.0,233.0 340.89,177.89 A55.2,55.2 0 0 1 343.76,177.80 Q344.0,233.0 312.51,278.34Z" fill="#3a8bd0" stroke="#ffffff" stroke-width="0.3" fill-opacity="0.74" stroke-opacity="0.8"/>
<path d="M290.28,220.32 A55.2,55.2 0 0 1 290.90,217.93 Q344.0,233.0 390.92,262.07 A55.2,55.2 0 0 1 389.46,264.31 Q344.0,233.0 290.28,220.32Z" fill="#9c68c2" stroke="#ffffff" stroke-width="0.3" fill-opacity="0.74" stroke-opacity="0.8"/>
<path d="M292.46,213.23 A55.2,55.2 0 0 1 293.40,210.94 Q344.0,233.0 398.93,227.54 A55.2,55.2 0 0 1 399.20,232.48 Q344.0,233.0 292.46,213.23Z" fill="#9c68c2" stroke="#ffffff" stroke-width="0.3" fill-opacity="0.74" stroke-opacity="0.8"/>
<path d="M299.97,266.29 A55.2,55.2 0 0 1 298.55,264.32 Q344.0,233.0 397.62,246.10 A55.2,55.2 0 0 1 396.92,248.68 Q344.0,233.0 299.97,266.29Z" fill="#fcc78a" stroke="#ffffff" stroke-width="0.3" fill-opacity="0.74" stroke-opacity="0.8"/>
<path d="M328.22,293.16 A62.2,62.2 0 0 1 304.19,280.79 L307.90,276.33 A56.4,56.4 0 0 0 329.69,287.55 Z" fill="#2473b8" stroke="none" stroke-width="0.8" />
<path d="M303.77,280.44 A62.2,62.2 0 0 1 283.75,248.47 L289.37,247.03 A56.4,56.4 0 0 0 307.52,276.01 Z" fill="#fcc887" stroke="none" stroke-width="0.8" />
<path d="M283.62,247.94 A62.2,62.2 0 0 1 282.06,238.64 L287.83,238.11 A56.4,56.4 0 0 0 289.25,246.55 Z" fill="#5cc3d2" stroke="none" stroke-width="0.8" />
<path d="M282.01,238.10 A62.2,62.2 0 0 1 305.53,184.12 L309.12,188.68 A56.4,56.4 0 0 0 287.79,237.62 Z" fill="#7b3b9b" stroke="none" stroke-width="0.8" />
<path d="M305.96,183.79 A62.2,62.2 0 0 1 327.48,173.03 L329.02,178.63 A56.4,56.4 0 0 0 309.51,188.37 Z" fill="#e4659a" stroke="none" stroke-width="0.8" />
<path d="M337.74,171.12 A62.2,62.2 0 0 1 340.04,170.93 L340.41,176.71 A56.4,56.4 0 0 0 338.32,176.89 Z" fill="#1d6b4e" stroke="none" stroke-width="0.8" />
<path d="M340.96,170.87 A62.2,62.2 0 0 1 343.27,170.80 L343.34,176.60 A56.4,56.4 0 0 0 341.25,176.67 Z" fill="#1d6b4e" stroke="none" stroke-width="0.8" />
<path d="M344.19,170.80 A62.2,62.2 0 0 1 346.50,170.85 L346.26,176.65 A56.4,56.4 0 0 0 344.17,176.60 Z" fill="#1d6b4e" stroke="none" stroke-width="0.8" />
<path d="M347.42,170.89 A62.2,62.2 0 0 1 349.72,171.06 L349.19,176.84 A56.4,56.4 0 0 0 347.10,176.69 Z" fill="#1d6b4e" stroke="none" stroke-width="0.8" />
<path d="M350.64,171.16 A62.2,62.2 0 0 1 352.93,171.44 L352.09,177.18 A56.4,56.4 0 0 0 350.02,176.92 Z" fill="#1d6b4e" stroke="none" stroke-width="0.8" />
<path d="M353.84,171.58 A62.2,62.2 0 0 1 356.11,171.99 L354.98,177.68 A56.4,56.4 0 0 0 352.92,177.31 Z" fill="#1d6b4e" stroke="none" stroke-width="0.8" />
<path d="M357.01,172.18 A62.2,62.2 0 0 1 359.26,172.70 L357.84,178.32 A56.4,56.4 0 0 0 355.80,177.85 Z" fill="#1d6b4e" stroke="none" stroke-width="0.8" />
<path d="M360.15,172.93 A62.2,62.2 0 0 1 362.37,173.57 L360.66,179.12 A56.4,56.4 0 0 0 358.65,178.54 Z" fill="#1d6b4e" stroke="none" stroke-width="0.8" />
<path d="M363.25,173.85 A62.2,62.2 0 0 1 365.43,174.61 L363.43,180.05 A56.4,56.4 0 0 0 361.45,179.37 Z" fill="#1d6b4e" stroke="none" stroke-width="0.8" />
<path d="M366.29,174.93 A62.2,62.2 0 0 1 368.43,175.80 L366.15,181.13 A56.4,56.4 0 0 0 364.21,180.35 Z" fill="#1d6b4e" stroke="none" stroke-width="0.8" />
<path d="M369.28,176.17 A62.2,62.2 0 0 1 371.37,177.14 L368.82,182.35 A56.4,56.4 0 0 0 366.92,181.47 Z" fill="#1d6b4e" stroke="none" stroke-width="0.8" />
<path d="M372.19,177.56 A62.2,62.2 0 0 1 374.23,178.64 L371.41,183.71 A56.4,56.4 0 0 0 369.56,182.73 Z" fill="#1d6b4e" stroke="none" stroke-width="0.8" />
<path d="M375.03,179.09 A62.2,62.2 0 0 1 377.01,180.28 L373.93,185.20 A56.4,56.4 0 0 0 372.14,184.12 Z" fill="#1d6b4e" stroke="none" stroke-width="0.8" />
<path d="M377.79,180.78 A62.2,62.2 0 0 1 382.81,184.39 L379.19,188.92 A56.4,56.4 0 0 0 374.64,185.65 Z" fill="#1d6b4e" stroke="none" stroke-width="0.8" />
<path d="M383.52,184.97 A62.2,62.2 0 0 1 385.28,186.47 L381.43,190.81 A56.4,56.4 0 0 0 379.84,189.45 Z" fill="#1d6b4e" stroke="none" stroke-width="0.8" />
<path d="M386.44,187.53 A62.2,62.2 0 0 1 388.28,189.31 L384.15,193.39 A56.4,56.4 0 0 0 382.48,191.77 Z" fill="#cc1236" stroke="none" stroke-width="0.8" />
<path d="M388.92,189.98 A62.2,62.2 0 0 1 390.65,191.86 L386.30,195.70 A56.4,56.4 0 0 0 384.73,193.99 Z" fill="#cc1236" stroke="none" stroke-width="0.8" />
<path d="M391.26,192.56 A62.2,62.2 0 0 1 392.88,194.54 L388.33,198.13 A56.4,56.4 0 0 0 386.85,196.33 Z" fill="#cc1236" stroke="none" stroke-width="0.8" />
<path d="M393.45,195.27 A62.2,62.2 0 0 1 394.96,197.34 L390.21,200.66 A56.4,56.4 0 0 0 388.84,198.79 Z" fill="#cc1236" stroke="none" stroke-width="0.8" />
<path d="M395.48,198.10 A62.2,62.2 0 0 1 396.88,200.25 L391.95,203.30 A56.4,56.4 0 0 0 390.68,201.35 Z" fill="#cc1236" stroke="none" stroke-width="0.8" />
<path d="M397.36,201.03 A62.2,62.2 0 0 1 398.63,203.26 L393.53,206.03 A56.4,56.4 0 0 0 392.38,204.01 Z" fill="#cc1236" stroke="none" stroke-width="0.8" />
<path d="M399.06,204.07 A62.2,62.2 0 0 1 400.21,206.36 L394.97,208.85 A56.4,56.4 0 0 0 393.93,206.77 Z" fill="#cc1236" stroke="none" stroke-width="0.8" />
<path d="M400.60,207.20 A62.2,62.2 0 0 1 401.61,209.55 L396.24,211.74 A56.4,56.4 0 0 0 395.32,209.61 Z" fill="#cc1236" stroke="none" stroke-width="0.8" />
<path d="M401.95,210.41 A62.2,62.2 0 0 1 402.83,212.82 L397.35,214.70 A56.4,56.4 0 0 0 396.55,212.52 Z" fill="#cc1236" stroke="none" stroke-width="0.8" />
<path d="M403.13,213.69 A62.2,62.2 0 0 1 403.87,216.14 L398.29,217.71 A56.4,56.4 0 0 0 397.61,215.49 Z" fill="#cc1236" stroke="none" stroke-width="0.8" />
<path d="M404.12,217.03 A62.2,62.2 0 0 1 404.72,219.52 L399.06,220.78 A56.4,56.4 0 0 0 398.51,218.52 Z" fill="#cc1236" stroke="none" stroke-width="0.8" />
<path d="M404.92,220.42 A62.2,62.2 0 0 1 405.38,222.94 L399.66,223.88 A56.4,56.4 0 0 0 399.23,221.60 Z" fill="#cc1236" stroke="none" stroke-width="0.8" />
<path d="M405.52,223.85 A62.2,62.2 0 0 1 405.85,226.39 L400.08,227.01 A56.4,56.4 0 0 0 399.79,224.71 Z" fill="#cc1236" stroke="none" stroke-width="0.8" />
<path d="M405.94,227.31 A62.2,62.2 0 0 1 406.19,231.96 L400.39,232.05 A56.4,56.4 0 0 0 400.16,227.84 Z" fill="#cc1236" stroke="none" stroke-width="0.8" />
<path d="M406.20,232.88 A62.2,62.2 0 0 1 406.03,237.53 L400.25,237.11 A56.4,56.4 0 0 0 400.40,232.89 Z" fill="#cc1236" stroke="none" stroke-width="0.8" />
<path d="M405.88,239.31 A62.2,62.2 0 0 1 405.15,244.37 L399.45,243.31 A56.4,56.4 0 0 0 400.11,238.72 Z" fill="#7b4a1c" stroke="none" stroke-width="0.8" />
<path d="M404.98,245.27 A62.2,62.2 0 0 1 404.53,247.31 L398.89,245.98 A56.4,56.4 0 0 0 399.29,244.13 Z" fill="#7b4a1c" stroke="none" stroke-width="0.8" />
<path d="M404.31,248.21 A62.2,62.2 0 0 1 403.77,250.23 L398.19,248.62 A56.4,56.4 0 0 0 398.69,246.79 Z" fill="#7b4a1c" stroke="none" stroke-width="0.8" />
<path d="M403.50,251.11 A62.2,62.2 0 0 1 402.66,253.67 L397.19,251.75 A56.4,56.4 0 0 0 397.96,249.43 Z" fill="#7b4a1c" stroke="none" stroke-width="0.8" />
<path d="M402.35,254.54 A62.2,62.2 0 0 1 401.59,256.49 L396.22,254.30 A56.4,56.4 0 0 0 396.91,252.53 Z" fill="#7b4a1c" stroke="none" stroke-width="0.8" />
<path d="M401.24,257.34 A62.2,62.2 0 0 1 400.39,259.26 L395.13,256.81 A56.4,56.4 0 0 0 395.90,255.07 Z" fill="#7b4a1c" stroke="none" stroke-width="0.8" />
<path d="M399.99,260.09 A62.2,62.2 0 0 1 398.62,262.75 L393.53,259.98 A56.4,56.4 0 0 0 394.77,257.56 Z" fill="#7b4a1c" stroke="none" stroke-width="0.8" />
<path d="M398.17,263.56 A62.2,62.2 0 0 1 397.12,265.36 L392.16,262.35 A56.4,56.4 0 0 0 393.12,260.71 Z" fill="#7b4a1c" stroke="none" stroke-width="0.8" />
<path d="M396.63,266.15 A62.2,62.2 0 0 1 395.49,267.90 L390.69,264.65 A56.4,56.4 0 0 0 391.72,263.06 Z" fill="#7b4a1c" stroke="none" stroke-width="0.8" />
<path d="M394.96,268.66 A62.2,62.2 0 0 1 393.37,270.83 L388.77,267.31 A56.4,56.4 0 0 0 390.21,265.33 Z" fill="#7b4a1c" stroke="none" stroke-width="0.8" />
<path d="M392.80,271.56 A62.2,62.2 0 0 1 391.48,273.18 L387.05,269.43 A56.4,56.4 0 0 0 388.25,267.97 Z" fill="#7b4a1c" stroke="none" stroke-width="0.8" />
<path d="M390.88,273.88 A62.2,62.2 0 0 1 389.48,275.43 L385.24,271.48 A56.4,56.4 0 0 0 386.51,270.07 Z" fill="#7b4a1c" stroke="none" stroke-width="0.8" />
<path d="M388.84,276.10 A62.2,62.2 0 0 1 386.50,278.42 L382.53,274.18 A56.4,56.4 0 0 0 384.66,272.08 Z" fill="#7b4a1c" stroke="none" stroke-width="0.8" />
<path d="M385.82,279.04 A62.2,62.2 0 0 1 384.25,280.42 L380.49,276.00 A56.4,56.4 0 0 0 381.92,274.75 Z" fill="#7b4a1c" stroke="none" stroke-width="0.8" />
<path d="M383.54,281.02 A62.2,62.2 0 0 1 381.90,282.32 L378.37,277.72 A56.4,56.4 0 0 0 379.85,276.54 Z" fill="#7b4a1c" stroke="none" stroke-width="0.8" />
<path d="M381.17,282.88 A62.2,62.2 0 0 1 378.97,284.44 L375.71,279.64 A56.4,56.4 0 0 0 377.70,278.22 Z" fill="#7b4a1c" stroke="none" stroke-width="0.8" />
<path d="M378.20,284.95 A62.2,62.2 0 0 1 376.44,286.07 L373.41,281.12 A56.4,56.4 0 0 0 375.01,280.11 Z" fill="#7b4a1c" stroke="none" stroke-width="0.8" />
<path d="M375.65,286.55 A62.2,62.2 0 0 1 372.23,288.43 L369.60,283.26 A56.4,56.4 0 0 0 372.70,281.55 Z" fill="#7b4a1c" stroke="none" stroke-width="0.8" />
<path d="M371.40,288.84 A62.2,62.2 0 0 1 369.51,289.73 L367.13,284.44 A56.4,56.4 0 0 0 368.85,283.63 Z" fill="#7b4a1c" stroke="none" stroke-width="0.8" />
<path d="M368.67,290.10 A62.2,62.2 0 0 1 365.89,291.22 L363.85,285.79 A56.4,56.4 0 0 0 366.37,284.78 Z" fill="#7b4a1c" stroke="none" stroke-width="0.8" />
<path d="M365.02,291.54 A62.2,62.2 0 0 1 363.04,292.21 L361.27,286.69 A56.4,56.4 0 0 0 363.06,286.08 Z" fill="#7b4a1c" stroke="none" stroke-width="0.8" />
<path d="M362.16,292.49 A62.2,62.2 0 0 1 357.81,293.65 L356.52,287.99 A56.4,56.4 0 0 0 360.47,286.94 Z" fill="#7b4a1c" stroke="none" stroke-width="0.8" />
<path d="M356.91,293.85 A62.2,62.2 0 0 1 354.86,294.25 L353.84,288.53 A56.4,56.4 0 0 0 355.71,288.17 Z" fill="#7b4a1c" stroke="none" stroke-width="0.8" />
<path d="M353.95,294.40 A62.2,62.2 0 0 1 351.88,294.70 L351.14,288.95 A56.4,56.4 0 0 0 353.02,288.67 Z" fill="#7b4a1c" stroke="none" stroke-width="0.8" />
<path d="M350.96,294.81 A62.2,62.2 0 0 1 348.28,295.05 L347.88,289.27 A56.4,56.4 0 0 0 350.31,289.05 Z" fill="#7b4a1c" stroke="none" stroke-width="0.8" />
<path d="M347.36,295.11 A62.2,62.2 0 0 1 345.27,295.19 L345.15,289.39 A56.4,56.4 0 0 0 347.04,289.32 Z" fill="#7b4a1c" stroke="none" stroke-width="0.8" />
<path d="M344.34,295.20 A62.2,62.2 0 0 1 340.75,295.11 L341.05,289.32 A56.4,56.4 0 0 0 344.31,289.40 Z" fill="#7b4a1c" stroke="none" stroke-width="0.8" />
<path d="M339.83,295.06 A62.2,62.2 0 0 1 337.74,294.88 L338.32,289.11 A56.4,56.4 0 0 0 340.21,289.27 Z" fill="#7b4a1c" stroke="none" stroke-width="0.8" />
<circle cx="344.0" cy="233.0" r="55.80" fill="none" stroke="#fff" stroke-width="0.7"/>
<text style="stroke:#111;stroke-width:0.08px" x="315.74" y="175.58" font-size="6.6" font-weight="bold" fill="#111" text-anchor="middle" transform="rotate(333.80 315.74 175.58)">CD14<tspan font-size="4" dy="-2">+</tspan><tspan dy="2"> Mo</tspan></text>
<text style="stroke:#111;stroke-width:0.08px" x="286.50" y="205.82" font-size="6.6" font-weight="bold" fill="#111" text-anchor="middle" transform="rotate(295.30 286.50 205.82)">CD16<tspan font-size="4" dy="-2">++</tspan><tspan dy="2"> Mo</tspan></text>
<text style="stroke:#111;stroke-width:0.08px" x="280.88" y="243.56" font-size="6.6" font-weight="bold" fill="#111" text-anchor="middle" transform="rotate(260.50 280.88 243.56)">iMo</text>
<text style="stroke:#111;stroke-width:0.08px" x="289.72" y="266.91" font-size="6.6" font-weight="bold" fill="#111" text-anchor="middle" transform="rotate(238.00 289.72 266.91)">cDC2/DC3</text>
<text style="stroke:#111;stroke-width:0.08px" x="314.75" y="289.92" font-size="6.6" font-weight="bold" fill="#111" text-anchor="middle" transform="rotate(207.20 314.75 289.92)">pDC</text>
<text x="342.40" y="170.00" font-size="6.6" text-anchor="middle" fill="#333" style="stroke:none">1</text>
<text x="357.80" y="168.40" font-size="6.6" text-anchor="middle" fill="#333" style="stroke:none">2</text>
<text x="365.70" y="171.60" font-size="6.6" text-anchor="middle" fill="#333" style="stroke:none">3</text>
<text x="382.40" y="181.40" font-size="6.6" text-anchor="middle" fill="#333" style="stroke:none">4</text>
<text x="387.60" y="185.50" font-size="6.6" text-anchor="middle" fill="#333" style="stroke:none">5</text>
<text x="393.80" y="189.40" font-size="6.6" text-anchor="middle" fill="#333" style="stroke:none">6</text>
<text x="396.70" y="194.40" font-size="6.6" text-anchor="middle" fill="#333" style="stroke:none">7</text>
<text x="409.50" y="229.40" font-size="6.6" text-anchor="middle" fill="#333" style="stroke:none">8</text>
<text x="409.70" y="237.40" font-size="6.6" text-anchor="middle" fill="#333" style="stroke:none">9</text>
<text x="409.00" y="253.40" font-size="6.6" text-anchor="middle" fill="#333" style="stroke:none">10</text>
<text x="405.30" y="264.40" font-size="6.6" text-anchor="middle" fill="#333" style="stroke:none">11</text>
<text x="385.60" y="291.00" font-size="6.6" text-anchor="middle" fill="#333" style="stroke:none">12</text>
<text x="363.40" y="299.40" font-size="6.6" text-anchor="middle" fill="#333" style="stroke:none">13</text>
<text x="338.00" y="301.40" font-size="6.6" text-anchor="middle" fill="#333" style="stroke:none">14</text>
<line x1="356.50" y1="168.80" x2="355.50" y2="171.00" stroke="#231f20" stroke-width="0.5" />
<line x1="364.00" y1="171.00" x2="362.50" y2="172.50" stroke="#231f20" stroke-width="0.5" />
<line x1="401.00" y1="262.00" x2="399.50" y2="260.50" stroke="#231f20" stroke-width="0.5" />
<line x1="381.50" y1="286.50" x2="380.00" y2="284.80" stroke="#231f20" stroke-width="0.5" />
<rect x="416.2" y="169.50" width="3.3" height="3.3" fill="#1f6b4e"/>
<text style="stroke:#111;stroke-width:0.08px" x="420.40" y="173.20" font-size="5.4" font-weight="bold" fill="#111" textLength="74.0" lengthAdjust="spacingAndGlyphs">Metabolism related pathways</text>
<rect x="415.3" y="174.60" width="98.4" height="37.00" fill="#c0d5cf" stroke="#1f6b4e" stroke-width="0.9"/>
<circle cx="420.90" cy="179.30" r="3.15" fill="#1f6b4e" />
<text x="420.90" y="181.05" font-size="5.0" text-anchor="middle" font-weight="bold" fill="#fff" style="stroke:#fff;stroke-width:0.1px">1</text>
<text x="425.20" y="181.50" font-size="6.6" fill="#2c2c2c" textLength="81.29" lengthAdjust="spacingAndGlyphs" style="stroke:none">Pentose phosphate pathway</text>
<circle cx="420.90" cy="186.30" r="3.15" fill="#1f6b4e" />
<text x="420.90" y="188.05" font-size="5.0" text-anchor="middle" font-weight="bold" fill="#fff" style="stroke:#fff;stroke-width:0.1px">2</text>
<text x="425.20" y="188.50" font-size="6.6" fill="#2c2c2c" textLength="78.19" lengthAdjust="spacingAndGlyphs" style="stroke:none">Cellular responses to stress</text>
<circle cx="420.90" cy="192.90" r="3.15" fill="#1f6b4e" />
<text x="420.90" y="194.65" font-size="5.0" text-anchor="middle" font-weight="bold" fill="#fff" style="stroke:#fff;stroke-width:0.1px">3</text>
<text x="425.20" y="195.10" font-size="6.6" fill="#2c2c2c" textLength="65.89" lengthAdjust="spacingAndGlyphs" style="stroke:none">Citrate cycle TCA cycle</text>
<circle cx="420.90" cy="199.90" r="3.15" fill="#1f6b4e" />
<text x="420.90" y="201.65" font-size="5.0" text-anchor="middle" font-weight="bold" fill="#fff" style="stroke:#fff;stroke-width:0.1px">4</text>
<text x="425.20" y="202.10" font-size="6.6" fill="#2c2c2c" textLength="28.29" lengthAdjust="spacingAndGlyphs" style="stroke:none">Glycolysis</text>
<circle cx="420.90" cy="206.80" r="3.15" fill="#1f6b4e" />
<text x="420.90" y="208.55" font-size="5.0" text-anchor="middle" font-weight="bold" fill="#fff" style="stroke:#fff;stroke-width:0.1px">5</text>
<text x="425.20" y="209.00" font-size="6.6" fill="#2c2c2c" textLength="81.29" lengthAdjust="spacingAndGlyphs" style="stroke:none">Cellular response to hypoxia</text>
<rect x="416.2" y="215.80" width="3.3" height="3.3" fill="#c8102e"/>
<text style="stroke:#111;stroke-width:0.08px" x="420.40" y="219.50" font-size="5.4" font-weight="bold" fill="#111" textLength="85.0" lengthAdjust="spacingAndGlyphs">RAS-MAPK-ERK related pathways</text>
<rect x="415.3" y="221.10" width="98.4" height="30.10" fill="#e2899b" stroke="#c8102e" stroke-width="0.9"/>
<circle cx="420.90" cy="226.80" r="3.15" fill="#c8102e" />
<text x="420.90" y="228.55" font-size="5.0" text-anchor="middle" font-weight="bold" fill="#fff" style="stroke:#fff;stroke-width:0.1px">6</text>
<text x="425.20" y="229.00" font-size="6.6" fill="#2c2c2c" textLength="74.89" lengthAdjust="spacingAndGlyphs" style="stroke:none">Signalling by RAS mutants</text>
<circle cx="420.90" cy="233.30" r="3.15" fill="#c8102e" />
<text x="420.90" y="235.05" font-size="5.0" text-anchor="middle" font-weight="bold" fill="#fff" style="stroke:#fff;stroke-width:0.1px">7</text>
<text x="425.20" y="235.50" font-size="6.6" fill="#2c2c2c" textLength="80.09" lengthAdjust="spacingAndGlyphs" style="stroke:none">Oncogenic MAPK signalling</text>
<circle cx="420.90" cy="239.90" r="3.15" fill="#c8102e" />
<text x="420.90" y="241.65" font-size="5.0" text-anchor="middle" font-weight="bold" fill="#fff" style="stroke:#fff;stroke-width:0.1px">8</text>
<text x="425.20" y="242.10" font-size="6.6" fill="#2c2c2c" textLength="74.89" lengthAdjust="spacingAndGlyphs" style="stroke:none">MAPK6_MAPK4 signalling</text>
<circle cx="420.90" cy="246.40" r="3.15" fill="#c8102e" />
<text x="420.90" y="248.15" font-size="5.0" text-anchor="middle" font-weight="bold" fill="#fff" style="stroke:#fff;stroke-width:0.1px">9</text>
<text x="425.20" y="248.60" font-size="6.6" fill="#2c2c2c" textLength="79.69" lengthAdjust="spacingAndGlyphs" style="stroke:none">Regulation of RAS by GAPS</text>
<rect x="416.2" y="257.40" width="3.3" height="3.3" fill="#8a5520"/>
<text style="stroke:#111;stroke-width:0.08px" x="420.40" y="261.10" font-size="5.4" font-weight="bold" fill="#111" textLength="77.2" lengthAdjust="spacingAndGlyphs">Inflammation related pathways</text>
<rect x="415.3" y="262.60" width="98.4" height="35.00" fill="#d8cdc0" stroke="#8a5520" stroke-width="0.9"/>
<circle cx="420.90" cy="267.20" r="3.15" fill="#8a5520" />
<text x="420.90" y="268.95" font-size="3.9" text-anchor="middle" font-weight="bold" fill="#e0cdb8" style="stroke:none">10</text>
<text x="425.20" y="269.40" font-size="6.6" fill="#2c2c2c" textLength="57.19" lengthAdjust="spacingAndGlyphs" style="stroke:none">Interferon signalling</text>
<circle cx="420.90" cy="273.90" r="3.15" fill="#8a5520" />
<text x="420.90" y="275.65" font-size="3.9" text-anchor="middle" font-weight="bold" fill="#e0cdb8" style="stroke:none">11</text>
<text x="425.20" y="276.10" font-size="6.6" fill="#2c2c2c" textLength="64.79" lengthAdjust="spacingAndGlyphs" style="stroke:none">Inflammatory response</text>
<circle cx="420.90" cy="280.50" r="3.15" fill="#8a5520" />
<text x="420.90" y="282.25" font-size="3.9" text-anchor="middle" font-weight="bold" fill="#e0cdb8" style="stroke:none">12</text>
<text x="425.20" y="282.70" font-size="6.6" fill="#2c2c2c" textLength="86.99" lengthAdjust="spacingAndGlyphs" style="stroke:none">Chemokine signalling pathway</text>
<circle cx="420.90" cy="287.10" r="3.15" fill="#8a5520" />
<text x="420.90" y="288.85" font-size="3.9" text-anchor="middle" font-weight="bold" fill="#e0cdb8" style="stroke:none">13</text>
<text x="425.20" y="289.30" font-size="6.6" fill="#2c2c2c" textLength="82.59" lengthAdjust="spacingAndGlyphs" style="stroke:none">Interleukin 1 family signalling</text>
<circle cx="420.90" cy="293.60" r="3.15" fill="#8a5520" />
<text x="420.90" y="295.35" font-size="3.9" text-anchor="middle" font-weight="bold" fill="#e0cdb8" style="stroke:none">14</text>
<text x="425.20" y="295.80" font-size="6.6" fill="#2c2c2c" textLength="37.79" lengthAdjust="spacingAndGlyphs" style="stroke:none">Complement</text>
</g>
<rect x="0.6" y="0.6" width="518.8" height="323.8" fill="none" stroke="#000" stroke-width="1.4"/>
</svg>
</body></html>
